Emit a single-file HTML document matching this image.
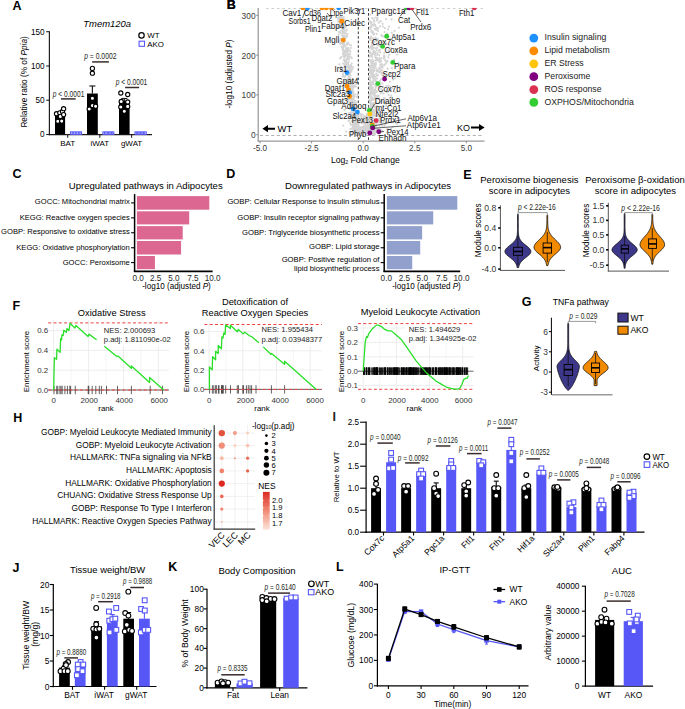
<!DOCTYPE html>
<html><head><meta charset="utf-8"><style>
html,body{margin:0;padding:0;background:#fff;}
svg{display:block;font-family:"Liberation Sans",sans-serif;}

</style></head><body>
<svg width="685" height="709" viewBox="0 0 685 709">
<rect width="685" height="709" fill="#fff"/>
<text x="12.6" y="10" font-size="12.5" font-weight="bold">A</text>
<text x="83.3" y="26.8" font-size="9.4" font-style="italic" textLength="47.7" lengthAdjust="spacingAndGlyphs">Tmem120a</text>
<line x1="49.4" y1="31.3" x2="49.4" y2="135.2" stroke="#231f20" stroke-width="1.2"/>
<line x1="48.8" y1="134.6" x2="152" y2="134.6" stroke="#231f20" stroke-width="1.2"/>
<line x1="46.2" y1="31.7" x2="49.4" y2="31.7" stroke="#231f20" stroke-width="1.1"/>
<text x="44.6" y="34.6" font-size="8.2" text-anchor="end">150</text>
<line x1="46.2" y1="65.97" x2="49.4" y2="65.97" stroke="#231f20" stroke-width="1.1"/>
<text x="44.6" y="68.87" font-size="8.2" text-anchor="end">100</text>
<line x1="46.2" y1="100.23" x2="49.4" y2="100.23" stroke="#231f20" stroke-width="1.1"/>
<text x="44.6" y="103.14" font-size="8.2" text-anchor="end">50</text>
<line x1="46.2" y1="134.5" x2="49.4" y2="134.5" stroke="#231f20" stroke-width="1.1"/>
<text x="44.6" y="137.4" font-size="8.2" text-anchor="end">0</text>
<text x="27.2" y="81.9" font-size="8.27" text-anchor="middle" transform="rotate(-90 27.2 81.9)">Relative ratio (% of <tspan font-style="italic">Ppia</tspan>)</text>
<line x1="67.7" y1="134.6" x2="67.7" y2="137.8" stroke="#231f20" stroke-width="1.1"/>
<text x="67.7" y="145.6" font-size="8" text-anchor="middle">BAT</text>
<line x1="99.8" y1="134.6" x2="99.8" y2="137.8" stroke="#231f20" stroke-width="1.1"/>
<text x="99.8" y="145.6" font-size="8" text-anchor="middle">iWAT</text>
<line x1="131.6" y1="134.6" x2="131.6" y2="137.8" stroke="#231f20" stroke-width="1.1"/>
<text x="131.6" y="145.6" font-size="8" text-anchor="middle">gWAT</text>
<rect x="55" y="114.28" width="10.1" height="20.22" fill="#000"/>
<line x1="60.05" y1="114.28" x2="60.05" y2="112.23" stroke="#231f20" stroke-width="1.2"/>
<line x1="57.05" y1="112.23" x2="63.05" y2="112.23" stroke="#231f20" stroke-width="1.2"/>
<rect x="87" y="93.52" width="10.8" height="40.98" fill="#000"/>
<line x1="92.4" y1="93.52" x2="92.4" y2="85.98" stroke="#231f20" stroke-width="1.2"/>
<line x1="89.4" y1="85.98" x2="95.4" y2="85.98" stroke="#231f20" stroke-width="1.2"/>
<rect x="119" y="100.92" width="10.6" height="33.58" fill="#000"/>
<line x1="124.3" y1="100.92" x2="124.3" y2="98.52" stroke="#231f20" stroke-width="1.2"/>
<line x1="121.3" y1="98.52" x2="127.3" y2="98.52" stroke="#231f20" stroke-width="1.2"/>
<rect x="70.6" y="131.9" width="10.9" height="2.4" fill="#fff" stroke="#5757f7" stroke-width="1.1"/>
<rect x="72.2" y="132.3" width="1.6" height="1.6" fill="#fff" stroke="#5757f7" stroke-width="0.8"/>
<rect x="75.3" y="132.3" width="1.6" height="1.6" fill="#fff" stroke="#5757f7" stroke-width="0.8"/>
<rect x="78.4" y="132.3" width="1.6" height="1.6" fill="#fff" stroke="#5757f7" stroke-width="0.8"/>
<rect x="102.9" y="131.9" width="10.9" height="2.4" fill="#fff" stroke="#5757f7" stroke-width="1.1"/>
<rect x="104.5" y="132.3" width="1.6" height="1.6" fill="#fff" stroke="#5757f7" stroke-width="0.8"/>
<rect x="107.6" y="132.3" width="1.6" height="1.6" fill="#fff" stroke="#5757f7" stroke-width="0.8"/>
<rect x="110.7" y="132.3" width="1.6" height="1.6" fill="#fff" stroke="#5757f7" stroke-width="0.8"/>
<rect x="135" y="131.9" width="11.3" height="2.4" fill="#fff" stroke="#5757f7" stroke-width="1.1"/>
<rect x="136.6" y="132.3" width="1.6" height="1.6" fill="#fff" stroke="#5757f7" stroke-width="0.8"/>
<rect x="139.7" y="132.3" width="1.6" height="1.6" fill="#fff" stroke="#5757f7" stroke-width="0.8"/>
<rect x="142.8" y="132.3" width="1.6" height="1.6" fill="#fff" stroke="#5757f7" stroke-width="0.8"/>
<circle cx="56.5" cy="113.7" r="2.1" fill="#fff" stroke="#000" stroke-width="1.1"/>
<circle cx="59.8" cy="112.8" r="2.1" fill="#fff" stroke="#000" stroke-width="1.1"/>
<circle cx="62.5" cy="111.5" r="2.1" fill="#fff" stroke="#000" stroke-width="1.1"/>
<circle cx="63.6" cy="108.7" r="2.1" fill="#fff" stroke="#000" stroke-width="1.1"/>
<circle cx="57.8" cy="121.3" r="2.1" fill="#fff" stroke="#000" stroke-width="1.1"/>
<circle cx="61.7" cy="121.1" r="2.1" fill="#fff" stroke="#000" stroke-width="1.1"/>
<circle cx="60.4" cy="116.4" r="2.1" fill="#fff" stroke="#000" stroke-width="1.1"/>
<circle cx="63.6" cy="114.6" r="2.1" fill="#fff" stroke="#000" stroke-width="1.1"/>
<circle cx="92.4" cy="68.4" r="2.1" fill="#fff" stroke="#000" stroke-width="1.1"/>
<circle cx="92.4" cy="73.2" r="2.1" fill="#fff" stroke="#000" stroke-width="1.1"/>
<circle cx="92.4" cy="98.3" r="2.1" fill="#fff" stroke="#000" stroke-width="1.1"/>
<circle cx="89.2" cy="109" r="2.1" fill="#fff" stroke="#000" stroke-width="1.1"/>
<circle cx="92.4" cy="105.5" r="2.1" fill="#fff" stroke="#000" stroke-width="1.1"/>
<circle cx="95.6" cy="106.2" r="2.1" fill="#fff" stroke="#000" stroke-width="1.1"/>
<circle cx="120.8" cy="107" r="2.1" fill="#fff" stroke="#000" stroke-width="1.1"/>
<circle cx="127.7" cy="106.4" r="2.1" fill="#fff" stroke="#000" stroke-width="1.1"/>
<circle cx="120.8" cy="93" r="2.1" fill="#fff" stroke="#000" stroke-width="1.1"/>
<circle cx="127.7" cy="94.5" r="2.1" fill="#fff" stroke="#000" stroke-width="1.1"/>
<circle cx="124.3" cy="111.2" r="2.1" fill="#fff" stroke="#000" stroke-width="1.1"/>
<circle cx="127.7" cy="102" r="2.1" fill="#fff" stroke="#000" stroke-width="1.1"/>
<circle cx="121.2" cy="101.5" r="2.1" fill="#fff" stroke="#000" stroke-width="1.1"/>
<text x="52.8" y="97.4" font-size="8.6" textLength="31.6" lengthAdjust="spacingAndGlyphs" fill="#231f20" style="stroke:none"><tspan font-style="italic">p</tspan> &lt; 0.0001</text>
<line x1="61" y1="98.9" x2="75.6" y2="98.9" stroke="#3a2c2c" stroke-width="1.5"/>
<text x="84.2" y="59.2" font-size="8.6" textLength="32.3" lengthAdjust="spacingAndGlyphs" fill="#231f20" style="stroke:none"><tspan font-style="italic">p</tspan> = 0.0002</text>
<line x1="92.2" y1="61.9" x2="108.9" y2="61.9" stroke="#3a2c2c" stroke-width="1.5"/>
<text x="115.8" y="85.1" font-size="8.6" textLength="31.5" lengthAdjust="spacingAndGlyphs" fill="#231f20" style="stroke:none"><tspan font-style="italic">p</tspan> &lt; 0.0001</text>
<line x1="125.1" y1="87.5" x2="139.1" y2="87.5" stroke="#3a2c2c" stroke-width="1.5"/>
<circle cx="141.5" cy="35.4" r="2.7" fill="#fff" stroke="#000" stroke-width="1.2"/>
<text x="147.3" y="38.4" font-size="8" textLength="12.3" lengthAdjust="spacingAndGlyphs">WT</text>
<rect x="139.1" y="41.2" width="5.4" height="5.1" fill="#fff" stroke="#5757f7" stroke-width="1.1"/>
<text x="147.3" y="46.6" font-size="8" textLength="16.7" lengthAdjust="spacingAndGlyphs">AKO</text>
<text x="226.8" y="9.4" font-size="12.5" font-weight="bold">B</text>
<line x1="258.2" y1="8" x2="258.2" y2="141.6" stroke="#999" stroke-width="1.25"/>
<line x1="257.6" y1="141.1" x2="484.5" y2="141.1" stroke="#999" stroke-width="1.1"/>
<line x1="256.2" y1="134.7" x2="258.2" y2="134.7" stroke="#8c8c8c" stroke-width="1"/>
<text x="255.6" y="138.2" font-size="8.4" text-anchor="end" fill="#3a3a3a">0</text>
<line x1="256.2" y1="94.9" x2="258.2" y2="94.9" stroke="#8c8c8c" stroke-width="1"/>
<text x="255.6" y="98.4" font-size="8.4" text-anchor="end" fill="#3a3a3a">100</text>
<line x1="256.2" y1="55.1" x2="258.2" y2="55.1" stroke="#8c8c8c" stroke-width="1"/>
<text x="255.6" y="58.6" font-size="8.4" text-anchor="end" fill="#3a3a3a">200</text>
<line x1="256.2" y1="15.3" x2="258.2" y2="15.3" stroke="#8c8c8c" stroke-width="1"/>
<text x="255.6" y="18.8" font-size="8.4" text-anchor="end" fill="#3a3a3a">300</text>
<line x1="260" y1="141.1" x2="260" y2="143.3" stroke="#8c8c8c" stroke-width="1"/>
<text x="260" y="150.7" font-size="8.2" text-anchor="middle" fill="#3a3a3a">-5.0</text>
<line x1="311.6" y1="141.1" x2="311.6" y2="143.3" stroke="#8c8c8c" stroke-width="1"/>
<text x="311.6" y="150.7" font-size="8.2" text-anchor="middle" fill="#3a3a3a">-2.5</text>
<line x1="363.2" y1="141.1" x2="363.2" y2="143.3" stroke="#8c8c8c" stroke-width="1"/>
<text x="363.2" y="150.7" font-size="8.2" text-anchor="middle" fill="#3a3a3a">0.0</text>
<line x1="414.8" y1="141.1" x2="414.8" y2="143.3" stroke="#8c8c8c" stroke-width="1"/>
<text x="414.8" y="150.7" font-size="8.2" text-anchor="middle" fill="#3a3a3a">2.5</text>
<line x1="466.4" y1="141.1" x2="466.4" y2="143.3" stroke="#8c8c8c" stroke-width="1"/>
<text x="466.4" y="150.7" font-size="8.2" text-anchor="middle" fill="#3a3a3a">5.0</text>
<text x="365.3" y="163" font-size="8.6" text-anchor="middle">Log<tspan font-size="5.2" dy="0.8">2</tspan><tspan dy="-0.8"> Fold Change</tspan></text>
<text x="232.3" y="74" font-size="8.16" text-anchor="middle" transform="rotate(-90 232.3 74)">-log10 (adjusted <tspan font-style="italic">P</tspan>)</text>
<line x1="260" y1="135.5" x2="484" y2="135.5" stroke="#9a9a9a" stroke-width="0.8" stroke-dasharray="3,2.6"/>
<line x1="266" y1="8.4" x2="484" y2="8.4" stroke="#bbbbbb" stroke-width="0.8" stroke-dasharray="2.5,3"/>
<line x1="358.3" y1="8.5" x2="358.3" y2="141" stroke="#222" stroke-width="0.9" stroke-dasharray="2.6,2"/>
<line x1="368.5" y1="8.5" x2="368.5" y2="141" stroke="#222" stroke-width="0.9" stroke-dasharray="2.6,2"/>
<g fill="#d4d4d4">
<circle cx="343.1" cy="73.3" r="1.1"/>
<circle cx="346.6" cy="74.8" r="1.1"/>
<circle cx="348.0" cy="79.7" r="1.1"/>
<circle cx="348.6" cy="80.1" r="1.1"/>
<circle cx="351.5" cy="93.5" r="1.1"/>
<circle cx="345.2" cy="55.7" r="1.1"/>
<circle cx="344.3" cy="28.7" r="1.1"/>
<circle cx="338.2" cy="21.8" r="1.1"/>
<circle cx="356.0" cy="132.1" r="1.1"/>
<circle cx="343.1" cy="37.5" r="1.1"/>
<circle cx="340.5" cy="17.7" r="1.1"/>
<circle cx="344.3" cy="41.7" r="1.1"/>
<circle cx="348.2" cy="48.2" r="1.1"/>
<circle cx="349.0" cy="71.9" r="1.1"/>
<circle cx="350.6" cy="117.0" r="1.1"/>
<circle cx="348.9" cy="78.7" r="1.1"/>
<circle cx="349.7" cy="97.1" r="1.1"/>
<circle cx="357.0" cy="133.7" r="1.1"/>
<circle cx="356.9" cy="133.5" r="1.1"/>
<circle cx="341.7" cy="46.7" r="1.1"/>
<circle cx="350.1" cy="53.9" r="1.1"/>
<circle cx="349.7" cy="67.2" r="1.1"/>
<circle cx="349.4" cy="117.4" r="1.1"/>
<circle cx="357.8" cy="117.5" r="1.1"/>
<circle cx="347.3" cy="44.2" r="1.1"/>
<circle cx="354.7" cy="131.9" r="1.1"/>
<circle cx="351.0" cy="66.9" r="1.1"/>
<circle cx="355.0" cy="110.0" r="1.1"/>
<circle cx="347.8" cy="51.6" r="1.1"/>
<circle cx="357.2" cy="130.1" r="1.1"/>
<circle cx="354.5" cy="107.7" r="1.1"/>
<circle cx="344.3" cy="30.1" r="1.1"/>
<circle cx="342.7" cy="24.4" r="1.1"/>
<circle cx="348.6" cy="85.5" r="1.1"/>
<circle cx="350.1" cy="72.7" r="1.1"/>
<circle cx="347.4" cy="34.1" r="1.1"/>
<circle cx="353.4" cy="95.1" r="1.1"/>
<circle cx="346.7" cy="44.6" r="1.1"/>
<circle cx="350.4" cy="51.6" r="1.1"/>
<circle cx="345.5" cy="55.8" r="1.1"/>
<circle cx="355.5" cy="121.6" r="1.1"/>
<circle cx="357.0" cy="118.3" r="1.1"/>
<circle cx="357.7" cy="94.8" r="1.1"/>
<circle cx="349.5" cy="44.6" r="1.1"/>
<circle cx="345.9" cy="50.2" r="1.1"/>
<circle cx="343.9" cy="54.8" r="1.1"/>
<circle cx="345.4" cy="26.3" r="1.1"/>
<circle cx="347.2" cy="48.3" r="1.1"/>
<circle cx="348.8" cy="90.3" r="1.1"/>
<circle cx="356.3" cy="129.6" r="1.1"/>
<circle cx="351.5" cy="87.3" r="1.1"/>
<circle cx="342.7" cy="37.1" r="1.1"/>
<circle cx="356.0" cy="124.1" r="1.1"/>
<circle cx="342.7" cy="41.7" r="1.1"/>
<circle cx="354.4" cy="105.7" r="1.1"/>
<circle cx="355.2" cy="128.6" r="1.1"/>
<circle cx="352.7" cy="121.3" r="1.1"/>
<circle cx="341.4" cy="30.5" r="1.1"/>
<circle cx="343.7" cy="21.4" r="1.1"/>
<circle cx="351.9" cy="101.8" r="1.1"/>
<circle cx="347.1" cy="50.0" r="1.1"/>
<circle cx="343.0" cy="54.5" r="1.1"/>
<circle cx="344.1" cy="39.8" r="1.1"/>
<circle cx="344.1" cy="46.5" r="1.1"/>
<circle cx="352.3" cy="85.5" r="1.1"/>
<circle cx="343.1" cy="52.9" r="1.1"/>
<circle cx="355.5" cy="125.1" r="1.1"/>
<circle cx="346.2" cy="51.5" r="1.1"/>
<circle cx="350.0" cy="72.5" r="1.1"/>
<circle cx="347.9" cy="63.5" r="1.1"/>
<circle cx="352.0" cy="87.0" r="1.1"/>
<circle cx="356.8" cy="122.3" r="1.1"/>
<circle cx="354.0" cy="131.9" r="1.1"/>
<circle cx="347.2" cy="88.4" r="1.1"/>
<circle cx="344.1" cy="35.3" r="1.1"/>
<circle cx="355.3" cy="124.3" r="1.1"/>
<circle cx="352.8" cy="101.4" r="1.1"/>
<circle cx="351.2" cy="94.2" r="1.1"/>
<circle cx="348.8" cy="76.7" r="1.1"/>
<circle cx="354.2" cy="133.9" r="1.1"/>
<circle cx="338.4" cy="26.6" r="1.1"/>
<circle cx="353.9" cy="123.3" r="1.1"/>
<circle cx="351.5" cy="105.4" r="1.1"/>
<circle cx="350.9" cy="124.9" r="1.1"/>
<circle cx="344.8" cy="61.5" r="1.1"/>
<circle cx="349.6" cy="120.1" r="1.1"/>
<circle cx="349.4" cy="69.2" r="1.1"/>
<circle cx="345.4" cy="87.1" r="1.1"/>
<circle cx="348.6" cy="92.9" r="1.1"/>
<circle cx="353.2" cy="91.1" r="1.1"/>
<circle cx="337.3" cy="27.3" r="1.1"/>
<circle cx="348.5" cy="121.0" r="1.1"/>
<circle cx="349.4" cy="104.4" r="1.1"/>
<circle cx="353.2" cy="88.0" r="1.1"/>
<circle cx="349.0" cy="71.9" r="1.1"/>
<circle cx="352.0" cy="106.9" r="1.1"/>
<circle cx="339.3" cy="20.0" r="1.1"/>
<circle cx="343.4" cy="46.7" r="1.1"/>
<circle cx="348.6" cy="101.1" r="1.1"/>
<circle cx="355.4" cy="125.4" r="1.1"/>
<circle cx="347.7" cy="49.9" r="1.1"/>
<circle cx="352.1" cy="98.9" r="1.1"/>
<circle cx="347.4" cy="43.3" r="1.1"/>
<circle cx="356.6" cy="96.9" r="1.1"/>
<circle cx="350.2" cy="72.1" r="1.1"/>
<circle cx="350.3" cy="97.5" r="1.1"/>
<circle cx="340.3" cy="42.8" r="1.1"/>
<circle cx="357.3" cy="124.8" r="1.1"/>
<circle cx="352.2" cy="121.1" r="1.1"/>
<circle cx="348.8" cy="57.3" r="1.1"/>
<circle cx="338.6" cy="34.8" r="1.1"/>
<circle cx="354.5" cy="117.7" r="1.1"/>
<circle cx="354.4" cy="102.6" r="1.1"/>
<circle cx="343.5" cy="39.0" r="1.1"/>
<circle cx="348.3" cy="73.1" r="1.1"/>
<circle cx="349.8" cy="68.8" r="1.1"/>
<circle cx="348.9" cy="93.0" r="1.1"/>
<circle cx="354.3" cy="116.6" r="1.1"/>
<circle cx="355.3" cy="132.1" r="1.1"/>
<circle cx="342.0" cy="20.3" r="1.1"/>
<circle cx="356.1" cy="120.3" r="1.1"/>
<circle cx="347.4" cy="56.4" r="1.1"/>
<circle cx="355.0" cy="111.4" r="1.1"/>
<circle cx="348.8" cy="73.6" r="1.1"/>
<circle cx="342.5" cy="19.3" r="1.1"/>
<circle cx="342.0" cy="35.4" r="1.1"/>
<circle cx="340.0" cy="22.6" r="1.1"/>
<circle cx="349.2" cy="93.5" r="1.1"/>
<circle cx="353.9" cy="96.3" r="1.1"/>
<circle cx="345.9" cy="99.6" r="1.1"/>
<circle cx="343.0" cy="42.9" r="1.1"/>
<circle cx="341.5" cy="17.0" r="1.1"/>
<circle cx="348.5" cy="75.6" r="1.1"/>
<circle cx="344.2" cy="51.9" r="1.1"/>
<circle cx="345.9" cy="60.8" r="1.1"/>
<circle cx="348.0" cy="91.8" r="1.1"/>
<circle cx="349.4" cy="107.5" r="1.1"/>
<circle cx="357.5" cy="123.9" r="1.1"/>
<circle cx="355.3" cy="126.8" r="1.1"/>
<circle cx="347.3" cy="73.4" r="1.1"/>
<circle cx="353.3" cy="93.0" r="1.1"/>
<circle cx="349.0" cy="86.6" r="1.1"/>
<circle cx="356.6" cy="121.0" r="1.1"/>
<circle cx="342.8" cy="74.6" r="1.1"/>
<circle cx="352.7" cy="95.9" r="1.1"/>
<circle cx="355.9" cy="114.4" r="1.1"/>
<circle cx="353.8" cy="103.3" r="1.1"/>
<circle cx="354.9" cy="131.9" r="1.1"/>
<circle cx="350.4" cy="83.0" r="1.1"/>
<circle cx="353.0" cy="124.3" r="1.1"/>
<circle cx="353.8" cy="118.4" r="1.1"/>
<circle cx="349.3" cy="71.9" r="1.1"/>
<circle cx="350.4" cy="84.5" r="1.1"/>
<circle cx="338.6" cy="19.8" r="1.1"/>
<circle cx="357.3" cy="113.3" r="1.1"/>
<circle cx="348.6" cy="59.5" r="1.1"/>
<circle cx="354.4" cy="111.0" r="1.1"/>
<circle cx="350.7" cy="80.7" r="1.1"/>
<circle cx="354.7" cy="103.9" r="1.1"/>
<circle cx="352.4" cy="128.2" r="1.1"/>
<circle cx="350.2" cy="77.9" r="1.1"/>
<circle cx="344.6" cy="45.6" r="1.1"/>
<circle cx="348.7" cy="81.8" r="1.1"/>
<circle cx="355.4" cy="94.5" r="1.1"/>
<circle cx="351.5" cy="81.4" r="1.1"/>
<circle cx="343.7" cy="56.7" r="1.1"/>
<circle cx="350.7" cy="65.0" r="1.1"/>
<circle cx="340.2" cy="44.0" r="1.1"/>
<circle cx="357.5" cy="117.9" r="1.1"/>
<circle cx="349.8" cy="87.1" r="1.1"/>
<circle cx="341.7" cy="43.1" r="1.1"/>
<circle cx="350.2" cy="90.7" r="1.1"/>
<circle cx="344.7" cy="19.7" r="1.1"/>
<circle cx="347.2" cy="67.2" r="1.1"/>
<circle cx="350.9" cy="112.5" r="1.1"/>
<circle cx="351.0" cy="100.3" r="1.1"/>
<circle cx="339.7" cy="25.3" r="1.1"/>
<circle cx="355.2" cy="129.4" r="1.1"/>
<circle cx="355.1" cy="125.8" r="1.1"/>
<circle cx="346.3" cy="33.6" r="1.1"/>
<circle cx="350.5" cy="71.1" r="1.1"/>
<circle cx="343.8" cy="76.1" r="1.1"/>
<circle cx="347.8" cy="57.3" r="1.1"/>
<circle cx="357.4" cy="126.0" r="1.1"/>
<circle cx="355.1" cy="110.1" r="1.1"/>
<circle cx="345.3" cy="46.4" r="1.1"/>
<circle cx="351.0" cy="99.9" r="1.1"/>
<circle cx="353.3" cy="92.4" r="1.1"/>
<circle cx="342.9" cy="30.6" r="1.1"/>
<circle cx="348.1" cy="80.0" r="1.1"/>
<circle cx="346.5" cy="49.2" r="1.1"/>
<circle cx="351.4" cy="71.5" r="1.1"/>
<circle cx="344.7" cy="64.3" r="1.1"/>
<circle cx="345.6" cy="37.8" r="1.1"/>
<circle cx="342.2" cy="43.5" r="1.1"/>
<circle cx="347.0" cy="82.2" r="1.1"/>
<circle cx="350.5" cy="117.9" r="1.1"/>
<circle cx="341.9" cy="47.0" r="1.1"/>
<circle cx="354.9" cy="105.8" r="1.1"/>
<circle cx="341.3" cy="57.2" r="1.1"/>
<circle cx="348.1" cy="57.1" r="1.1"/>
<circle cx="355.6" cy="133.8" r="1.1"/>
<circle cx="356.2" cy="121.9" r="1.1"/>
<circle cx="354.1" cy="104.3" r="1.1"/>
<circle cx="349.6" cy="50.3" r="1.1"/>
<circle cx="350.9" cy="69.7" r="1.1"/>
<circle cx="355.4" cy="111.2" r="1.1"/>
<circle cx="353.9" cy="99.7" r="1.1"/>
<circle cx="342.6" cy="18.2" r="1.1"/>
<circle cx="354.9" cy="124.5" r="1.1"/>
<circle cx="338.8" cy="32.0" r="1.1"/>
<circle cx="349.2" cy="79.1" r="1.1"/>
<circle cx="352.4" cy="99.7" r="1.1"/>
<circle cx="344.0" cy="30.8" r="1.1"/>
<circle cx="338.8" cy="21.2" r="1.1"/>
<circle cx="349.3" cy="86.6" r="1.1"/>
<circle cx="344.5" cy="36.1" r="1.1"/>
<circle cx="355.9" cy="116.7" r="1.1"/>
<circle cx="357.4" cy="133.0" r="1.1"/>
<circle cx="341.8" cy="24.7" r="1.1"/>
<circle cx="351.5" cy="128.8" r="1.1"/>
<circle cx="347.7" cy="58.5" r="1.1"/>
<circle cx="346.1" cy="75.0" r="1.1"/>
<circle cx="350.5" cy="90.2" r="1.1"/>
<circle cx="339.8" cy="17.4" r="1.1"/>
<circle cx="339.6" cy="40.6" r="1.1"/>
<circle cx="348.4" cy="73.5" r="1.1"/>
<circle cx="341.9" cy="42.3" r="1.1"/>
<circle cx="343.6" cy="38.5" r="1.1"/>
<circle cx="355.0" cy="122.5" r="1.1"/>
<circle cx="352.3" cy="112.5" r="1.1"/>
<circle cx="346.3" cy="93.4" r="1.1"/>
<circle cx="345.4" cy="67.7" r="1.1"/>
<circle cx="354.5" cy="132.1" r="1.1"/>
<circle cx="353.5" cy="112.9" r="1.1"/>
<circle cx="355.5" cy="106.2" r="1.1"/>
<circle cx="349.3" cy="114.0" r="1.1"/>
<circle cx="355.7" cy="121.1" r="1.1"/>
<circle cx="353.5" cy="108.8" r="1.1"/>
<circle cx="349.9" cy="103.8" r="1.1"/>
<circle cx="340.8" cy="25.9" r="1.1"/>
<circle cx="343.7" cy="17.0" r="1.1"/>
<circle cx="344.8" cy="61.9" r="1.1"/>
<circle cx="342.4" cy="47.0" r="1.1"/>
<circle cx="354.5" cy="128.1" r="1.1"/>
<circle cx="349.6" cy="96.8" r="1.1"/>
<circle cx="347.8" cy="86.7" r="1.1"/>
<circle cx="356.0" cy="134.0" r="1.1"/>
<circle cx="350.1" cy="94.9" r="1.1"/>
<circle cx="352.0" cy="131.9" r="1.1"/>
<circle cx="338.3" cy="19.0" r="1.1"/>
<circle cx="342.7" cy="50.0" r="1.1"/>
<circle cx="349.4" cy="67.4" r="1.1"/>
<circle cx="348.0" cy="64.3" r="1.1"/>
<circle cx="342.9" cy="29.8" r="1.1"/>
<circle cx="355.7" cy="84.5" r="1.1"/>
<circle cx="352.7" cy="79.7" r="1.1"/>
<circle cx="355.7" cy="133.5" r="1.1"/>
<circle cx="351.7" cy="94.4" r="1.1"/>
<circle cx="349.8" cy="89.9" r="1.1"/>
<circle cx="357.3" cy="107.9" r="1.1"/>
<circle cx="350.6" cy="75.5" r="1.1"/>
<circle cx="340.6" cy="39.0" r="1.1"/>
<circle cx="342.3" cy="24.3" r="1.1"/>
<circle cx="352.9" cy="128.1" r="1.1"/>
<circle cx="352.3" cy="89.9" r="1.1"/>
<circle cx="346.4" cy="63.1" r="1.1"/>
<circle cx="353.9" cy="85.7" r="1.1"/>
<circle cx="345.5" cy="53.3" r="1.1"/>
<circle cx="339.2" cy="17.6" r="1.1"/>
<circle cx="346.8" cy="48.6" r="1.1"/>
<circle cx="353.4" cy="107.4" r="1.1"/>
<circle cx="351.1" cy="66.0" r="1.1"/>
<circle cx="339.5" cy="23.1" r="1.1"/>
<circle cx="357.3" cy="132.8" r="1.1"/>
<circle cx="354.8" cy="123.8" r="1.1"/>
<circle cx="341.3" cy="70.6" r="1.1"/>
<circle cx="346.3" cy="48.4" r="1.1"/>
<circle cx="353.5" cy="81.4" r="1.1"/>
<circle cx="347.2" cy="75.1" r="1.1"/>
<circle cx="357.6" cy="131.7" r="1.1"/>
<circle cx="340.0" cy="32.0" r="1.1"/>
<circle cx="349.5" cy="92.9" r="1.1"/>
<circle cx="342.6" cy="23.3" r="1.1"/>
<circle cx="351.7" cy="82.0" r="1.1"/>
<circle cx="353.8" cy="97.8" r="1.1"/>
<circle cx="348.4" cy="73.6" r="1.1"/>
<circle cx="351.5" cy="69.5" r="1.1"/>
<circle cx="344.5" cy="109.9" r="1.1"/>
<circle cx="354.1" cy="128.9" r="1.1"/>
<circle cx="352.8" cy="105.1" r="1.1"/>
<circle cx="356.3" cy="122.4" r="1.1"/>
<circle cx="351.7" cy="110.6" r="1.1"/>
<circle cx="344.1" cy="51.8" r="1.1"/>
<circle cx="348.8" cy="99.7" r="1.1"/>
<circle cx="349.9" cy="93.9" r="1.1"/>
<circle cx="353.7" cy="107.2" r="1.1"/>
<circle cx="355.1" cy="131.8" r="1.1"/>
<circle cx="355.7" cy="120.9" r="1.1"/>
<circle cx="346.0" cy="51.7" r="1.1"/>
<circle cx="347.3" cy="70.1" r="1.1"/>
<circle cx="349.1" cy="83.5" r="1.1"/>
<circle cx="345.8" cy="26.2" r="1.1"/>
<circle cx="352.1" cy="84.6" r="1.1"/>
<circle cx="349.2" cy="93.6" r="1.1"/>
<circle cx="346.9" cy="44.3" r="1.1"/>
<circle cx="346.8" cy="60.5" r="1.1"/>
<circle cx="337.5" cy="26.5" r="1.1"/>
<circle cx="344.6" cy="32.6" r="1.1"/>
<circle cx="349.8" cy="108.9" r="1.1"/>
<circle cx="343.1" cy="44.6" r="1.1"/>
<circle cx="354.7" cy="113.4" r="1.1"/>
<circle cx="342.9" cy="63.5" r="1.1"/>
<circle cx="340.2" cy="58.3" r="1.1"/>
<circle cx="349.9" cy="84.3" r="1.1"/>
<circle cx="342.4" cy="70.4" r="1.1"/>
<circle cx="351.7" cy="63.5" r="1.1"/>
<circle cx="345.6" cy="27.0" r="1.1"/>
<circle cx="339.9" cy="27.7" r="1.1"/>
<circle cx="350.9" cy="99.7" r="1.1"/>
<circle cx="346.4" cy="55.1" r="1.1"/>
<circle cx="343.8" cy="44.6" r="1.1"/>
<circle cx="353.6" cy="97.1" r="1.1"/>
<circle cx="353.7" cy="104.1" r="1.1"/>
<circle cx="351.9" cy="100.7" r="1.1"/>
<circle cx="348.6" cy="62.2" r="1.1"/>
<circle cx="351.8" cy="104.2" r="1.1"/>
<circle cx="353.3" cy="102.4" r="1.1"/>
<circle cx="355.7" cy="86.7" r="1.1"/>
<circle cx="352.3" cy="124.7" r="1.1"/>
<circle cx="349.1" cy="71.6" r="1.1"/>
<circle cx="344.4" cy="57.4" r="1.1"/>
<circle cx="352.8" cy="67.1" r="1.1"/>
<circle cx="343.2" cy="49.0" r="1.1"/>
<circle cx="345.6" cy="62.6" r="1.1"/>
<circle cx="349.6" cy="66.7" r="1.1"/>
<circle cx="348.7" cy="65.7" r="1.1"/>
<circle cx="356.8" cy="112.0" r="1.1"/>
<circle cx="351.6" cy="83.4" r="1.1"/>
<circle cx="341.4" cy="40.0" r="1.1"/>
<circle cx="354.6" cy="107.8" r="1.1"/>
<circle cx="340.1" cy="18.9" r="1.1"/>
<circle cx="346.3" cy="80.6" r="1.1"/>
<circle cx="355.1" cy="130.4" r="1.1"/>
<circle cx="351.9" cy="95.9" r="1.1"/>
<circle cx="349.1" cy="84.1" r="1.1"/>
<circle cx="354.4" cy="111.0" r="1.1"/>
<circle cx="353.3" cy="105.4" r="1.1"/>
<circle cx="357.4" cy="123.1" r="1.1"/>
<circle cx="354.8" cy="106.4" r="1.1"/>
<circle cx="351.6" cy="95.6" r="1.1"/>
<circle cx="355.0" cy="108.5" r="1.1"/>
<circle cx="349.9" cy="81.2" r="1.1"/>
<circle cx="344.2" cy="59.8" r="1.1"/>
<circle cx="354.6" cy="130.6" r="1.1"/>
<circle cx="347.2" cy="83.0" r="1.1"/>
<circle cx="351.0" cy="103.6" r="1.1"/>
<circle cx="342.4" cy="68.4" r="1.1"/>
<circle cx="351.5" cy="115.2" r="1.1"/>
<circle cx="349.3" cy="113.0" r="1.1"/>
<circle cx="355.9" cy="116.0" r="1.1"/>
<circle cx="345.4" cy="81.5" r="1.1"/>
<circle cx="353.3" cy="102.4" r="1.1"/>
<circle cx="345.5" cy="69.6" r="1.1"/>
<circle cx="343.3" cy="36.1" r="1.1"/>
<circle cx="339.5" cy="64.3" r="1.1"/>
<circle cx="344.9" cy="38.9" r="1.1"/>
<circle cx="348.7" cy="54.3" r="1.1"/>
<circle cx="357.5" cy="130.8" r="1.1"/>
<circle cx="352.3" cy="95.5" r="1.1"/>
<circle cx="353.7" cy="109.7" r="1.1"/>
<circle cx="349.5" cy="74.0" r="1.1"/>
<circle cx="351.1" cy="88.3" r="1.1"/>
<circle cx="342.7" cy="31.1" r="1.1"/>
<circle cx="344.8" cy="41.0" r="1.1"/>
<circle cx="354.4" cy="103.2" r="1.1"/>
<circle cx="351.0" cy="89.6" r="1.1"/>
<circle cx="347.6" cy="53.0" r="1.1"/>
<circle cx="344.3" cy="39.5" r="1.1"/>
<circle cx="347.8" cy="84.3" r="1.1"/>
<circle cx="351.9" cy="114.2" r="1.1"/>
<circle cx="355.2" cy="121.9" r="1.1"/>
<circle cx="353.5" cy="124.8" r="1.1"/>
<circle cx="356.4" cy="129.4" r="1.1"/>
<circle cx="351.0" cy="45.6" r="1.1"/>
<circle cx="355.6" cy="112.5" r="1.1"/>
<circle cx="344.5" cy="65.4" r="1.1"/>
<circle cx="345.3" cy="52.2" r="1.1"/>
<circle cx="355.3" cy="133.0" r="1.1"/>
<circle cx="339.7" cy="17.0" r="1.1"/>
<circle cx="345.7" cy="75.6" r="1.1"/>
<circle cx="355.8" cy="102.8" r="1.1"/>
<circle cx="351.7" cy="90.8" r="1.1"/>
<circle cx="347.9" cy="57.9" r="1.1"/>
<circle cx="347.7" cy="50.3" r="1.1"/>
<circle cx="349.0" cy="94.3" r="1.1"/>
<circle cx="356.1" cy="133.3" r="1.1"/>
<circle cx="347.0" cy="36.7" r="1.1"/>
<circle cx="355.3" cy="109.1" r="1.1"/>
<circle cx="354.0" cy="114.8" r="1.1"/>
<circle cx="342.1" cy="27.6" r="1.1"/>
<circle cx="347.0" cy="29.6" r="1.1"/>
<circle cx="342.6" cy="76.5" r="1.1"/>
<circle cx="351.9" cy="88.6" r="1.1"/>
<circle cx="353.0" cy="118.6" r="1.1"/>
<circle cx="352.4" cy="69.2" r="1.1"/>
<circle cx="357.2" cy="125.0" r="1.1"/>
<circle cx="352.6" cy="83.7" r="1.1"/>
<circle cx="352.4" cy="81.7" r="1.1"/>
<circle cx="350.5" cy="56.6" r="1.1"/>
<circle cx="348.4" cy="56.6" r="1.1"/>
<circle cx="349.8" cy="75.0" r="1.1"/>
<circle cx="349.9" cy="103.0" r="1.1"/>
<circle cx="346.1" cy="30.8" r="1.1"/>
<circle cx="341.1" cy="66.5" r="1.1"/>
<circle cx="355.7" cy="115.6" r="1.1"/>
<circle cx="354.1" cy="96.2" r="1.1"/>
<circle cx="352.6" cy="102.4" r="1.1"/>
<circle cx="342.6" cy="47.6" r="1.1"/>
<circle cx="340.1" cy="17.0" r="1.1"/>
<circle cx="356.9" cy="133.1" r="1.1"/>
<circle cx="349.3" cy="92.0" r="1.1"/>
<circle cx="343.8" cy="54.1" r="1.1"/>
<circle cx="348.5" cy="55.1" r="1.1"/>
<circle cx="343.8" cy="59.8" r="1.1"/>
<circle cx="348.0" cy="50.0" r="1.1"/>
<circle cx="344.4" cy="42.9" r="1.1"/>
<circle cx="353.4" cy="128.1" r="1.1"/>
<circle cx="349.9" cy="85.9" r="1.1"/>
<circle cx="351.8" cy="115.3" r="1.1"/>
<circle cx="343.5" cy="28.9" r="1.1"/>
<circle cx="352.8" cy="98.8" r="1.1"/>
<circle cx="353.5" cy="102.2" r="1.1"/>
<circle cx="356.6" cy="116.4" r="1.1"/>
<circle cx="352.3" cy="89.3" r="1.1"/>
<circle cx="344.9" cy="37.5" r="1.1"/>
<circle cx="342.5" cy="33.2" r="1.1"/>
<circle cx="355.9" cy="125.5" r="1.1"/>
<circle cx="344.5" cy="70.3" r="1.1"/>
<circle cx="352.9" cy="108.7" r="1.1"/>
<circle cx="352.2" cy="114.7" r="1.1"/>
<circle cx="349.5" cy="68.6" r="1.1"/>
<circle cx="338.1" cy="17.8" r="1.1"/>
<circle cx="355.4" cy="132.1" r="1.1"/>
<circle cx="351.3" cy="96.9" r="1.1"/>
<circle cx="346.4" cy="59.0" r="1.1"/>
<circle cx="346.2" cy="60.3" r="1.1"/>
<circle cx="346.5" cy="64.5" r="1.1"/>
<circle cx="350.6" cy="79.8" r="1.1"/>
<circle cx="346.2" cy="91.4" r="1.1"/>
<circle cx="344.5" cy="37.7" r="1.1"/>
<circle cx="344.4" cy="84.3" r="1.1"/>
<circle cx="345.6" cy="61.6" r="1.1"/>
<circle cx="352.4" cy="102.8" r="1.1"/>
<circle cx="352.2" cy="132.6" r="1.1"/>
<circle cx="353.8" cy="116.2" r="1.1"/>
<circle cx="348.0" cy="42.6" r="1.1"/>
<circle cx="343.4" cy="42.7" r="1.1"/>
<circle cx="342.8" cy="27.7" r="1.1"/>
<circle cx="355.6" cy="101.0" r="1.1"/>
<circle cx="348.9" cy="58.8" r="1.1"/>
<circle cx="347.7" cy="74.5" r="1.1"/>
<circle cx="344.8" cy="33.2" r="1.1"/>
<circle cx="354.9" cy="123.7" r="1.1"/>
<circle cx="346.9" cy="83.7" r="1.1"/>
<circle cx="344.4" cy="50.9" r="1.1"/>
<circle cx="356.0" cy="124.2" r="1.1"/>
<circle cx="343.1" cy="33.0" r="1.1"/>
<circle cx="352.7" cy="115.0" r="1.1"/>
<circle cx="350.7" cy="48.0" r="1.1"/>
<circle cx="351.2" cy="87.2" r="1.1"/>
<circle cx="348.6" cy="84.2" r="1.1"/>
<circle cx="344.1" cy="26.7" r="1.1"/>
<circle cx="356.6" cy="132.6" r="1.1"/>
<circle cx="354.4" cy="127.5" r="1.1"/>
<circle cx="350.0" cy="98.1" r="1.1"/>
<circle cx="350.2" cy="105.5" r="1.1"/>
<circle cx="356.1" cy="112.8" r="1.1"/>
<circle cx="342.3" cy="17.9" r="1.1"/>
<circle cx="346.5" cy="35.7" r="1.1"/>
<circle cx="346.1" cy="65.6" r="1.1"/>
<circle cx="348.9" cy="81.0" r="1.1"/>
<circle cx="343.5" cy="50.8" r="1.1"/>
<circle cx="350.4" cy="94.8" r="1.1"/>
<circle cx="341.1" cy="21.3" r="1.1"/>
<circle cx="354.7" cy="129.6" r="1.1"/>
<circle cx="348.2" cy="90.2" r="1.1"/>
<circle cx="351.6" cy="92.8" r="1.1"/>
<circle cx="352.3" cy="100.1" r="1.1"/>
<circle cx="344.8" cy="77.1" r="1.1"/>
<circle cx="356.6" cy="133.4" r="1.1"/>
<circle cx="344.0" cy="71.1" r="1.1"/>
<circle cx="352.9" cy="86.3" r="1.1"/>
<circle cx="347.9" cy="81.6" r="1.1"/>
<circle cx="350.2" cy="70.9" r="1.1"/>
<circle cx="340.8" cy="23.7" r="1.1"/>
<circle cx="356.0" cy="104.2" r="1.1"/>
<circle cx="348.3" cy="89.9" r="1.1"/>
<circle cx="351.8" cy="107.1" r="1.1"/>
<circle cx="345.7" cy="25.8" r="1.1"/>
<circle cx="340.5" cy="33.2" r="1.1"/>
<circle cx="348.8" cy="66.8" r="1.1"/>
<circle cx="341.0" cy="23.3" r="1.1"/>
<circle cx="342.3" cy="47.8" r="1.1"/>
<circle cx="344.8" cy="56.0" r="1.1"/>
<circle cx="343.6" cy="25.6" r="1.1"/>
<circle cx="355.2" cy="124.5" r="1.1"/>
<circle cx="347.3" cy="69.7" r="1.1"/>
<circle cx="354.5" cy="112.9" r="1.1"/>
<circle cx="354.5" cy="86.4" r="1.1"/>
<circle cx="357.4" cy="123.6" r="1.1"/>
<circle cx="352.5" cy="83.1" r="1.1"/>
<circle cx="357.8" cy="128.7" r="1.1"/>
<circle cx="346.2" cy="55.2" r="1.1"/>
<circle cx="351.7" cy="58.2" r="1.1"/>
<circle cx="356.0" cy="114.0" r="1.1"/>
<circle cx="345.6" cy="66.8" r="1.1"/>
<circle cx="344.7" cy="22.4" r="1.1"/>
<circle cx="343.5" cy="20.2" r="1.1"/>
<circle cx="348.0" cy="78.6" r="1.1"/>
<circle cx="387.6" cy="129.0" r="1.1"/>
<circle cx="371.2" cy="83.0" r="1.1"/>
<circle cx="391.7" cy="62.5" r="1.1"/>
<circle cx="370.6" cy="125.5" r="1.1"/>
<circle cx="371.8" cy="120.0" r="1.1"/>
<circle cx="370.9" cy="83.0" r="1.1"/>
<circle cx="396.9" cy="123.9" r="1.1"/>
<circle cx="378.9" cy="50.5" r="1.1"/>
<circle cx="389.6" cy="49.0" r="1.1"/>
<circle cx="370.7" cy="26.8" r="1.1"/>
<circle cx="371.7" cy="109.1" r="1.1"/>
<circle cx="379.6" cy="125.8" r="1.1"/>
<circle cx="370.4" cy="107.9" r="1.1"/>
<circle cx="386.5" cy="106.2" r="1.1"/>
<circle cx="370.1" cy="79.9" r="1.1"/>
<circle cx="372.9" cy="53.3" r="1.1"/>
<circle cx="370.8" cy="107.6" r="1.1"/>
<circle cx="372.1" cy="47.6" r="1.1"/>
<circle cx="379.4" cy="103.1" r="1.1"/>
<circle cx="378.3" cy="71.7" r="1.1"/>
<circle cx="374.0" cy="124.4" r="1.1"/>
<circle cx="372.8" cy="54.1" r="1.1"/>
<circle cx="374.8" cy="128.3" r="1.1"/>
<circle cx="378.5" cy="60.2" r="1.1"/>
<circle cx="375.3" cy="79.4" r="1.1"/>
<circle cx="369.8" cy="89.2" r="1.1"/>
<circle cx="371.7" cy="96.5" r="1.1"/>
<circle cx="384.1" cy="56.9" r="1.1"/>
<circle cx="373.0" cy="33.4" r="1.1"/>
<circle cx="371.1" cy="112.1" r="1.1"/>
<circle cx="376.5" cy="60.5" r="1.1"/>
<circle cx="391.1" cy="48.3" r="1.1"/>
<circle cx="369.7" cy="133.9" r="1.1"/>
<circle cx="380.0" cy="81.8" r="1.1"/>
<circle cx="390.8" cy="73.1" r="1.1"/>
<circle cx="370.9" cy="85.9" r="1.1"/>
<circle cx="376.7" cy="91.9" r="1.1"/>
<circle cx="378.3" cy="70.2" r="1.1"/>
<circle cx="373.6" cy="114.7" r="1.1"/>
<circle cx="383.1" cy="86.6" r="1.1"/>
<circle cx="374.0" cy="105.0" r="1.1"/>
<circle cx="370.4" cy="130.6" r="1.1"/>
<circle cx="370.5" cy="114.4" r="1.1"/>
<circle cx="371.3" cy="97.3" r="1.1"/>
<circle cx="380.9" cy="79.4" r="1.1"/>
<circle cx="378.3" cy="115.1" r="1.1"/>
<circle cx="375.6" cy="55.0" r="1.1"/>
<circle cx="377.5" cy="53.0" r="1.1"/>
<circle cx="369.8" cy="85.8" r="1.1"/>
<circle cx="377.9" cy="96.2" r="1.1"/>
<circle cx="383.6" cy="93.7" r="1.1"/>
<circle cx="371.1" cy="47.4" r="1.1"/>
<circle cx="377.1" cy="19.9" r="1.1"/>
<circle cx="374.0" cy="78.8" r="1.1"/>
<circle cx="383.8" cy="58.4" r="1.1"/>
<circle cx="394.5" cy="30.9" r="1.1"/>
<circle cx="374.9" cy="93.3" r="1.1"/>
<circle cx="371.0" cy="115.5" r="1.1"/>
<circle cx="373.2" cy="42.6" r="1.1"/>
<circle cx="373.6" cy="25.3" r="1.1"/>
<circle cx="374.4" cy="98.7" r="1.1"/>
<circle cx="377.4" cy="58.7" r="1.1"/>
<circle cx="387.3" cy="33.6" r="1.1"/>
<circle cx="372.3" cy="46.3" r="1.1"/>
<circle cx="380.9" cy="44.6" r="1.1"/>
<circle cx="377.8" cy="119.3" r="1.1"/>
<circle cx="375.1" cy="28.9" r="1.1"/>
<circle cx="371.5" cy="70.8" r="1.1"/>
<circle cx="369.7" cy="132.3" r="1.1"/>
<circle cx="380.1" cy="84.8" r="1.1"/>
<circle cx="370.2" cy="133.7" r="1.1"/>
<circle cx="379.9" cy="81.1" r="1.1"/>
<circle cx="372.5" cy="24.7" r="1.1"/>
<circle cx="370.3" cy="124.9" r="1.1"/>
<circle cx="372.3" cy="74.1" r="1.1"/>
<circle cx="370.1" cy="77.6" r="1.1"/>
<circle cx="377.1" cy="112.8" r="1.1"/>
<circle cx="372.2" cy="54.2" r="1.1"/>
<circle cx="371.4" cy="91.5" r="1.1"/>
<circle cx="389.8" cy="81.8" r="1.1"/>
<circle cx="372.9" cy="70.7" r="1.1"/>
<circle cx="373.8" cy="133.3" r="1.1"/>
<circle cx="375.1" cy="24.8" r="1.1"/>
<circle cx="369.9" cy="101.6" r="1.1"/>
<circle cx="379.4" cy="68.3" r="1.1"/>
<circle cx="374.1" cy="122.5" r="1.1"/>
<circle cx="372.6" cy="124.5" r="1.1"/>
<circle cx="384.3" cy="74.1" r="1.1"/>
<circle cx="381.8" cy="72.7" r="1.1"/>
<circle cx="373.5" cy="52.3" r="1.1"/>
<circle cx="377.1" cy="47.9" r="1.1"/>
<circle cx="371.7" cy="45.2" r="1.1"/>
<circle cx="375.3" cy="52.1" r="1.1"/>
<circle cx="374.6" cy="64.1" r="1.1"/>
<circle cx="374.6" cy="134.4" r="1.1"/>
<circle cx="370.7" cy="122.3" r="1.1"/>
<circle cx="370.1" cy="72.9" r="1.1"/>
<circle cx="372.3" cy="105.7" r="1.1"/>
<circle cx="369.7" cy="59.9" r="1.1"/>
<circle cx="372.4" cy="47.7" r="1.1"/>
<circle cx="390.1" cy="74.1" r="1.1"/>
<circle cx="371.4" cy="108.1" r="1.1"/>
<circle cx="370.9" cy="70.4" r="1.1"/>
<circle cx="371.6" cy="129.2" r="1.1"/>
<circle cx="376.9" cy="113.0" r="1.1"/>
<circle cx="369.6" cy="126.5" r="1.1"/>
<circle cx="373.6" cy="65.7" r="1.1"/>
<circle cx="391.8" cy="32.7" r="1.1"/>
<circle cx="382.0" cy="66.1" r="1.1"/>
<circle cx="369.9" cy="88.0" r="1.1"/>
<circle cx="371.7" cy="74.2" r="1.1"/>
<circle cx="371.3" cy="25.0" r="1.1"/>
<circle cx="369.7" cy="96.0" r="1.1"/>
<circle cx="374.2" cy="64.5" r="1.1"/>
<circle cx="370.5" cy="90.6" r="1.1"/>
<circle cx="371.3" cy="107.3" r="1.1"/>
<circle cx="376.0" cy="109.1" r="1.1"/>
<circle cx="371.8" cy="42.8" r="1.1"/>
<circle cx="380.5" cy="60.6" r="1.1"/>
<circle cx="373.4" cy="75.5" r="1.1"/>
<circle cx="370.8" cy="122.6" r="1.1"/>
<circle cx="373.2" cy="62.1" r="1.1"/>
<circle cx="369.9" cy="52.3" r="1.1"/>
<circle cx="380.5" cy="21.5" r="1.1"/>
<circle cx="380.9" cy="93.0" r="1.1"/>
<circle cx="371.1" cy="132.8" r="1.1"/>
<circle cx="385.3" cy="103.7" r="1.1"/>
<circle cx="380.3" cy="52.4" r="1.1"/>
<circle cx="389.0" cy="103.3" r="1.1"/>
<circle cx="370.9" cy="122.8" r="1.1"/>
<circle cx="370.1" cy="99.8" r="1.1"/>
<circle cx="373.4" cy="78.0" r="1.1"/>
<circle cx="374.6" cy="28.7" r="1.1"/>
<circle cx="375.3" cy="66.5" r="1.1"/>
<circle cx="371.0" cy="60.6" r="1.1"/>
<circle cx="374.6" cy="75.1" r="1.1"/>
<circle cx="380.1" cy="45.6" r="1.1"/>
<circle cx="370.4" cy="55.5" r="1.1"/>
<circle cx="374.1" cy="68.1" r="1.1"/>
<circle cx="378.1" cy="43.3" r="1.1"/>
<circle cx="374.4" cy="106.7" r="1.1"/>
<circle cx="369.6" cy="106.6" r="1.1"/>
<circle cx="373.1" cy="73.9" r="1.1"/>
<circle cx="375.0" cy="29.2" r="1.1"/>
<circle cx="376.8" cy="27.7" r="1.1"/>
<circle cx="373.8" cy="95.0" r="1.1"/>
<circle cx="372.0" cy="66.1" r="1.1"/>
<circle cx="374.2" cy="21.3" r="1.1"/>
<circle cx="373.7" cy="125.0" r="1.1"/>
<circle cx="379.3" cy="58.3" r="1.1"/>
<circle cx="375.5" cy="48.3" r="1.1"/>
<circle cx="389.9" cy="98.1" r="1.1"/>
<circle cx="376.5" cy="70.5" r="1.1"/>
<circle cx="376.5" cy="129.7" r="1.1"/>
<circle cx="375.8" cy="99.3" r="1.1"/>
<circle cx="373.7" cy="76.1" r="1.1"/>
<circle cx="385.1" cy="60.1" r="1.1"/>
<circle cx="371.9" cy="123.9" r="1.1"/>
<circle cx="369.7" cy="126.7" r="1.1"/>
<circle cx="376.5" cy="41.1" r="1.1"/>
<circle cx="373.3" cy="64.1" r="1.1"/>
<circle cx="370.2" cy="132.9" r="1.1"/>
<circle cx="372.0" cy="49.2" r="1.1"/>
<circle cx="371.2" cy="104.6" r="1.1"/>
<circle cx="378.5" cy="14.6" r="1.1"/>
<circle cx="371.7" cy="74.2" r="1.1"/>
<circle cx="377.2" cy="85.3" r="1.1"/>
<circle cx="376.4" cy="91.1" r="1.1"/>
<circle cx="381.8" cy="92.4" r="1.1"/>
<circle cx="371.4" cy="132.2" r="1.1"/>
<circle cx="387.6" cy="68.7" r="1.1"/>
<circle cx="380.3" cy="64.7" r="1.1"/>
<circle cx="376.6" cy="106.1" r="1.1"/>
<circle cx="377.6" cy="131.7" r="1.1"/>
<circle cx="378.9" cy="44.5" r="1.1"/>
<circle cx="375.6" cy="84.9" r="1.1"/>
<circle cx="372.2" cy="71.3" r="1.1"/>
<circle cx="373.9" cy="111.4" r="1.1"/>
<circle cx="372.1" cy="55.1" r="1.1"/>
<circle cx="371.2" cy="66.1" r="1.1"/>
<circle cx="370.5" cy="87.4" r="1.1"/>
<circle cx="370.3" cy="29.3" r="1.1"/>
<circle cx="382.0" cy="35.9" r="1.1"/>
<circle cx="375.6" cy="37.5" r="1.1"/>
<circle cx="373.2" cy="113.7" r="1.1"/>
<circle cx="389.0" cy="45.0" r="1.1"/>
<circle cx="369.8" cy="123.0" r="1.1"/>
<circle cx="375.9" cy="57.3" r="1.1"/>
<circle cx="372.3" cy="116.0" r="1.1"/>
<circle cx="371.2" cy="108.2" r="1.1"/>
<circle cx="371.9" cy="108.2" r="1.1"/>
<circle cx="381.5" cy="67.1" r="1.1"/>
<circle cx="378.8" cy="120.4" r="1.1"/>
<circle cx="373.3" cy="93.1" r="1.1"/>
<circle cx="375.4" cy="107.3" r="1.1"/>
<circle cx="378.2" cy="119.3" r="1.1"/>
<circle cx="374.2" cy="39.5" r="1.1"/>
<circle cx="371.1" cy="103.5" r="1.1"/>
<circle cx="369.6" cy="48.1" r="1.1"/>
<circle cx="388.7" cy="95.0" r="1.1"/>
<circle cx="370.2" cy="132.3" r="1.1"/>
<circle cx="372.9" cy="105.4" r="1.1"/>
<circle cx="372.8" cy="99.7" r="1.1"/>
<circle cx="391.1" cy="128.9" r="1.1"/>
<circle cx="383.0" cy="26.5" r="1.1"/>
<circle cx="369.9" cy="38.4" r="1.1"/>
<circle cx="381.0" cy="61.3" r="1.1"/>
<circle cx="370.1" cy="134.4" r="1.1"/>
<circle cx="369.7" cy="66.7" r="1.1"/>
<circle cx="374.1" cy="90.5" r="1.1"/>
<circle cx="372.5" cy="71.8" r="1.1"/>
<circle cx="379.6" cy="116.4" r="1.1"/>
<circle cx="373.9" cy="61.0" r="1.1"/>
<circle cx="379.0" cy="98.3" r="1.1"/>
<circle cx="371.7" cy="133.3" r="1.1"/>
<circle cx="374.3" cy="106.0" r="1.1"/>
<circle cx="370.4" cy="116.4" r="1.1"/>
<circle cx="370.6" cy="46.8" r="1.1"/>
<circle cx="370.9" cy="128.9" r="1.1"/>
<circle cx="370.4" cy="84.7" r="1.1"/>
<circle cx="369.7" cy="65.9" r="1.1"/>
<circle cx="370.6" cy="92.9" r="1.1"/>
<circle cx="371.6" cy="99.1" r="1.1"/>
<circle cx="375.5" cy="53.9" r="1.1"/>
<circle cx="372.0" cy="70.9" r="1.1"/>
<circle cx="370.2" cy="27.0" r="1.1"/>
<circle cx="371.4" cy="125.1" r="1.1"/>
<circle cx="371.6" cy="31.9" r="1.1"/>
<circle cx="388.4" cy="50.5" r="1.1"/>
<circle cx="373.5" cy="84.2" r="1.1"/>
<circle cx="372.3" cy="117.0" r="1.1"/>
<circle cx="378.0" cy="28.2" r="1.1"/>
<circle cx="375.7" cy="102.3" r="1.1"/>
<circle cx="394.1" cy="60.2" r="1.1"/>
<circle cx="396.2" cy="122.5" r="1.1"/>
<circle cx="383.3" cy="79.7" r="1.1"/>
<circle cx="370.7" cy="109.1" r="1.1"/>
<circle cx="371.5" cy="22.0" r="1.1"/>
<circle cx="370.3" cy="38.5" r="1.1"/>
<circle cx="381.0" cy="70.1" r="1.1"/>
<circle cx="375.7" cy="64.3" r="1.1"/>
<circle cx="372.2" cy="18.0" r="1.1"/>
<circle cx="369.6" cy="131.3" r="1.1"/>
<circle cx="381.3" cy="88.9" r="1.1"/>
<circle cx="376.9" cy="115.6" r="1.1"/>
<circle cx="382.4" cy="74.8" r="1.1"/>
<circle cx="377.3" cy="119.0" r="1.1"/>
<circle cx="370.0" cy="133.7" r="1.1"/>
<circle cx="371.9" cy="130.5" r="1.1"/>
<circle cx="371.2" cy="107.1" r="1.1"/>
<circle cx="369.6" cy="126.7" r="1.1"/>
<circle cx="371.3" cy="94.1" r="1.1"/>
<circle cx="373.2" cy="73.5" r="1.1"/>
<circle cx="380.1" cy="102.3" r="1.1"/>
<circle cx="377.8" cy="70.8" r="1.1"/>
<circle cx="372.2" cy="69.5" r="1.1"/>
<circle cx="371.4" cy="126.3" r="1.1"/>
<circle cx="373.7" cy="34.6" r="1.1"/>
<circle cx="370.9" cy="110.7" r="1.1"/>
<circle cx="374.1" cy="110.9" r="1.1"/>
<circle cx="370.7" cy="104.6" r="1.1"/>
<circle cx="371.1" cy="36.5" r="1.1"/>
<circle cx="374.2" cy="69.1" r="1.1"/>
<circle cx="377.4" cy="17.7" r="1.1"/>
<circle cx="372.6" cy="75.2" r="1.1"/>
<circle cx="391.0" cy="89.9" r="1.1"/>
<circle cx="389.4" cy="50.8" r="1.1"/>
<circle cx="381.4" cy="65.6" r="1.1"/>
<circle cx="395.0" cy="78.3" r="1.1"/>
<circle cx="374.3" cy="52.8" r="1.1"/>
<circle cx="370.7" cy="107.2" r="1.1"/>
<circle cx="379.5" cy="59.7" r="1.1"/>
<circle cx="371.3" cy="130.2" r="1.1"/>
<circle cx="373.7" cy="47.9" r="1.1"/>
<circle cx="370.2" cy="134.0" r="1.1"/>
<circle cx="372.6" cy="100.0" r="1.1"/>
<circle cx="371.0" cy="101.0" r="1.1"/>
<circle cx="383.9" cy="98.2" r="1.1"/>
<circle cx="374.7" cy="121.7" r="1.1"/>
<circle cx="375.6" cy="86.5" r="1.1"/>
<circle cx="387.9" cy="37.8" r="1.1"/>
<circle cx="373.2" cy="105.6" r="1.1"/>
<circle cx="372.9" cy="103.2" r="1.1"/>
<circle cx="371.6" cy="73.1" r="1.1"/>
<circle cx="375.2" cy="96.6" r="1.1"/>
<circle cx="369.7" cy="87.6" r="1.1"/>
<circle cx="373.4" cy="99.3" r="1.1"/>
<circle cx="375.6" cy="95.8" r="1.1"/>
<circle cx="370.3" cy="128.7" r="1.1"/>
<circle cx="371.7" cy="110.3" r="1.1"/>
<circle cx="396.3" cy="110.2" r="1.1"/>
<circle cx="385.5" cy="75.1" r="1.1"/>
<circle cx="371.5" cy="85.0" r="1.1"/>
<circle cx="375.1" cy="120.2" r="1.1"/>
<circle cx="377.9" cy="129.3" r="1.1"/>
<circle cx="373.5" cy="116.1" r="1.1"/>
<circle cx="369.8" cy="134.4" r="1.1"/>
<circle cx="375.9" cy="123.0" r="1.1"/>
<circle cx="384.3" cy="56.9" r="1.1"/>
<circle cx="375.3" cy="80.9" r="1.1"/>
<circle cx="370.6" cy="122.6" r="1.1"/>
<circle cx="378.6" cy="60.5" r="1.1"/>
<circle cx="378.0" cy="31.1" r="1.1"/>
<circle cx="373.3" cy="115.1" r="1.1"/>
<circle cx="384.1" cy="55.7" r="1.1"/>
<circle cx="377.2" cy="121.6" r="1.1"/>
<circle cx="386.0" cy="91.2" r="1.1"/>
<circle cx="370.4" cy="116.0" r="1.1"/>
<circle cx="370.4" cy="70.9" r="1.1"/>
<circle cx="374.1" cy="24.2" r="1.1"/>
<circle cx="378.8" cy="122.5" r="1.1"/>
<circle cx="371.5" cy="38.3" r="1.1"/>
<circle cx="384.7" cy="73.6" r="1.1"/>
<circle cx="384.8" cy="98.2" r="1.1"/>
<circle cx="378.8" cy="51.1" r="1.1"/>
<circle cx="376.1" cy="123.6" r="1.1"/>
<circle cx="379.9" cy="49.8" r="1.1"/>
<circle cx="369.6" cy="78.3" r="1.1"/>
<circle cx="372.7" cy="67.8" r="1.1"/>
<circle cx="371.6" cy="99.5" r="1.1"/>
<circle cx="377.4" cy="96.8" r="1.1"/>
<circle cx="370.8" cy="47.5" r="1.1"/>
<circle cx="373.4" cy="106.0" r="1.1"/>
<circle cx="370.7" cy="40.1" r="1.1"/>
<circle cx="374.0" cy="129.6" r="1.1"/>
<circle cx="371.3" cy="69.9" r="1.1"/>
<circle cx="374.8" cy="134.5" r="1.1"/>
<circle cx="372.1" cy="110.2" r="1.1"/>
<circle cx="374.0" cy="64.3" r="1.1"/>
<circle cx="379.3" cy="42.6" r="1.1"/>
<circle cx="382.9" cy="77.7" r="1.1"/>
<circle cx="374.3" cy="75.9" r="1.1"/>
<circle cx="390.1" cy="86.6" r="1.1"/>
<circle cx="379.6" cy="68.6" r="1.1"/>
<circle cx="377.4" cy="54.8" r="1.1"/>
<circle cx="387.5" cy="61.2" r="1.1"/>
<circle cx="386.3" cy="61.4" r="1.1"/>
<circle cx="373.3" cy="104.3" r="1.1"/>
<circle cx="371.9" cy="128.9" r="1.1"/>
<circle cx="374.9" cy="110.9" r="1.1"/>
<circle cx="370.0" cy="80.3" r="1.1"/>
<circle cx="372.1" cy="77.0" r="1.1"/>
<circle cx="393.2" cy="79.5" r="1.1"/>
<circle cx="379.8" cy="62.2" r="1.1"/>
<circle cx="371.3" cy="103.8" r="1.1"/>
<circle cx="370.6" cy="76.2" r="1.1"/>
<circle cx="371.0" cy="125.4" r="1.1"/>
<circle cx="372.8" cy="77.2" r="1.1"/>
<circle cx="379.8" cy="118.3" r="1.1"/>
<circle cx="374.8" cy="95.5" r="1.1"/>
<circle cx="392.8" cy="35.4" r="1.1"/>
<circle cx="374.2" cy="33.6" r="1.1"/>
<circle cx="379.9" cy="71.9" r="1.1"/>
<circle cx="372.1" cy="103.5" r="1.1"/>
<circle cx="384.4" cy="125.6" r="1.1"/>
<circle cx="380.6" cy="21.2" r="1.1"/>
<circle cx="372.9" cy="82.6" r="1.1"/>
<circle cx="372.4" cy="82.1" r="1.1"/>
<circle cx="375.3" cy="103.7" r="1.1"/>
<circle cx="386.7" cy="132.3" r="1.1"/>
<circle cx="371.8" cy="134.3" r="1.1"/>
<circle cx="375.1" cy="119.1" r="1.1"/>
<circle cx="376.1" cy="29.9" r="1.1"/>
<circle cx="378.0" cy="75.0" r="1.1"/>
<circle cx="373.8" cy="51.5" r="1.1"/>
<circle cx="374.4" cy="42.1" r="1.1"/>
<circle cx="370.0" cy="110.7" r="1.1"/>
<circle cx="379.6" cy="45.6" r="1.1"/>
<circle cx="378.4" cy="98.8" r="1.1"/>
<circle cx="384.5" cy="57.2" r="1.1"/>
<circle cx="378.4" cy="109.6" r="1.1"/>
<circle cx="375.9" cy="38.6" r="1.1"/>
<circle cx="391.5" cy="19.4" r="1.1"/>
<circle cx="380.2" cy="129.9" r="1.1"/>
<circle cx="374.3" cy="21.4" r="1.1"/>
<circle cx="374.9" cy="89.8" r="1.1"/>
<circle cx="385.3" cy="37.3" r="1.1"/>
<circle cx="375.6" cy="63.2" r="1.1"/>
<circle cx="377.9" cy="39.4" r="1.1"/>
<circle cx="370.4" cy="40.2" r="1.1"/>
<circle cx="372.0" cy="87.3" r="1.1"/>
<circle cx="371.1" cy="114.2" r="1.1"/>
<circle cx="369.9" cy="76.4" r="1.1"/>
<circle cx="375.1" cy="52.6" r="1.1"/>
<circle cx="373.8" cy="92.1" r="1.1"/>
<circle cx="370.1" cy="121.2" r="1.1"/>
<circle cx="370.4" cy="121.1" r="1.1"/>
<circle cx="372.9" cy="132.3" r="1.1"/>
<circle cx="377.0" cy="75.6" r="1.1"/>
<circle cx="386.7" cy="122.4" r="1.1"/>
<circle cx="369.6" cy="76.4" r="1.1"/>
<circle cx="386.2" cy="43.7" r="1.1"/>
<circle cx="376.9" cy="110.0" r="1.1"/>
<circle cx="376.9" cy="44.1" r="1.1"/>
<circle cx="370.8" cy="22.4" r="1.1"/>
<circle cx="398.7" cy="63.1" r="1.1"/>
<circle cx="381.6" cy="100.9" r="1.1"/>
<circle cx="375.3" cy="26.0" r="1.1"/>
<circle cx="372.7" cy="31.9" r="1.1"/>
<circle cx="395.0" cy="37.4" r="1.1"/>
<circle cx="375.2" cy="66.5" r="1.1"/>
<circle cx="383.4" cy="102.0" r="1.1"/>
<circle cx="373.5" cy="130.1" r="1.1"/>
<circle cx="386.6" cy="86.0" r="1.1"/>
<circle cx="372.3" cy="74.2" r="1.1"/>
<circle cx="371.3" cy="110.5" r="1.1"/>
<circle cx="374.1" cy="71.2" r="1.1"/>
<circle cx="372.8" cy="83.4" r="1.1"/>
<circle cx="374.1" cy="78.3" r="1.1"/>
<circle cx="388.9" cy="26.7" r="1.1"/>
<circle cx="377.5" cy="29.0" r="1.1"/>
<circle cx="373.1" cy="91.0" r="1.1"/>
<circle cx="370.5" cy="53.2" r="1.1"/>
<circle cx="372.6" cy="71.6" r="1.1"/>
<circle cx="371.4" cy="84.2" r="1.1"/>
<circle cx="373.4" cy="111.5" r="1.1"/>
<circle cx="375.4" cy="17.5" r="1.1"/>
<circle cx="369.5" cy="131.9" r="1.1"/>
<circle cx="391.3" cy="95.8" r="1.1"/>
<circle cx="377.0" cy="70.9" r="1.1"/>
<circle cx="372.4" cy="71.3" r="1.1"/>
<circle cx="375.4" cy="97.4" r="1.1"/>
<circle cx="375.4" cy="64.9" r="1.1"/>
<circle cx="379.6" cy="87.7" r="1.1"/>
<circle cx="370.5" cy="27.4" r="1.1"/>
<circle cx="372.3" cy="57.0" r="1.1"/>
<circle cx="372.6" cy="115.9" r="1.1"/>
<circle cx="372.2" cy="122.1" r="1.1"/>
<circle cx="379.5" cy="61.3" r="1.1"/>
<circle cx="371.6" cy="119.4" r="1.1"/>
<circle cx="384.1" cy="65.2" r="1.1"/>
<circle cx="375.3" cy="115.2" r="1.1"/>
<circle cx="384.9" cy="28.1" r="1.1"/>
<circle cx="380.1" cy="26.4" r="1.1"/>
<circle cx="387.8" cy="91.5" r="1.1"/>
<circle cx="369.6" cy="100.4" r="1.1"/>
<circle cx="376.2" cy="129.0" r="1.1"/>
<circle cx="369.5" cy="94.4" r="1.1"/>
<circle cx="372.7" cy="110.2" r="1.1"/>
<circle cx="395.1" cy="104.6" r="1.1"/>
<circle cx="369.9" cy="127.4" r="1.1"/>
<circle cx="372.8" cy="114.6" r="1.1"/>
<circle cx="372.3" cy="111.7" r="1.1"/>
<circle cx="373.9" cy="80.2" r="1.1"/>
<circle cx="373.4" cy="38.4" r="1.1"/>
<circle cx="369.9" cy="110.0" r="1.1"/>
<circle cx="387.6" cy="38.0" r="1.1"/>
<circle cx="374.5" cy="103.2" r="1.1"/>
<circle cx="370.8" cy="37.6" r="1.1"/>
<circle cx="395.9" cy="64.3" r="1.1"/>
<circle cx="387.2" cy="92.4" r="1.1"/>
<circle cx="374.5" cy="51.7" r="1.1"/>
<circle cx="382.4" cy="89.8" r="1.1"/>
<circle cx="390.3" cy="39.2" r="1.1"/>
<circle cx="369.7" cy="82.9" r="1.1"/>
<circle cx="373.2" cy="78.5" r="1.1"/>
<circle cx="386.0" cy="104.0" r="1.1"/>
<circle cx="378.1" cy="85.3" r="1.1"/>
<circle cx="381.6" cy="73.5" r="1.1"/>
<circle cx="383.3" cy="36.4" r="1.1"/>
<circle cx="378.0" cy="45.5" r="1.1"/>
<circle cx="373.5" cy="50.5" r="1.1"/>
<circle cx="373.7" cy="45.2" r="1.1"/>
<circle cx="374.4" cy="95.6" r="1.1"/>
<circle cx="376.4" cy="73.5" r="1.1"/>
<circle cx="371.8" cy="120.4" r="1.1"/>
<circle cx="373.9" cy="94.8" r="1.1"/>
<circle cx="371.3" cy="133.2" r="1.1"/>
<circle cx="371.1" cy="106.3" r="1.1"/>
<circle cx="381.2" cy="58.2" r="1.1"/>
<circle cx="371.5" cy="93.9" r="1.1"/>
<circle cx="388.0" cy="29.4" r="1.1"/>
<circle cx="379.7" cy="72.3" r="1.1"/>
<circle cx="376.9" cy="78.6" r="1.1"/>
<circle cx="395.3" cy="92.3" r="1.1"/>
<circle cx="372.5" cy="126.7" r="1.1"/>
<circle cx="371.4" cy="84.5" r="1.1"/>
<circle cx="370.1" cy="111.8" r="1.1"/>
<circle cx="385.7" cy="63.8" r="1.1"/>
<circle cx="382.6" cy="23.8" r="1.1"/>
<circle cx="375.0" cy="93.2" r="1.1"/>
<circle cx="370.9" cy="67.0" r="1.1"/>
<circle cx="376.3" cy="130.5" r="1.1"/>
<circle cx="370.1" cy="116.9" r="1.1"/>
<circle cx="370.9" cy="114.8" r="1.1"/>
<circle cx="376.7" cy="50.1" r="1.1"/>
<circle cx="370.4" cy="97.5" r="1.1"/>
<circle cx="374.5" cy="113.0" r="1.1"/>
<circle cx="382.3" cy="125.7" r="1.1"/>
<circle cx="372.3" cy="105.5" r="1.1"/>
<circle cx="375.5" cy="130.5" r="1.1"/>
<circle cx="386.5" cy="61.9" r="1.1"/>
<circle cx="371.3" cy="109.3" r="1.1"/>
<circle cx="369.7" cy="56.7" r="1.1"/>
<circle cx="371.6" cy="89.9" r="1.1"/>
<circle cx="372.0" cy="62.2" r="1.1"/>
<circle cx="376.1" cy="40.4" r="1.1"/>
<circle cx="372.5" cy="59.7" r="1.1"/>
<circle cx="375.8" cy="60.3" r="1.1"/>
<circle cx="370.4" cy="123.4" r="1.1"/>
<circle cx="379.5" cy="122.0" r="1.1"/>
<circle cx="374.7" cy="97.5" r="1.1"/>
<circle cx="374.0" cy="109.9" r="1.1"/>
<circle cx="385.4" cy="102.6" r="1.1"/>
<circle cx="371.2" cy="114.0" r="1.1"/>
<circle cx="399.0" cy="27.6" r="1.1"/>
<circle cx="382.2" cy="70.5" r="1.1"/>
<circle cx="375.0" cy="54.6" r="1.1"/>
<circle cx="380.1" cy="71.5" r="1.1"/>
<circle cx="372.8" cy="129.8" r="1.1"/>
<circle cx="372.5" cy="93.0" r="1.1"/>
<circle cx="396.9" cy="54.5" r="1.1"/>
<circle cx="398.1" cy="37.2" r="1.1"/>
<circle cx="370.0" cy="102.3" r="1.1"/>
<circle cx="370.0" cy="126.0" r="1.1"/>
<circle cx="370.4" cy="92.9" r="1.1"/>
<circle cx="371.2" cy="134.0" r="1.1"/>
<circle cx="369.8" cy="123.2" r="1.1"/>
<circle cx="369.9" cy="103.2" r="1.1"/>
<circle cx="378.8" cy="22.7" r="1.1"/>
<circle cx="374.7" cy="133.4" r="1.1"/>
<circle cx="377.5" cy="121.6" r="1.1"/>
<circle cx="370.1" cy="88.2" r="1.1"/>
<circle cx="371.0" cy="88.8" r="1.1"/>
<circle cx="372.6" cy="88.8" r="1.1"/>
<circle cx="371.1" cy="85.8" r="1.1"/>
<circle cx="372.8" cy="107.1" r="1.1"/>
<circle cx="370.1" cy="84.4" r="1.1"/>
<circle cx="375.5" cy="84.5" r="1.1"/>
<circle cx="373.3" cy="132.5" r="1.1"/>
<circle cx="373.0" cy="40.9" r="1.1"/>
<circle cx="379.7" cy="67.4" r="1.1"/>
<circle cx="387.3" cy="129.4" r="1.1"/>
<circle cx="381.7" cy="130.4" r="1.1"/>
<circle cx="383.7" cy="121.9" r="1.1"/>
<circle cx="377.0" cy="20.5" r="1.1"/>
<circle cx="377.3" cy="95.5" r="1.1"/>
<circle cx="375.8" cy="97.8" r="1.1"/>
<circle cx="369.9" cy="128.9" r="1.1"/>
<circle cx="392.5" cy="88.0" r="1.1"/>
<circle cx="370.8" cy="23.1" r="1.1"/>
<circle cx="385.7" cy="122.9" r="1.1"/>
<circle cx="369.9" cy="21.4" r="1.1"/>
<circle cx="375.8" cy="119.2" r="1.1"/>
<circle cx="375.7" cy="88.1" r="1.1"/>
<circle cx="379.0" cy="112.2" r="1.1"/>
<circle cx="370.3" cy="14.5" r="1.1"/>
<circle cx="390.1" cy="115.8" r="1.1"/>
<circle cx="372.3" cy="119.5" r="1.1"/>
<circle cx="373.1" cy="67.3" r="1.1"/>
<circle cx="386.0" cy="19.2" r="1.1"/>
<circle cx="377.4" cy="58.3" r="1.1"/>
<circle cx="372.4" cy="88.7" r="1.1"/>
<circle cx="373.3" cy="104.1" r="1.1"/>
<circle cx="389.0" cy="54.8" r="1.1"/>
<circle cx="371.1" cy="46.8" r="1.1"/>
<circle cx="375.4" cy="57.2" r="1.1"/>
<circle cx="371.8" cy="114.8" r="1.1"/>
<circle cx="379.2" cy="55.3" r="1.1"/>
<circle cx="376.1" cy="58.1" r="1.1"/>
<circle cx="388.3" cy="57.4" r="1.1"/>
<circle cx="372.0" cy="48.1" r="1.1"/>
<circle cx="373.0" cy="63.2" r="1.1"/>
<circle cx="376.2" cy="109.2" r="1.1"/>
<circle cx="373.8" cy="115.4" r="1.1"/>
<circle cx="384.6" cy="32.0" r="1.1"/>
<circle cx="371.7" cy="56.1" r="1.1"/>
<circle cx="373.1" cy="71.5" r="1.1"/>
<circle cx="392.4" cy="126.8" r="1.1"/>
<circle cx="370.7" cy="73.4" r="1.1"/>
<circle cx="378.0" cy="115.4" r="1.1"/>
<circle cx="382.6" cy="67.7" r="1.1"/>
<circle cx="372.2" cy="72.5" r="1.1"/>
<circle cx="378.6" cy="95.8" r="1.1"/>
<circle cx="382.2" cy="83.3" r="1.1"/>
<circle cx="377.3" cy="18.9" r="1.1"/>
<circle cx="370.0" cy="72.6" r="1.1"/>
<circle cx="370.3" cy="127.2" r="1.1"/>
<circle cx="389.2" cy="50.9" r="1.1"/>
<circle cx="382.0" cy="131.4" r="1.1"/>
<circle cx="391.8" cy="68.1" r="1.1"/>
<circle cx="381.9" cy="42.0" r="1.1"/>
<circle cx="370.5" cy="130.0" r="1.1"/>
<circle cx="380.8" cy="41.1" r="1.1"/>
<circle cx="376.1" cy="124.2" r="1.1"/>
<circle cx="372.3" cy="130.4" r="1.1"/>
<circle cx="370.5" cy="71.7" r="1.1"/>
<circle cx="394.2" cy="59.7" r="1.1"/>
<circle cx="371.7" cy="30.8" r="1.1"/>
<circle cx="369.9" cy="68.8" r="1.1"/>
<circle cx="371.2" cy="63.9" r="1.1"/>
<circle cx="377.0" cy="39.1" r="1.1"/>
<circle cx="375.4" cy="90.3" r="1.1"/>
<circle cx="373.8" cy="112.7" r="1.1"/>
<circle cx="369.9" cy="130.2" r="1.1"/>
<circle cx="370.2" cy="53.3" r="1.1"/>
<circle cx="381.8" cy="64.2" r="1.1"/>
<circle cx="372.9" cy="128.1" r="1.1"/>
<circle cx="373.4" cy="44.7" r="1.1"/>
<circle cx="371.9" cy="93.2" r="1.1"/>
<circle cx="389.5" cy="115.7" r="1.1"/>
<circle cx="376.5" cy="81.6" r="1.1"/>
<circle cx="372.8" cy="120.7" r="1.1"/>
<circle cx="396.8" cy="48.9" r="1.1"/>
<circle cx="369.6" cy="133.0" r="1.1"/>
<circle cx="372.4" cy="112.8" r="1.1"/>
<circle cx="371.4" cy="27.2" r="1.1"/>
<circle cx="382.3" cy="46.5" r="1.1"/>
<circle cx="369.7" cy="51.7" r="1.1"/>
<circle cx="384.3" cy="52.8" r="1.1"/>
<circle cx="377.2" cy="85.9" r="1.1"/>
<circle cx="371.0" cy="82.1" r="1.1"/>
<circle cx="373.6" cy="19.2" r="1.1"/>
<circle cx="372.8" cy="25.1" r="1.1"/>
<circle cx="372.5" cy="98.4" r="1.1"/>
<circle cx="376.8" cy="83.0" r="1.1"/>
<circle cx="373.3" cy="65.1" r="1.1"/>
<circle cx="373.9" cy="124.3" r="1.1"/>
<circle cx="375.6" cy="76.8" r="1.1"/>
<circle cx="372.6" cy="81.6" r="1.1"/>
<circle cx="370.8" cy="127.1" r="1.1"/>
<circle cx="378.7" cy="129.1" r="1.1"/>
<circle cx="370.4" cy="124.1" r="1.1"/>
<circle cx="399.7" cy="86.9" r="1.1"/>
<circle cx="371.1" cy="61.7" r="1.1"/>
<circle cx="371.1" cy="108.9" r="1.1"/>
<circle cx="370.7" cy="94.8" r="1.1"/>
<circle cx="371.1" cy="130.2" r="1.1"/>
<circle cx="381.4" cy="35.0" r="1.1"/>
<circle cx="376.3" cy="68.7" r="1.1"/>
<circle cx="388.2" cy="85.6" r="1.1"/>
<circle cx="372.9" cy="87.5" r="1.1"/>
<circle cx="377.4" cy="15.0" r="1.1"/>
<circle cx="377.1" cy="59.2" r="1.1"/>
<circle cx="373.5" cy="99.8" r="1.1"/>
<circle cx="376.6" cy="33.9" r="1.1"/>
<circle cx="377.1" cy="84.0" r="1.1"/>
<circle cx="371.0" cy="132.3" r="1.1"/>
<circle cx="370.2" cy="79.7" r="1.1"/>
<circle cx="367.5" cy="119.7" r="1.1"/>
<circle cx="381.0" cy="119.7" r="1.1"/>
<circle cx="373.8" cy="131.4" r="1.1"/>
<circle cx="360.6" cy="128.4" r="1.1"/>
<circle cx="374.8" cy="125.7" r="1.1"/>
<circle cx="362.9" cy="127.3" r="1.1"/>
<circle cx="371.1" cy="130.9" r="1.1"/>
<circle cx="358.0" cy="130.0" r="1.1"/>
<circle cx="369.3" cy="132.3" r="1.1"/>
<circle cx="380.8" cy="119.6" r="1.1"/>
<circle cx="376.5" cy="114.6" r="1.1"/>
<circle cx="359.9" cy="119.8" r="1.1"/>
<circle cx="371.3" cy="122.0" r="1.1"/>
<circle cx="352.6" cy="132.5" r="1.1"/>
<circle cx="364.0" cy="119.3" r="1.1"/>
<circle cx="371.7" cy="116.4" r="1.1"/>
<circle cx="358.7" cy="133.9" r="1.1"/>
<circle cx="365.5" cy="119.9" r="1.1"/>
<circle cx="381.7" cy="124.5" r="1.1"/>
<circle cx="356.2" cy="123.7" r="1.1"/>
<circle cx="364.1" cy="133.7" r="1.1"/>
<circle cx="362.7" cy="114.5" r="1.1"/>
<circle cx="364.1" cy="117.7" r="1.1"/>
<circle cx="370.8" cy="122.4" r="1.1"/>
<circle cx="377.1" cy="120.8" r="1.1"/>
<circle cx="365.0" cy="133.1" r="1.1"/>
<circle cx="381.0" cy="121.6" r="1.1"/>
<circle cx="371.8" cy="120.5" r="1.1"/>
<circle cx="373.3" cy="120.1" r="1.1"/>
<circle cx="358.6" cy="115.7" r="1.1"/>
<circle cx="358.1" cy="123.8" r="1.1"/>
<circle cx="366.4" cy="129.8" r="1.1"/>
<circle cx="373.6" cy="133.9" r="1.1"/>
<circle cx="378.1" cy="131.8" r="1.1"/>
<circle cx="367.9" cy="123.4" r="1.1"/>
<circle cx="353.8" cy="126.6" r="1.1"/>
<circle cx="365.3" cy="130.4" r="1.1"/>
<circle cx="371.1" cy="123.6" r="1.1"/>
<circle cx="372.7" cy="122.6" r="1.1"/>
<circle cx="363.5" cy="116.1" r="1.1"/>
<circle cx="361.0" cy="116.6" r="1.1"/>
<circle cx="385.1" cy="124.3" r="1.1"/>
<circle cx="367.1" cy="115.1" r="1.1"/>
<circle cx="358.9" cy="131.0" r="1.1"/>
<circle cx="363.9" cy="126.4" r="1.1"/>
<circle cx="366.2" cy="118.0" r="1.1"/>
<circle cx="353.0" cy="126.2" r="1.1"/>
<circle cx="368.2" cy="131.5" r="1.1"/>
<circle cx="360.8" cy="132.2" r="1.1"/>
<circle cx="363.1" cy="130.3" r="1.1"/>
<circle cx="373.1" cy="133.6" r="1.1"/>
<circle cx="368.4" cy="126.4" r="1.1"/>
<circle cx="360.7" cy="115.5" r="1.1"/>
<circle cx="359.6" cy="128.8" r="1.1"/>
<circle cx="346.0" cy="131.7" r="1.1"/>
<circle cx="369.3" cy="133.1" r="1.1"/>
<circle cx="360.7" cy="128.3" r="1.1"/>
<circle cx="353.5" cy="125.7" r="1.1"/>
<circle cx="382.0" cy="123.7" r="1.1"/>
<circle cx="359.5" cy="131.5" r="1.1"/>
<circle cx="375.8" cy="126.0" r="1.1"/>
<circle cx="365.8" cy="132.4" r="1.1"/>
<circle cx="370.3" cy="120.6" r="1.1"/>
<circle cx="367.6" cy="125.8" r="1.1"/>
<circle cx="363.6" cy="131.2" r="1.1"/>
<circle cx="353.3" cy="130.4" r="1.1"/>
<circle cx="358.5" cy="120.6" r="1.1"/>
<circle cx="356.0" cy="127.8" r="1.1"/>
<circle cx="373.1" cy="128.3" r="1.1"/>
<circle cx="371.6" cy="115.3" r="1.1"/>
<circle cx="368.9" cy="117.3" r="1.1"/>
<circle cx="367.1" cy="131.2" r="1.1"/>
<circle cx="362.1" cy="122.4" r="1.1"/>
<circle cx="367.6" cy="128.4" r="1.1"/>
<circle cx="365.7" cy="125.3" r="1.1"/>
<circle cx="357.9" cy="123.5" r="1.1"/>
<circle cx="364.2" cy="122.8" r="1.1"/>
<circle cx="364.4" cy="122.0" r="1.1"/>
<circle cx="374.5" cy="133.1" r="1.1"/>
<circle cx="369.1" cy="134.0" r="1.1"/>
<circle cx="359.0" cy="133.6" r="1.1"/>
<circle cx="371.7" cy="133.3" r="1.1"/>
<circle cx="371.5" cy="115.4" r="1.1"/>
<circle cx="358.6" cy="125.0" r="1.1"/>
<circle cx="370.0" cy="130.5" r="1.1"/>
<circle cx="365.6" cy="130.6" r="1.1"/>
<circle cx="372.3" cy="131.9" r="1.1"/>
<circle cx="358.9" cy="128.7" r="1.1"/>
<circle cx="370.7" cy="129.0" r="1.1"/>
<circle cx="362.0" cy="119.9" r="1.1"/>
<circle cx="358.8" cy="122.1" r="1.1"/>
<circle cx="368.4" cy="128.2" r="1.1"/>
<circle cx="361.5" cy="127.9" r="1.1"/>
<circle cx="376.3" cy="128.7" r="1.1"/>
<circle cx="367.3" cy="130.7" r="1.1"/>
<circle cx="357.3" cy="127.5" r="1.1"/>
<circle cx="358.5" cy="117.5" r="1.1"/>
<circle cx="368.2" cy="117.0" r="1.1"/>
<circle cx="367.8" cy="114.7" r="1.1"/>
<circle cx="358.1" cy="123.0" r="1.1"/>
<circle cx="362.3" cy="121.2" r="1.1"/>
<circle cx="378.3" cy="115.5" r="1.1"/>
<circle cx="361.8" cy="123.4" r="1.1"/>
<circle cx="358.5" cy="123.4" r="1.1"/>
<circle cx="367.3" cy="131.9" r="1.1"/>
<circle cx="356.1" cy="114.6" r="1.1"/>
<circle cx="365.6" cy="130.0" r="1.1"/>
<circle cx="364.6" cy="128.6" r="1.1"/>
<circle cx="365.3" cy="120.6" r="1.1"/>
<circle cx="377.0" cy="131.9" r="1.1"/>
<circle cx="371.3" cy="129.0" r="1.1"/>
<circle cx="365.8" cy="116.6" r="1.1"/>
<circle cx="353.1" cy="133.7" r="1.1"/>
<circle cx="358.6" cy="118.7" r="1.1"/>
<circle cx="355.4" cy="129.1" r="1.1"/>
<circle cx="359.2" cy="120.7" r="1.1"/>
<circle cx="360.6" cy="121.1" r="1.1"/>
<circle cx="363.1" cy="122.2" r="1.1"/>
<circle cx="343.3" cy="125.6" r="1.1"/>
<circle cx="359.5" cy="133.0" r="1.1"/>
<circle cx="360.2" cy="120.2" r="1.1"/>
<circle cx="377.5" cy="115.5" r="1.1"/>
<circle cx="357.1" cy="131.1" r="1.1"/>
<circle cx="362.0" cy="127.0" r="1.1"/>
<circle cx="354.1" cy="132.6" r="1.1"/>
<circle cx="354.0" cy="123.2" r="1.1"/>
<circle cx="368.9" cy="130.9" r="1.1"/>
<circle cx="358.2" cy="132.9" r="1.1"/>
<circle cx="356.5" cy="124.6" r="1.1"/>
<circle cx="368.4" cy="114.3" r="1.1"/>
<circle cx="373.1" cy="125.4" r="1.1"/>
<circle cx="363.9" cy="120.8" r="1.1"/>
<circle cx="362.2" cy="133.6" r="1.1"/>
<circle cx="377.7" cy="122.5" r="1.1"/>
<circle cx="361.3" cy="118.9" r="1.1"/>
<circle cx="370.4" cy="129.7" r="1.1"/>
<circle cx="373.7" cy="126.1" r="1.1"/>
<circle cx="367.2" cy="123.3" r="1.1"/>
<circle cx="359.9" cy="132.9" r="1.1"/>
<circle cx="381.1" cy="116.0" r="1.1"/>
<circle cx="367.8" cy="131.5" r="1.1"/>
<circle cx="369.6" cy="133.5" r="1.1"/>
<circle cx="365.6" cy="119.8" r="1.1"/>
<circle cx="359.7" cy="127.2" r="1.1"/>
<circle cx="380.6" cy="122.4" r="1.1"/>
<circle cx="368.6" cy="118.1" r="1.1"/>
<circle cx="362.4" cy="132.1" r="1.1"/>
<circle cx="354.1" cy="130.1" r="1.1"/>
<circle cx="367.8" cy="117.5" r="1.1"/>
<circle cx="374.9" cy="130.5" r="1.1"/>
<circle cx="370.0" cy="128.1" r="1.1"/>
<circle cx="356.4" cy="124.5" r="1.1"/>
<circle cx="366.9" cy="114.4" r="1.1"/>
<circle cx="371.6" cy="124.2" r="1.1"/>
<circle cx="373.1" cy="132.8" r="1.1"/>
<circle cx="364.4" cy="128.2" r="1.1"/>
<circle cx="374.3" cy="128.3" r="1.1"/>
<circle cx="350.3" cy="122.9" r="1.1"/>
<circle cx="358.3" cy="132.6" r="1.1"/>
<circle cx="375.9" cy="132.0" r="1.1"/>
<circle cx="370.0" cy="117.4" r="1.1"/>
<circle cx="361.9" cy="129.6" r="1.1"/>
<circle cx="365.5" cy="131.8" r="1.1"/>
<circle cx="363.6" cy="122.4" r="1.1"/>
<circle cx="371.4" cy="133.7" r="1.1"/>
<circle cx="357.6" cy="125.1" r="1.1"/>
<circle cx="373.2" cy="133.4" r="1.1"/>
<circle cx="368.0" cy="114.5" r="1.1"/>
<circle cx="367.9" cy="124.7" r="1.1"/>
<circle cx="363.8" cy="133.3" r="1.1"/>
<circle cx="364.4" cy="133.9" r="1.1"/>
<circle cx="361.3" cy="131.2" r="1.1"/>
<circle cx="363.6" cy="123.1" r="1.1"/>
<circle cx="359.4" cy="127.6" r="1.1"/>
<circle cx="359.0" cy="130.9" r="1.1"/>
<circle cx="363.2" cy="129.7" r="1.1"/>
<circle cx="364.4" cy="131.5" r="1.1"/>
<circle cx="372.0" cy="134.0" r="1.1"/>
<circle cx="360.7" cy="130.5" r="1.1"/>
<circle cx="362.5" cy="133.2" r="1.1"/>
<circle cx="356.6" cy="118.4" r="1.1"/>
<circle cx="367.8" cy="130.5" r="1.1"/>
<circle cx="366.3" cy="117.3" r="1.1"/>
<circle cx="354.8" cy="123.3" r="1.1"/>
<circle cx="357.7" cy="122.5" r="1.1"/>
<circle cx="366.0" cy="129.1" r="1.1"/>
<circle cx="356.4" cy="126.8" r="1.1"/>
<circle cx="367.9" cy="126.2" r="1.1"/>
<circle cx="370.4" cy="120.0" r="1.1"/>
<circle cx="362.4" cy="133.9" r="1.1"/>
<circle cx="380.0" cy="130.7" r="1.1"/>
<circle cx="368.8" cy="124.2" r="1.1"/>
<circle cx="371.8" cy="130.9" r="1.1"/>
<circle cx="381.0" cy="118.7" r="1.1"/>
<circle cx="361.3" cy="122.7" r="1.1"/>
<circle cx="353.7" cy="127.9" r="1.1"/>
<circle cx="350.4" cy="129.0" r="1.1"/>
<circle cx="360.6" cy="114.3" r="1.1"/>
<circle cx="367.6" cy="116.4" r="1.1"/>
<circle cx="363.3" cy="131.5" r="1.1"/>
<circle cx="356.7" cy="114.9" r="1.1"/>
<circle cx="363.4" cy="130.6" r="1.1"/>
<circle cx="341.8" cy="118.0" r="1.1"/>
<circle cx="363.4" cy="133.6" r="1.1"/>
<circle cx="370.5" cy="114.2" r="1.1"/>
<circle cx="366.4" cy="129.1" r="1.1"/>
<circle cx="373.9" cy="123.8" r="1.1"/>
<circle cx="372.6" cy="115.8" r="1.1"/>
<circle cx="366.8" cy="128.3" r="1.1"/>
<circle cx="355.3" cy="125.1" r="1.1"/>
<circle cx="349.3" cy="132.6" r="1.1"/>
<circle cx="369.9" cy="122.9" r="1.1"/>
<circle cx="356.5" cy="132.0" r="1.1"/>
<circle cx="369.3" cy="130.1" r="1.1"/>
<circle cx="365.0" cy="125.2" r="1.1"/>
<circle cx="364.9" cy="131.9" r="1.1"/>
<circle cx="366.7" cy="123.4" r="1.1"/>
<circle cx="369.0" cy="120.7" r="1.1"/>
<circle cx="375.9" cy="130.1" r="1.1"/>
<circle cx="363.3" cy="133.4" r="1.1"/>
<circle cx="364.9" cy="123.8" r="1.1"/>
<circle cx="380.6" cy="121.7" r="1.1"/>
<circle cx="368.0" cy="120.8" r="1.1"/>
<circle cx="366.7" cy="119.7" r="1.1"/>
<circle cx="366.6" cy="132.9" r="1.1"/>
<circle cx="367.9" cy="132.7" r="1.1"/>
<circle cx="372.8" cy="127.5" r="1.1"/>
<circle cx="364.2" cy="131.4" r="1.1"/>
<circle cx="370.5" cy="118.9" r="1.1"/>
<circle cx="376.4" cy="124.4" r="1.1"/>
<circle cx="375.9" cy="115.9" r="1.1"/>
<circle cx="368.8" cy="129.3" r="1.1"/>
<circle cx="365.8" cy="119.0" r="1.1"/>
<circle cx="378.7" cy="132.4" r="1.1"/>
<circle cx="371.8" cy="127.0" r="1.1"/>
<circle cx="364.8" cy="131.1" r="1.1"/>
<circle cx="364.7" cy="116.4" r="1.1"/>
<circle cx="363.4" cy="132.4" r="1.1"/>
<circle cx="362.2" cy="131.7" r="1.1"/>
<circle cx="381.0" cy="122.3" r="1.1"/>
<circle cx="360.6" cy="114.6" r="1.1"/>
<circle cx="356.2" cy="129.3" r="1.1"/>
<circle cx="363.2" cy="121.8" r="1.1"/>
<circle cx="366.1" cy="127.1" r="1.1"/>
<circle cx="363.5" cy="129.2" r="1.1"/>
<circle cx="365.5" cy="133.9" r="1.1"/>
<circle cx="361.1" cy="114.5" r="1.1"/>
<circle cx="371.2" cy="132.9" r="1.1"/>
<circle cx="370.3" cy="124.9" r="1.1"/>
<circle cx="363.4" cy="126.9" r="1.1"/>
<circle cx="367.0" cy="126.9" r="1.1"/>
<circle cx="355.7" cy="131.7" r="1.1"/>
<circle cx="365.5" cy="132.3" r="1.1"/>
<circle cx="362.8" cy="117.9" r="1.1"/>
<circle cx="369.3" cy="133.9" r="1.1"/>
<circle cx="374.3" cy="118.5" r="1.1"/>
<circle cx="365.6" cy="124.2" r="1.1"/>
<circle cx="352.5" cy="121.7" r="1.1"/>
<circle cx="368.1" cy="133.8" r="1.1"/>
<circle cx="362.0" cy="132.7" r="1.1"/>
</g>
<circle cx="302.9" cy="7.9" r="2.45" fill="#ff8c00"/>
<circle cx="307.5" cy="7.9" r="2.45" fill="#1e90ff"/>
<circle cx="321.9" cy="7.9" r="2.45" fill="#ff8c00"/>
<circle cx="326.3" cy="7.9" r="2.45" fill="#ff8c00"/>
<circle cx="331.4" cy="7.9" r="2.45" fill="#ff8c00"/>
<circle cx="338.7" cy="7.9" r="2.45" fill="#1e90ff"/>
<circle cx="341.7" cy="21.2" r="2.45" fill="#ff8c00"/>
<circle cx="343.2" cy="40.1" r="2.45" fill="#ff8c00"/>
<circle cx="347" cy="72.6" r="2.45" fill="#1e90ff"/>
<circle cx="347" cy="86.3" r="2.45" fill="#ff8c00"/>
<circle cx="348.6" cy="90" r="2.45" fill="#ff8c00"/>
<circle cx="349.6" cy="92.8" r="2.45" fill="#1e90ff"/>
<circle cx="349.6" cy="96.5" r="2.45" fill="#ff8c00"/>
<circle cx="353.3" cy="108.9" r="2.45" fill="#1e90ff"/>
<circle cx="357.4" cy="112.1" r="2.45" fill="#1e90ff"/>
<circle cx="406.4" cy="7.9" r="2.45" fill="#32cd32"/>
<circle cx="409" cy="7.9" r="2.45" fill="#800080"/>
<circle cx="412" cy="7.9" r="2.45" fill="#dc3050"/>
<circle cx="474.3" cy="7.9" r="2.45" fill="#dc3050"/>
<circle cx="386.7" cy="36.2" r="2.45" fill="#32cd32"/>
<circle cx="382.6" cy="46.4" r="2.45" fill="#32cd32"/>
<circle cx="392.8" cy="62.4" r="2.45" fill="#32cd32"/>
<circle cx="384.6" cy="79.1" r="2.45" fill="#800080"/>
<circle cx="377.8" cy="83.6" r="2.45" fill="#32cd32"/>
<circle cx="369.3" cy="110.4" r="2.45" fill="#32cd32"/>
<circle cx="369.8" cy="114" r="2.45" fill="#ffc40c"/>
<circle cx="376.1" cy="120.6" r="2.45" fill="#dc3050"/>
<circle cx="372.3" cy="125" r="2.45" fill="#ff8c00"/>
<circle cx="372.3" cy="126.5" r="2.45" fill="#32cd32"/>
<circle cx="372.6" cy="127.9" r="2.45" fill="#800080"/>
<circle cx="378.8" cy="131.8" r="2.45" fill="#800080"/>
<circle cx="369.8" cy="133" r="2.45" fill="#800080"/>
<rect x="259" y="0" width="226" height="7.9" fill="#fff"/>
<text x="226.8" y="9.4" font-size="12.5" font-weight="bold">B</text>
<line x1="302.5" y1="18" x2="305.5" y2="9.5" stroke="#222" stroke-width="0.7"/>
<line x1="327" y1="13" x2="331" y2="17.5" stroke="#222" stroke-width="0.7"/>
<line x1="335" y1="12" x2="331.5" y2="9" stroke="#222" stroke-width="0.7"/>
<line x1="405.5" y1="9.5" x2="400" y2="16.5" stroke="#222" stroke-width="0.7"/>
<line x1="412" y1="9.5" x2="421" y2="22" stroke="#222" stroke-width="0.7"/>
<line x1="374.5" y1="104" x2="370.5" y2="111" stroke="#222" stroke-width="0.7"/>
<line x1="406" y1="118.8" x2="373" y2="126.2" stroke="#222" stroke-width="0.7"/>
<line x1="406" y1="125.8" x2="373.5" y2="128.2" stroke="#222" stroke-width="0.7"/>
<line x1="384" y1="131.5" x2="379.5" y2="132" stroke="#222" stroke-width="0.7"/>
<text x="282.4" y="16.4" font-size="8.5" fill="#111" textLength="19" lengthAdjust="spacingAndGlyphs">Cav1</text>
<text x="304" y="16.4" font-size="8.5" fill="#111" textLength="17" lengthAdjust="spacingAndGlyphs">Cd36</text>
<text x="329.8" y="16.4" font-size="8.5" fill="#111" textLength="13.5" lengthAdjust="spacingAndGlyphs">Lipe</text>
<text x="343.6" y="13.7" font-size="8.5" fill="#111" textLength="21.6" lengthAdjust="spacingAndGlyphs">Pik3r1</text>
<text x="288.5" y="24.2" font-size="8.5" fill="#111" textLength="22" lengthAdjust="spacingAndGlyphs">Sorbs1</text>
<text x="311.5" y="20.7" font-size="8.5" fill="#111" textLength="20.8" lengthAdjust="spacingAndGlyphs">Dgat2</text>
<text x="344.3" y="25.8" font-size="8.5" fill="#111" textLength="20.8" lengthAdjust="spacingAndGlyphs">Cidec</text>
<text x="321.3" y="28.6" font-size="8.5" fill="#111" textLength="23" lengthAdjust="spacingAndGlyphs">Fabp4</text>
<text x="304.9" y="31.9" font-size="8.5" fill="#111" textLength="16.4" lengthAdjust="spacingAndGlyphs">Plin1</text>
<text x="324.6" y="42.6" font-size="8.5" fill="#111" textLength="14.7" lengthAdjust="spacingAndGlyphs">Mgll</text>
<text x="334.6" y="71.6" font-size="8.5" fill="#111" textLength="12.8" lengthAdjust="spacingAndGlyphs">Irs1</text>
<text x="336.5" y="84" font-size="8.5" fill="#111" textLength="21.9" lengthAdjust="spacingAndGlyphs">Gpat4</text>
<text x="324.8" y="91.3" font-size="8.5" fill="#111" textLength="20.5" lengthAdjust="spacingAndGlyphs">Dgat1</text>
<text x="325.5" y="97.1" font-size="8.5" fill="#111" textLength="24.9" lengthAdjust="spacingAndGlyphs">Slc2a3</text>
<text x="327" y="103.6" font-size="8.5" fill="#111" textLength="21.2" lengthAdjust="spacingAndGlyphs">Gpat3</text>
<text x="341.3" y="108.8" font-size="8.5" fill="#111" textLength="25.1" lengthAdjust="spacingAndGlyphs">Adipoq</text>
<text x="332.4" y="119" font-size="8.5" fill="#111" textLength="23.8" lengthAdjust="spacingAndGlyphs">Slc2a4</text>
<text x="351.8" y="123.4" font-size="8.5" fill="#111" textLength="21.2" lengthAdjust="spacingAndGlyphs">Pex13</text>
<text x="348.9" y="136.5" font-size="8.5" fill="#111" textLength="17.5" lengthAdjust="spacingAndGlyphs">Phyb</text>
<text x="371.3" y="13.7" font-size="8.5" fill="#111" textLength="34" lengthAdjust="spacingAndGlyphs">Ppargc1a</text>
<text x="416.1" y="14.6" font-size="8.5" fill="#111" textLength="12.9" lengthAdjust="spacingAndGlyphs">Ftl1</text>
<text x="398" y="23.2" font-size="8.5" fill="#111" textLength="12.2" lengthAdjust="spacingAndGlyphs">Cat</text>
<text x="410.2" y="30" font-size="8.5" fill="#111" textLength="21.1" lengthAdjust="spacingAndGlyphs">Prdx6</text>
<text x="458.9" y="16" font-size="8.5" fill="#111" textLength="15.4" lengthAdjust="spacingAndGlyphs">Fth1</text>
<text x="391.2" y="40.2" font-size="8.5" fill="#111" textLength="24.2" lengthAdjust="spacingAndGlyphs">Atp5a1</text>
<text x="371.8" y="44.7" font-size="8.5" fill="#111" textLength="23.3" lengthAdjust="spacingAndGlyphs">Cox7c</text>
<text x="384.4" y="52.6" font-size="8.5" fill="#111" textLength="23.1" lengthAdjust="spacingAndGlyphs">Cox8a</text>
<text x="394" y="69.2" font-size="8.5" fill="#111" textLength="21.4" lengthAdjust="spacingAndGlyphs">Ppara</text>
<text x="382.6" y="76.9" font-size="8.5" fill="#111" textLength="18.1" lengthAdjust="spacingAndGlyphs">Scp2</text>
<text x="377.7" y="91.8" font-size="8.5" fill="#111" textLength="23" lengthAdjust="spacingAndGlyphs">Cox7b</text>
<text x="374.7" y="104" font-size="8.5" fill="#111" textLength="25.6" lengthAdjust="spacingAndGlyphs">Dnajb9</text>
<text x="375.8" y="110.8" font-size="8.5" fill="#111" textLength="25.6" lengthAdjust="spacingAndGlyphs">mt-Co1</text>
<text x="375.4" y="116.7" font-size="8.5" fill="#111" textLength="23.1" lengthAdjust="spacingAndGlyphs">Nfe2l2</text>
<text x="379.9" y="122.8" font-size="8.5" fill="#111" textLength="20.8" lengthAdjust="spacingAndGlyphs">Prdx1</text>
<text x="407.5" y="120.6" font-size="8.5" fill="#111" textLength="29.5" lengthAdjust="spacingAndGlyphs">Atp6v1a</text>
<text x="406.8" y="127.8" font-size="8.5" fill="#111" textLength="34" lengthAdjust="spacingAndGlyphs">Atp6v1e1</text>
<text x="386.7" y="134.8" font-size="8.5" fill="#111" textLength="22" lengthAdjust="spacingAndGlyphs">Pex14</text>
<text x="378.6" y="140.9" font-size="8.5" fill="#111" textLength="27.8" lengthAdjust="spacingAndGlyphs">Ehhadh</text>
<path d="M262.4,128.7 L268,125.1 L268,127.7 L275,127.7 L275,129.7 L268,129.7 L268,132.3 Z" stroke="none" fill="#000" stroke-width="1"/>
<text x="277.6" y="132.3" font-size="8.6" textLength="14.6" lengthAdjust="spacingAndGlyphs">WT</text>
<text x="457" y="131.2" font-size="8.6" textLength="13" lengthAdjust="spacingAndGlyphs">KO</text>
<path d="M484.6,127.5 L479,123.9 L479,126.5 L471,126.5 L471,128.5 L479,128.5 L479,131.1 Z" stroke="none" fill="#000" stroke-width="1"/>
<circle cx="533.8" cy="38.1" r="4.4" fill="#1e90ff"/>
<text x="544.5" y="40.2" font-size="8.7" fill="#1a1a1a">Insulin signaling</text>
<circle cx="533.8" cy="50.97" r="4.4" fill="#ff8c00"/>
<text x="544.5" y="53.07" font-size="8.7" fill="#1a1a1a">Lipid metabolism</text>
<circle cx="533.8" cy="63.84" r="4.4" fill="#ffc40c"/>
<text x="544.5" y="65.94" font-size="8.7" fill="#1a1a1a">ER Stress</text>
<circle cx="533.8" cy="76.71" r="4.4" fill="#800080"/>
<text x="544.5" y="78.81" font-size="8.7" fill="#1a1a1a">Peroxisome</text>
<circle cx="533.8" cy="89.58" r="4.4" fill="#dc3050"/>
<text x="544.5" y="91.68" font-size="8.7" fill="#1a1a1a">ROS response</text>
<circle cx="533.8" cy="102.45" r="4.4" fill="#32cd32"/>
<text x="544.5" y="104.55" font-size="8.7" fill="#1a1a1a">OXPHOS/Mitochondria</text>
<text x="12.6" y="178.3" font-size="12.5" font-weight="bold">C</text>
<rect x="136.9" y="196.1" width="72.41" height="13.6" fill="#dc6891"/>
<rect x="136.9" y="211.3" width="52.3" height="13.1" fill="#dc6891"/>
<rect x="136.9" y="226.1" width="45.82" height="13.3" fill="#dc6891"/>
<rect x="136.9" y="241" width="44.18" height="13.5" fill="#dc6891"/>
<rect x="136.9" y="256" width="18.03" height="13.2" fill="#dc6891"/>
<line x1="134.6" y1="194.1" x2="134.6" y2="272" stroke="#000" stroke-width="1.5"/>
<line x1="133.9" y1="271.3" x2="212.6" y2="271.3" stroke="#000" stroke-width="1.7"/>
<line x1="131.1" y1="202.9" x2="134.6" y2="202.9" stroke="#000" stroke-width="1.1"/>
<line x1="131.1" y1="217.85" x2="134.6" y2="217.85" stroke="#000" stroke-width="1.1"/>
<line x1="131.1" y1="232.75" x2="134.6" y2="232.75" stroke="#000" stroke-width="1.1"/>
<line x1="131.1" y1="247.75" x2="134.6" y2="247.75" stroke="#000" stroke-width="1.1"/>
<line x1="131.1" y1="262.6" x2="134.6" y2="262.6" stroke="#000" stroke-width="1.1"/>
<text x="138.1" y="280.6" font-size="8.2" text-anchor="middle" fill="#2a2a2a">0.0</text>
<text x="155.7" y="280.6" font-size="8.2" text-anchor="middle" fill="#2a2a2a">2.5</text>
<text x="173.9" y="280.6" font-size="8.2" text-anchor="middle" fill="#2a2a2a">5.0</text>
<text x="192.9" y="280.6" font-size="8.2" text-anchor="middle" fill="#2a2a2a">7.5</text>
<text x="212.6" y="280.6" font-size="8.2" text-anchor="middle" fill="#2a2a2a">10.0</text>
<text x="176.5" y="289" font-size="8.15" text-anchor="middle">-log10 (adjusted <tspan font-style="italic">P</tspan>)</text>
<text x="68.8" y="188.9" font-size="9.55">Upregulated pathways in Adipocytes</text>
<text x="129.8" y="204.3" font-size="7.6" text-anchor="end">GOCC: Mitochondrial matrix</text>
<text x="129.8" y="219.6" font-size="7.6" text-anchor="end">KEGG: Reactive oxygen species</text>
<text x="129.8" y="234.4" font-size="7.6" text-anchor="end">GOBP: Responsive to oxidative stress</text>
<text x="129.8" y="250" font-size="7.6" text-anchor="end">KEGG: Oxidative phosphorylation</text>
<text x="129.8" y="265.3" font-size="7.6" text-anchor="end">GOCC: Peroxisome</text>
<text x="226.2" y="178.3" font-size="12.5" font-weight="bold">D</text>
<rect x="386.9" y="196.1" width="70.4" height="13.6" fill="#92a0cd"/>
<rect x="386.9" y="211.3" width="46.34" height="13.1" fill="#92a0cd"/>
<rect x="386.9" y="226.1" width="35.24" height="13.3" fill="#92a0cd"/>
<rect x="386.9" y="241" width="33.3" height="13.5" fill="#92a0cd"/>
<rect x="386.9" y="256" width="25.33" height="13.2" fill="#92a0cd"/>
<line x1="384.2" y1="194.1" x2="384.2" y2="272" stroke="#000" stroke-width="1.5"/>
<line x1="383.5" y1="271.3" x2="460.2" y2="271.3" stroke="#000" stroke-width="1.7"/>
<line x1="380.7" y1="202.9" x2="384.2" y2="202.9" stroke="#000" stroke-width="1.1"/>
<line x1="380.7" y1="217.85" x2="384.2" y2="217.85" stroke="#000" stroke-width="1.1"/>
<line x1="380.7" y1="232.75" x2="384.2" y2="232.75" stroke="#000" stroke-width="1.1"/>
<line x1="380.7" y1="247.75" x2="384.2" y2="247.75" stroke="#000" stroke-width="1.1"/>
<line x1="380.7" y1="262.6" x2="384.2" y2="262.6" stroke="#000" stroke-width="1.1"/>
<text x="386.3" y="280.6" font-size="8.2" text-anchor="middle" fill="#2a2a2a">0.0</text>
<text x="404.4" y="280.6" font-size="8.2" text-anchor="middle" fill="#2a2a2a">2.5</text>
<text x="422.3" y="280.6" font-size="8.2" text-anchor="middle" fill="#2a2a2a">5.0</text>
<text x="441.8" y="280.6" font-size="8.2" text-anchor="middle" fill="#2a2a2a">7.5</text>
<text x="461.5" y="280.6" font-size="8.2" text-anchor="middle" fill="#2a2a2a">10.0</text>
<text x="426.5" y="289" font-size="8.15" text-anchor="middle">-log10 (adjusted <tspan font-style="italic">P</tspan>)</text>
<text x="285" y="188.9" font-size="9.55">Downregulated pathways in Adipocytes</text>
<text x="379.5" y="204.3" font-size="7.7" text-anchor="end">GOBP: Cellular Response to insulin stimulus</text>
<text x="379.5" y="219.6" font-size="7.7" text-anchor="end">GOBP: Insulin receptor signaling pathway</text>
<text x="379.5" y="235.2" font-size="7.7" text-anchor="end">GOBP: Triglyceride biosynthetic process</text>
<text x="379.5" y="249.4" font-size="7.7" text-anchor="end">GOBP: Lipid storage</text>
<text x="379.5" y="262.2" font-size="7.7" text-anchor="end">GOBP: Positive regulation of</text>
<text x="379.5" y="271" font-size="7.7" text-anchor="end">lipid biosynthetic process</text>
<text x="463.3" y="178.5" font-size="12.5" font-weight="bold">E</text>
<text x="529.4" y="182.6" font-size="9.5" text-anchor="middle">Peroxisome biogenesis</text>
<text x="529.4" y="193.9" font-size="9.5" text-anchor="middle">score in adipocytes</text>
<line x1="500.4" y1="205.3" x2="500.4" y2="270.8" stroke="#555" stroke-width="1.0"/>
<line x1="499.9" y1="270.4" x2="565" y2="270.4" stroke="#555" stroke-width="1.0"/>
<line x1="498.2" y1="207.8" x2="500.4" y2="207.8" stroke="#000" stroke-width="1.6"/>
<text x="496.3" y="210.7" font-size="8.6" text-anchor="end" fill="#333">0.8</text>
<line x1="498.2" y1="228" x2="500.4" y2="228" stroke="#000" stroke-width="1.6"/>
<text x="496.3" y="230.9" font-size="8.6" text-anchor="end" fill="#333">0.4</text>
<line x1="498.2" y1="247.8" x2="500.4" y2="247.8" stroke="#000" stroke-width="1.6"/>
<text x="496.3" y="250.7" font-size="8.6" text-anchor="end" fill="#333">0.0</text>
<line x1="498.2" y1="269.1" x2="500.4" y2="269.1" stroke="#000" stroke-width="1.6"/>
<text x="496.3" y="272" font-size="8.6" text-anchor="end" fill="#333">-4.0</text>
<text x="481.3" y="230.3" font-size="8.26" text-anchor="middle" transform="rotate(-90 481.3 230.3)">Module scores</text>
<path d="M517.90,214.50 L518.30,214.50 L518.30,215.38 L518.30,216.27 L518.30,217.16 L518.30,218.04 L518.30,218.93 L518.30,219.81 L518.30,220.69 L518.30,221.58 L518.30,222.47 L518.30,223.35 L518.30,224.24 L518.30,225.12 L518.30,226.00 L518.30,226.89 L518.31,227.78 L518.31,228.66 L518.32,229.55 L518.33,230.43 L518.35,231.31 L518.38,232.20 L518.43,233.09 L518.50,233.97 L518.60,234.86 L518.74,235.74 L518.93,236.62 L519.19,237.51 L519.54,238.40 L519.97,239.28 L520.52,240.17 L521.18,241.05 L521.96,241.94 L522.85,242.82 L523.84,243.71 L524.91,244.59 L526.01,245.48 L527.12,246.36 L528.16,247.25 L529.11,248.13 L529.89,249.02 L530.47,249.90 L530.81,250.79 L530.89,251.67 L530.70,252.56 L530.25,253.44 L529.55,254.33 L528.67,255.21 L527.64,256.10 L526.53,256.98 L525.40,257.87 L524.28,258.75 L523.23,259.63 L522.28,260.52 L521.44,261.41 L520.72,262.29 L520.13,263.18 L519.65,264.06 L519.27,264.95 L518.99,265.83 L518.77,266.72 L518.62,267.60 L517.18,267.60 L517.03,266.72 L516.81,265.83 L516.53,264.95 L516.15,264.06 L515.67,263.18 L515.08,262.29 L514.36,261.41 L513.52,260.52 L512.57,259.63 L511.52,258.75 L510.40,257.87 L509.27,256.98 L508.16,256.10 L507.13,255.21 L506.25,254.33 L505.55,253.44 L505.10,252.56 L504.91,251.67 L504.99,250.79 L505.33,249.90 L505.91,249.02 L506.69,248.13 L507.64,247.25 L508.68,246.36 L509.79,245.48 L510.89,244.59 L511.96,243.71 L512.95,242.82 L513.84,241.94 L514.62,241.05 L515.28,240.17 L515.83,239.28 L516.26,238.40 L516.61,237.51 L516.87,236.62 L517.06,235.74 L517.20,234.86 L517.30,233.97 L517.37,233.09 L517.42,232.20 L517.45,231.31 L517.47,230.43 L517.48,229.55 L517.49,228.66 L517.49,227.78 L517.50,226.89 L517.50,226.00 L517.50,225.12 L517.50,224.24 L517.50,223.35 L517.50,222.47 L517.50,221.58 L517.50,220.69 L517.50,219.81 L517.50,218.93 L517.50,218.04 L517.50,217.16 L517.50,216.27 L517.50,215.38 L517.50,214.50 Z" stroke="#111" fill="#3d3789" stroke-width="0.8"/>
<line x1="517.9" y1="236" x2="517.9" y2="247.3" stroke="#111" stroke-width="0.8"/>
<line x1="517.9" y1="255.3" x2="517.9" y2="265" stroke="#111" stroke-width="0.8"/>
<rect x="513.4" y="247.3" width="9" height="8" fill="none" stroke="#000" stroke-width="0.9"/>
<line x1="513.4" y1="251.5" x2="522.4" y2="251.5" stroke="#000" stroke-width="1.6"/>
<path d="M547.30,215.40 L547.70,215.40 L547.70,216.24 L547.70,217.07 L547.71,217.91 L547.71,218.75 L547.71,219.58 L547.72,220.42 L547.73,221.26 L547.74,222.09 L547.76,222.93 L547.78,223.77 L547.82,224.60 L547.87,225.44 L547.93,226.28 L548.02,227.11 L548.13,227.95 L548.28,228.79 L548.46,229.62 L548.69,230.46 L548.96,231.30 L549.30,232.13 L549.70,232.97 L550.17,233.81 L550.72,234.64 L551.33,235.48 L552.02,236.32 L552.77,237.15 L553.58,237.99 L554.43,238.83 L555.30,239.66 L556.18,240.50 L557.04,241.34 L557.86,242.17 L558.62,243.01 L559.28,243.85 L559.82,244.68 L560.23,245.52 L560.50,246.36 L560.60,247.19 L560.52,248.03 L560.25,248.87 L559.78,249.70 L559.15,250.54 L558.39,251.38 L557.52,252.21 L556.57,253.05 L555.60,253.89 L554.61,254.72 L553.66,255.56 L552.76,256.40 L551.92,257.23 L551.17,258.07 L550.51,258.91 L549.94,259.74 L549.45,260.58 L549.05,261.42 L548.73,262.25 L548.47,263.09 L548.26,263.93 L548.11,264.76 L547.99,265.60 L546.61,265.60 L546.49,264.76 L546.34,263.93 L546.13,263.09 L545.87,262.25 L545.55,261.42 L545.15,260.58 L544.66,259.74 L544.09,258.91 L543.43,258.07 L542.68,257.23 L541.84,256.40 L540.94,255.56 L539.99,254.72 L539.00,253.89 L538.03,253.05 L537.08,252.21 L536.21,251.38 L535.45,250.54 L534.82,249.70 L534.35,248.87 L534.08,248.03 L534.00,247.19 L534.10,246.36 L534.37,245.52 L534.78,244.68 L535.32,243.85 L535.98,243.01 L536.74,242.17 L537.56,241.34 L538.42,240.50 L539.30,239.66 L540.17,238.83 L541.02,237.99 L541.83,237.15 L542.58,236.32 L543.27,235.48 L543.88,234.64 L544.43,233.81 L544.90,232.97 L545.30,232.13 L545.64,231.30 L545.91,230.46 L546.14,229.62 L546.32,228.79 L546.47,227.95 L546.58,227.11 L546.67,226.28 L546.73,225.44 L546.78,224.60 L546.82,223.77 L546.84,222.93 L546.86,222.09 L546.87,221.26 L546.88,220.42 L546.89,219.58 L546.89,218.75 L546.89,217.91 L546.90,217.07 L546.90,216.24 L546.90,215.40 Z" stroke="#111" fill="#f28a00" stroke-width="0.8"/>
<line x1="547.3" y1="232" x2="547.3" y2="243" stroke="#111" stroke-width="0.8"/>
<line x1="547.3" y1="253.1" x2="547.3" y2="262" stroke="#111" stroke-width="0.8"/>
<rect x="543.1" y="243" width="8.4" height="10.1" fill="none" stroke="#000" stroke-width="0.9"/>
<line x1="543.1" y1="247.6" x2="551.5" y2="247.6" stroke="#000" stroke-width="1.6"/>
<text x="517.9" y="209.6" font-size="8.6" textLength="37.8" lengthAdjust="spacingAndGlyphs" fill="#231f20" style="stroke:none"><tspan font-style="italic">p</tspan> &lt; 2.22e-16</text>
<path d="M517.9,215.5 L517.9,212.6 L547.3,212.6 L547.3,215.5" stroke="#555" fill="none" stroke-width="0.6"/>
<text x="635" y="182.6" font-size="9.5" text-anchor="middle">Peroxisome β-oxidation</text>
<text x="635.4" y="193.9" font-size="9.5" text-anchor="middle">score in adipocytes</text>
<line x1="608.3" y1="202.8" x2="608.3" y2="271.5" stroke="#555" stroke-width="1.0"/>
<line x1="607.8" y1="271.1" x2="669" y2="271.1" stroke="#555" stroke-width="1.0"/>
<line x1="606.1" y1="205.8" x2="608.3" y2="205.8" stroke="#000" stroke-width="1.6"/>
<text x="604.4" y="208.7" font-size="8.6" text-anchor="end" fill="#333">1.5</text>
<line x1="606.1" y1="220.4" x2="608.3" y2="220.4" stroke="#000" stroke-width="1.6"/>
<text x="604.4" y="223.3" font-size="8.6" text-anchor="end" fill="#333">1.0</text>
<line x1="606.1" y1="234.9" x2="608.3" y2="234.9" stroke="#000" stroke-width="1.6"/>
<text x="604.4" y="237.8" font-size="8.6" text-anchor="end" fill="#333">0.5</text>
<line x1="606.1" y1="249.8" x2="608.3" y2="249.8" stroke="#000" stroke-width="1.6"/>
<text x="604.4" y="252.7" font-size="8.6" text-anchor="end" fill="#333">0.0</text>
<line x1="606.1" y1="265.2" x2="608.3" y2="265.2" stroke="#000" stroke-width="1.6"/>
<text x="604.4" y="268.1" font-size="8.6" text-anchor="end" fill="#333">-0.5</text>
<text x="589.4" y="230.5" font-size="8.26" text-anchor="middle" transform="rotate(-90 589.4 230.5)">Module scores</text>
<path d="M624.60,213.70 L625.00,213.70 L625.00,214.61 L625.00,215.52 L625.00,216.42 L625.00,217.33 L625.00,218.24 L625.00,219.15 L625.00,220.06 L625.00,220.97 L625.00,221.88 L625.00,222.78 L625.00,223.69 L625.00,224.60 L625.00,225.51 L625.01,226.42 L625.01,227.32 L625.02,228.23 L625.04,229.14 L625.06,230.05 L625.10,230.96 L625.16,231.87 L625.24,232.77 L625.36,233.68 L625.53,234.59 L625.77,235.50 L626.08,236.41 L626.48,237.32 L626.99,238.22 L627.62,239.13 L628.37,240.04 L629.23,240.95 L630.20,241.86 L631.25,242.77 L632.35,243.67 L633.44,244.58 L634.49,245.49 L635.43,246.40 L636.22,247.31 L636.79,248.22 L637.13,249.12 L637.19,250.03 L636.98,250.94 L636.49,251.85 L635.78,252.76 L634.87,253.67 L633.83,254.57 L632.72,255.48 L631.59,256.39 L630.50,257.30 L629.48,258.21 L628.57,259.12 L627.77,260.02 L627.11,260.93 L626.56,261.84 L626.13,262.75 L625.80,263.66 L625.55,264.57 L625.38,265.47 L625.25,266.38 L625.16,267.29 L625.10,268.20 L624.10,268.20 L624.04,267.29 L623.95,266.38 L623.82,265.47 L623.65,264.57 L623.40,263.66 L623.07,262.75 L622.64,261.84 L622.09,260.93 L621.43,260.02 L620.63,259.12 L619.72,258.21 L618.70,257.30 L617.61,256.39 L616.48,255.48 L615.37,254.57 L614.33,253.67 L613.42,252.76 L612.71,251.85 L612.22,250.94 L612.01,250.03 L612.07,249.12 L612.41,248.22 L612.98,247.31 L613.77,246.40 L614.71,245.49 L615.76,244.58 L616.85,243.67 L617.95,242.77 L619.00,241.86 L619.97,240.95 L620.83,240.04 L621.58,239.13 L622.21,238.22 L622.72,237.32 L623.12,236.41 L623.43,235.50 L623.67,234.59 L623.84,233.68 L623.96,232.77 L624.04,231.87 L624.10,230.96 L624.14,230.05 L624.16,229.14 L624.18,228.23 L624.19,227.32 L624.19,226.42 L624.20,225.51 L624.20,224.60 L624.20,223.69 L624.20,222.78 L624.20,221.88 L624.20,220.97 L624.20,220.06 L624.20,219.15 L624.20,218.24 L624.20,217.33 L624.20,216.42 L624.20,215.52 L624.20,214.61 L624.20,213.70 Z" stroke="#111" fill="#3d3789" stroke-width="0.8"/>
<line x1="624.6" y1="236" x2="624.6" y2="245.2" stroke="#111" stroke-width="0.8"/>
<line x1="624.6" y1="253.1" x2="624.6" y2="265" stroke="#111" stroke-width="0.8"/>
<rect x="621.2" y="245.2" width="7.2" height="7.9" fill="none" stroke="#000" stroke-width="0.9"/>
<line x1="621.2" y1="248.9" x2="628.4" y2="248.9" stroke="#000" stroke-width="1.6"/>
<path d="M652.30,214.50 L652.71,214.50 L652.72,215.33 L652.73,216.16 L652.74,216.99 L652.75,217.81 L652.77,218.64 L652.80,219.47 L652.83,220.30 L652.88,221.13 L652.94,221.95 L653.01,222.78 L653.11,223.61 L653.23,224.44 L653.38,225.27 L653.57,226.10 L653.79,226.92 L654.06,227.75 L654.37,228.58 L654.73,229.41 L655.15,230.24 L655.62,231.07 L656.14,231.89 L656.72,232.72 L657.35,233.55 L658.02,234.38 L658.72,235.21 L659.45,236.04 L660.18,236.87 L660.91,237.69 L661.62,238.52 L662.28,239.35 L662.90,240.18 L663.43,241.01 L663.88,241.83 L664.23,242.66 L664.47,243.49 L664.59,244.32 L664.57,245.15 L664.38,245.98 L664.02,246.81 L663.50,247.63 L662.84,248.46 L662.08,249.29 L661.24,250.12 L660.35,250.95 L659.45,251.77 L658.57,252.60 L657.72,253.43 L656.93,254.26 L656.21,255.09 L655.57,255.92 L655.00,256.75 L654.52,257.57 L654.12,258.40 L653.79,259.23 L653.52,260.06 L653.31,260.89 L653.15,261.71 L653.02,262.54 L652.93,263.37 L652.86,264.20 L651.74,264.20 L651.67,263.37 L651.58,262.54 L651.45,261.71 L651.29,260.89 L651.08,260.06 L650.81,259.23 L650.48,258.40 L650.08,257.57 L649.60,256.75 L649.03,255.92 L648.39,255.09 L647.67,254.26 L646.88,253.43 L646.03,252.60 L645.15,251.77 L644.25,250.95 L643.36,250.12 L642.52,249.29 L641.76,248.46 L641.10,247.63 L640.58,246.81 L640.22,245.98 L640.03,245.15 L640.01,244.32 L640.13,243.49 L640.37,242.66 L640.72,241.83 L641.17,241.01 L641.70,240.18 L642.32,239.35 L642.98,238.52 L643.69,237.69 L644.42,236.87 L645.15,236.04 L645.88,235.21 L646.58,234.38 L647.25,233.55 L647.88,232.72 L648.46,231.89 L648.98,231.07 L649.45,230.24 L649.87,229.41 L650.23,228.58 L650.54,227.75 L650.81,226.92 L651.03,226.10 L651.22,225.27 L651.37,224.44 L651.49,223.61 L651.59,222.78 L651.66,221.95 L651.72,221.13 L651.77,220.30 L651.80,219.47 L651.83,218.64 L651.85,217.81 L651.86,216.99 L651.87,216.16 L651.88,215.33 L651.89,214.50 Z" stroke="#111" fill="#f28a00" stroke-width="0.8"/>
<line x1="652.3" y1="228" x2="652.3" y2="238.9" stroke="#111" stroke-width="0.8"/>
<line x1="652.3" y1="248.4" x2="652.3" y2="261" stroke="#111" stroke-width="0.8"/>
<rect x="648.6" y="238.9" width="7.9" height="9.5" fill="none" stroke="#000" stroke-width="0.9"/>
<line x1="648.6" y1="243.9" x2="656.5" y2="243.9" stroke="#000" stroke-width="1.6"/>
<text x="621.2" y="211.2" font-size="8.6" textLength="38.6" lengthAdjust="spacingAndGlyphs" fill="#231f20" style="stroke:none"><tspan font-style="italic">p</tspan> &lt; 2.22e-16</text>
<path d="M624.6,215.5 L624.6,212.6 L652.3,212.6 L652.3,215.5" stroke="#555" fill="none" stroke-width="0.6"/>
<text x="12.6" y="309.8" font-size="12.5" font-weight="bold">F</text>
<line x1="53.7" y1="319.9" x2="53.7" y2="393" stroke="#ebebeb" stroke-width="0.9"/>
<line x1="71.15" y1="319.9" x2="71.15" y2="393" stroke="#ebebeb" stroke-width="0.5"/>
<line x1="88.6" y1="319.9" x2="88.6" y2="393" stroke="#ebebeb" stroke-width="0.9"/>
<line x1="106.05" y1="319.9" x2="106.05" y2="393" stroke="#ebebeb" stroke-width="0.5"/>
<line x1="123.5" y1="319.9" x2="123.5" y2="393" stroke="#ebebeb" stroke-width="0.9"/>
<line x1="140.95" y1="319.9" x2="140.95" y2="393" stroke="#ebebeb" stroke-width="0.5"/>
<line x1="158.4" y1="319.9" x2="158.4" y2="393" stroke="#ebebeb" stroke-width="0.9"/>
<line x1="48.2" y1="370.2" x2="169" y2="370.2" stroke="#ebebeb" stroke-width="0.9"/>
<line x1="48.2" y1="350.4" x2="169" y2="350.4" stroke="#ebebeb" stroke-width="0.9"/>
<line x1="48.2" y1="330.6" x2="169" y2="330.6" stroke="#ebebeb" stroke-width="0.9"/>
<line x1="48.2" y1="390" x2="169" y2="390" stroke="#555" stroke-width="0.9"/>
<g stroke="#222" stroke-width="0.7">
<line x1="54.00" y1="385.80" x2="54.00" y2="394.20"/>
<line x1="56.70" y1="385.80" x2="56.70" y2="394.20"/>
<line x1="57.80" y1="385.80" x2="57.80" y2="394.20"/>
<line x1="59.90" y1="385.80" x2="59.90" y2="394.20"/>
<line x1="61.00" y1="385.80" x2="61.00" y2="394.20"/>
<line x1="62.20" y1="385.80" x2="62.20" y2="394.20"/>
<line x1="64.90" y1="385.80" x2="64.90" y2="394.20"/>
<line x1="67.40" y1="385.80" x2="67.40" y2="394.20"/>
<line x1="69.80" y1="385.80" x2="69.80" y2="394.20"/>
<line x1="70.60" y1="385.80" x2="70.60" y2="394.20"/>
<line x1="75.30" y1="385.80" x2="75.30" y2="394.20"/>
<line x1="88.20" y1="385.80" x2="88.20" y2="394.20"/>
<line x1="88.80" y1="385.80" x2="88.80" y2="394.20"/>
<line x1="92.20" y1="385.80" x2="92.20" y2="394.20"/>
<line x1="95.80" y1="385.80" x2="95.80" y2="394.20"/>
<line x1="99.30" y1="385.80" x2="99.30" y2="394.20"/>
<line x1="101.40" y1="385.80" x2="101.40" y2="394.20"/>
<line x1="106.50" y1="385.80" x2="106.50" y2="394.20"/>
<line x1="117.50" y1="385.80" x2="117.50" y2="394.20"/>
<line x1="131.40" y1="385.80" x2="131.40" y2="394.20"/>
<line x1="150.20" y1="385.80" x2="150.20" y2="394.20"/>
<line x1="162.50" y1="385.80" x2="162.50" y2="394.20"/>
</g>
<line x1="48.2" y1="322.9" x2="169" y2="322.9" stroke="#f04040" stroke-width="1.0" stroke-dasharray="3,2.3"/>
<line x1="48.2" y1="390" x2="169" y2="390" stroke="#f04040" stroke-width="1.0" stroke-dasharray="3,2.3"/>
<rect x="97" y="324.3" width="73" height="21.5" fill="#fff"/>
<path d="M53.70,390.00 L54.00,372.50 L54.40,357.70 L56.60,359.30 L56.90,349.20 L60.10,352.40 L60.40,345.50 L60.60,338.60 L61.60,339.70 L61.90,334.90 L63.20,335.50 L63.80,330.20 L66.40,332.30 L66.90,328.60 L69.00,330.50 L70.10,323.30 L74.90,328.10 L75.90,325.40 L88.10,336.50 L88.90,334.10 L96.60,339.70" stroke="#28e028" fill="none" stroke-width="1.3" stroke-linejoin="round"/>
<path d="M104.30,346.20 L116.90,356.50 L118.00,356.00 L131.40,368.30 L131.40,365.90 L149.60,382.40 L149.60,377.40 L163.70,390.00" stroke="#28e028" fill="none" stroke-width="1.3" stroke-linejoin="round"/>
<text x="103.8" y="332.5" font-size="7.6" fill="#222">NES: 2.000693</text>
<text x="103.8" y="341.7" font-size="7.6" fill="#222">p.adj: 1.811090e-02</text>
<text x="111.7" y="315.5" font-size="9.3" text-anchor="middle">Oxidative Stress</text>
<text x="48.2" y="333.3" font-size="7.9" text-anchor="end" fill="#333">0.6</text>
<text x="48.2" y="353.1" font-size="7.9" text-anchor="end" fill="#333">0.4</text>
<text x="48.2" y="372.9" font-size="7.9" text-anchor="end" fill="#333">0.2</text>
<text x="48.2" y="392.7" font-size="7.9" text-anchor="end" fill="#333">0.0</text>
<text x="53.8" y="403.2" font-size="7.9" text-anchor="middle" fill="#333">0</text>
<text x="89.2" y="403.2" font-size="7.9" text-anchor="middle" fill="#333">2000</text>
<text x="124.2" y="403.2" font-size="7.9" text-anchor="middle" fill="#333">4000</text>
<text x="159.2" y="403.2" font-size="7.9" text-anchor="middle" fill="#333">6000</text>
<text x="106" y="411.2" font-size="7.9" text-anchor="middle">rank</text>
<text x="29" y="361.5" font-size="7.92" text-anchor="middle" transform="rotate(-90 29 361.5)">Enrichment score</text>
<line x1="209.1" y1="321.5" x2="209.1" y2="392.4" stroke="#ebebeb" stroke-width="0.9"/>
<line x1="225.95" y1="321.5" x2="225.95" y2="392.4" stroke="#ebebeb" stroke-width="0.5"/>
<line x1="242.8" y1="321.5" x2="242.8" y2="392.4" stroke="#ebebeb" stroke-width="0.9"/>
<line x1="259.65" y1="321.5" x2="259.65" y2="392.4" stroke="#ebebeb" stroke-width="0.5"/>
<line x1="276.5" y1="321.5" x2="276.5" y2="392.4" stroke="#ebebeb" stroke-width="0.9"/>
<line x1="293.35" y1="321.5" x2="293.35" y2="392.4" stroke="#ebebeb" stroke-width="0.5"/>
<line x1="310.2" y1="321.5" x2="310.2" y2="392.4" stroke="#ebebeb" stroke-width="0.9"/>
<line x1="204.4" y1="370.1" x2="321.9" y2="370.1" stroke="#ebebeb" stroke-width="0.9"/>
<line x1="204.4" y1="350.8" x2="321.9" y2="350.8" stroke="#ebebeb" stroke-width="0.9"/>
<line x1="204.4" y1="331.5" x2="321.9" y2="331.5" stroke="#ebebeb" stroke-width="0.9"/>
<line x1="204.4" y1="389.4" x2="321.9" y2="389.4" stroke="#555" stroke-width="0.9"/>
<g stroke="#222" stroke-width="0.7">
<line x1="209.60" y1="385.20" x2="209.60" y2="393.60"/>
<line x1="212.40" y1="385.20" x2="212.40" y2="393.60"/>
<line x1="213.80" y1="385.20" x2="213.80" y2="393.60"/>
<line x1="215.70" y1="385.20" x2="215.70" y2="393.60"/>
<line x1="216.30" y1="385.20" x2="216.30" y2="393.60"/>
<line x1="218.40" y1="385.20" x2="218.40" y2="393.60"/>
<line x1="219.00" y1="385.20" x2="219.00" y2="393.60"/>
<line x1="221.50" y1="385.20" x2="221.50" y2="393.60"/>
<line x1="222.00" y1="385.20" x2="222.00" y2="393.60"/>
<line x1="222.60" y1="385.20" x2="222.60" y2="393.60"/>
<line x1="223.30" y1="385.20" x2="223.30" y2="393.60"/>
<line x1="225.70" y1="385.20" x2="225.70" y2="393.60"/>
<line x1="230.50" y1="385.20" x2="230.50" y2="393.60"/>
<line x1="237.30" y1="385.20" x2="237.30" y2="393.60"/>
<line x1="238.50" y1="385.20" x2="238.50" y2="393.60"/>
<line x1="242.80" y1="385.20" x2="242.80" y2="393.60"/>
<line x1="243.50" y1="385.20" x2="243.50" y2="393.60"/>
<line x1="246.40" y1="385.20" x2="246.40" y2="393.60"/>
<line x1="248.30" y1="385.20" x2="248.30" y2="393.60"/>
<line x1="250.00" y1="385.20" x2="250.00" y2="393.60"/>
<line x1="251.60" y1="385.20" x2="251.60" y2="393.60"/>
<line x1="256.00" y1="385.20" x2="256.00" y2="393.60"/>
<line x1="271.40" y1="385.20" x2="271.40" y2="393.60"/>
<line x1="284.60" y1="385.20" x2="284.60" y2="393.60"/>
</g>
<line x1="204.4" y1="324.5" x2="321.9" y2="324.5" stroke="#f04040" stroke-width="1.0" stroke-dasharray="3,2.3"/>
<line x1="204.4" y1="389.4" x2="321.9" y2="389.4" stroke="#f04040" stroke-width="1.0" stroke-dasharray="3,2.3"/>
<rect x="258.5" y="325.8" width="66.5" height="20" fill="#fff"/>
<path d="M209.40,389.40 L209.40,366.90 L212.20,369.90 L212.60,356.60 L215.60,359.80 L215.60,351.30 L218.20,353.40 L218.20,345.50 L221.40,348.70 L221.90,337.00 L223.00,338.10 L223.80,332.80 L225.10,334.40 L225.60,324.90 L230.40,328.60 L230.40,325.20 L237.30,331.80 L238.30,329.40 L243.10,333.90 L244.70,332.30 L246.30,333.30 L249.40,335.80 L251.60,336.50 L258.90,342.80" stroke="#28e028" fill="none" stroke-width="1.3" stroke-linejoin="round"/>
<path d="M263.20,346.90 L270.90,354.30 L271.50,353.40 L284.60,364.20 L284.60,361.20 L316.30,389.40" stroke="#28e028" fill="none" stroke-width="1.3" stroke-linejoin="round"/>
<text x="261.5" y="332.3" font-size="7.6" fill="#222">NES: 1.955434</text>
<text x="261.5" y="341.5" font-size="7.6" fill="#222">p.adj: 0.03948377</text>
<text x="255" y="304.9" font-size="9.3" text-anchor="middle">Detoxification of</text>
<text x="255" y="316.3" font-size="9.3" text-anchor="middle">Reactive Oxygen Species</text>
<text x="204.4" y="334.2" font-size="7.9" text-anchor="end" fill="#333">0.6</text>
<text x="204.4" y="353.5" font-size="7.9" text-anchor="end" fill="#333">0.4</text>
<text x="204.4" y="372.8" font-size="7.9" text-anchor="end" fill="#333">0.2</text>
<text x="204.4" y="392.1" font-size="7.9" text-anchor="end" fill="#333">0.0</text>
<text x="209.1" y="403.2" font-size="7.9" text-anchor="middle" fill="#333">0</text>
<text x="245.5" y="403.2" font-size="7.9" text-anchor="middle" fill="#333">2000</text>
<text x="280.2" y="403.2" font-size="7.9" text-anchor="middle" fill="#333">4000</text>
<text x="315" y="403.2" font-size="7.9" text-anchor="middle" fill="#333">6000</text>
<text x="262" y="411.2" font-size="7.9" text-anchor="middle">rank</text>
<text x="189" y="361.5" font-size="7.92" text-anchor="middle" transform="rotate(-90 189 361.5)">Enrichment score</text>
<line x1="363.2" y1="320.6" x2="363.2" y2="392.3" stroke="#ebebeb" stroke-width="0.9"/>
<line x1="379.8" y1="320.6" x2="379.8" y2="392.3" stroke="#ebebeb" stroke-width="0.5"/>
<line x1="396.4" y1="320.6" x2="396.4" y2="392.3" stroke="#ebebeb" stroke-width="0.9"/>
<line x1="413" y1="320.6" x2="413" y2="392.3" stroke="#ebebeb" stroke-width="0.5"/>
<line x1="429.6" y1="320.6" x2="429.6" y2="392.3" stroke="#ebebeb" stroke-width="0.9"/>
<line x1="446.2" y1="320.6" x2="446.2" y2="392.3" stroke="#ebebeb" stroke-width="0.5"/>
<line x1="462.8" y1="320.6" x2="462.8" y2="392.3" stroke="#ebebeb" stroke-width="0.9"/>
<line x1="358" y1="385.6" x2="473.5" y2="385.6" stroke="#ebebeb" stroke-width="0.9"/>
<line x1="358" y1="356.8" x2="473.5" y2="356.8" stroke="#ebebeb" stroke-width="0.9"/>
<line x1="358" y1="342.4" x2="473.5" y2="342.4" stroke="#ebebeb" stroke-width="0.9"/>
<line x1="358" y1="328" x2="473.5" y2="328" stroke="#ebebeb" stroke-width="0.9"/>
<line x1="358" y1="371.2" x2="473.5" y2="371.2" stroke="#555" stroke-width="0.9"/>
<g stroke="#000" stroke-width="0.95">
<line x1="363.53" y1="367.4" x2="363.53" y2="374.9"/>
<line x1="363.95" y1="367.4" x2="363.95" y2="374.9"/>
<line x1="364.28" y1="367.4" x2="364.28" y2="374.9"/>
<line x1="364.94" y1="367.4" x2="364.94" y2="374.9"/>
<line x1="366.44" y1="367.4" x2="366.44" y2="374.9"/>
<line x1="366.69" y1="367.4" x2="366.69" y2="374.9"/>
<line x1="366.89" y1="367.4" x2="366.89" y2="374.9"/>
<line x1="368.38" y1="367.4" x2="368.38" y2="374.9"/>
<line x1="368.88" y1="367.4" x2="368.88" y2="374.9"/>
<line x1="369.29" y1="367.4" x2="369.29" y2="374.9"/>
<line x1="369.71" y1="367.4" x2="369.71" y2="374.9"/>
<line x1="371.20" y1="367.4" x2="371.20" y2="374.9"/>
<line x1="372.70" y1="367.4" x2="372.70" y2="374.9"/>
<line x1="373.69" y1="367.4" x2="373.69" y2="374.9"/>
<line x1="374.02" y1="367.4" x2="374.02" y2="374.9"/>
<line x1="374.44" y1="367.4" x2="374.44" y2="374.9"/>
<line x1="374.77" y1="367.4" x2="374.77" y2="374.9"/>
<line x1="375.77" y1="367.4" x2="375.77" y2="374.9"/>
<line x1="375.97" y1="367.4" x2="375.97" y2="374.9"/>
<line x1="376.21" y1="367.4" x2="376.21" y2="374.9"/>
<line x1="376.55" y1="367.4" x2="376.55" y2="374.9"/>
<line x1="376.75" y1="367.4" x2="376.75" y2="374.9"/>
<line x1="377.24" y1="367.4" x2="377.24" y2="374.9"/>
<line x1="377.44" y1="367.4" x2="377.44" y2="374.9"/>
<line x1="377.94" y1="367.4" x2="377.94" y2="374.9"/>
<line x1="379.43" y1="367.4" x2="379.43" y2="374.9"/>
<line x1="380.43" y1="367.4" x2="380.43" y2="374.9"/>
<line x1="381.43" y1="367.4" x2="381.43" y2="374.9"/>
<line x1="382.42" y1="367.4" x2="382.42" y2="374.9"/>
<line x1="383.92" y1="367.4" x2="383.92" y2="374.9"/>
<line x1="384.25" y1="367.4" x2="384.25" y2="374.9"/>
<line x1="384.91" y1="367.4" x2="384.91" y2="374.9"/>
<line x1="385.16" y1="367.4" x2="385.16" y2="374.9"/>
<line x1="385.36" y1="367.4" x2="385.36" y2="374.9"/>
<line x1="385.69" y1="367.4" x2="385.69" y2="374.9"/>
<line x1="387.19" y1="367.4" x2="387.19" y2="374.9"/>
<line x1="387.60" y1="367.4" x2="387.60" y2="374.9"/>
<line x1="388.10" y1="367.4" x2="388.10" y2="374.9"/>
<line x1="389.10" y1="367.4" x2="389.10" y2="374.9"/>
<line x1="389.59" y1="367.4" x2="389.59" y2="374.9"/>
<line x1="390.59" y1="367.4" x2="390.59" y2="374.9"/>
<line x1="391.59" y1="367.4" x2="391.59" y2="374.9"/>
<line x1="392.25" y1="367.4" x2="392.25" y2="374.9"/>
<line x1="393.25" y1="367.4" x2="393.25" y2="374.9"/>
<line x1="393.66" y1="367.4" x2="393.66" y2="374.9"/>
<line x1="394.32" y1="367.4" x2="394.32" y2="374.9"/>
<line x1="394.52" y1="367.4" x2="394.52" y2="374.9"/>
<line x1="395.02" y1="367.4" x2="395.02" y2="374.9"/>
<line x1="395.35" y1="367.4" x2="395.35" y2="374.9"/>
<line x1="396.02" y1="367.4" x2="396.02" y2="374.9"/>
<line x1="396.27" y1="367.4" x2="396.27" y2="374.9"/>
<line x1="396.68" y1="367.4" x2="396.68" y2="374.9"/>
<line x1="397.18" y1="367.4" x2="397.18" y2="374.9"/>
<line x1="397.68" y1="367.4" x2="397.68" y2="374.9"/>
<line x1="397.93" y1="367.4" x2="397.93" y2="374.9"/>
<line x1="398.18" y1="367.4" x2="398.18" y2="374.9"/>
<line x1="399.67" y1="367.4" x2="399.67" y2="374.9"/>
<line x1="401.16" y1="367.4" x2="401.16" y2="374.9"/>
<line x1="401.41" y1="367.4" x2="401.41" y2="374.9"/>
<line x1="402.08" y1="367.4" x2="402.08" y2="374.9"/>
<line x1="402.33" y1="367.4" x2="402.33" y2="374.9"/>
<line x1="403.32" y1="367.4" x2="403.32" y2="374.9"/>
<line x1="403.65" y1="367.4" x2="403.65" y2="374.9"/>
<line x1="403.85" y1="367.4" x2="403.85" y2="374.9"/>
<line x1="404.35" y1="367.4" x2="404.35" y2="374.9"/>
<line x1="405.35" y1="367.4" x2="405.35" y2="374.9"/>
<line x1="406.34" y1="367.4" x2="406.34" y2="374.9"/>
<line x1="406.59" y1="367.4" x2="406.59" y2="374.9"/>
<line x1="406.79" y1="367.4" x2="406.79" y2="374.9"/>
<line x1="406.99" y1="367.4" x2="406.99" y2="374.9"/>
<line x1="407.99" y1="367.4" x2="407.99" y2="374.9"/>
<line x1="408.65" y1="367.4" x2="408.65" y2="374.9"/>
<line x1="409.15" y1="367.4" x2="409.15" y2="374.9"/>
<line x1="409.56" y1="367.4" x2="409.56" y2="374.9"/>
<line x1="409.76" y1="367.4" x2="409.76" y2="374.9"/>
<line x1="410.26" y1="367.4" x2="410.26" y2="374.9"/>
<line x1="410.46" y1="367.4" x2="410.46" y2="374.9"/>
<line x1="410.71" y1="367.4" x2="410.71" y2="374.9"/>
<line x1="410.96" y1="367.4" x2="410.96" y2="374.9"/>
<line x1="411.16" y1="367.4" x2="411.16" y2="374.9"/>
<line x1="411.57" y1="367.4" x2="411.57" y2="374.9"/>
<line x1="412.57" y1="367.4" x2="412.57" y2="374.9"/>
<line x1="413.07" y1="367.4" x2="413.07" y2="374.9"/>
<line x1="413.56" y1="367.4" x2="413.56" y2="374.9"/>
<line x1="413.90" y1="367.4" x2="413.90" y2="374.9"/>
<line x1="414.10" y1="367.4" x2="414.10" y2="374.9"/>
<line x1="414.76" y1="367.4" x2="414.76" y2="374.9"/>
<line x1="415.42" y1="367.4" x2="415.42" y2="374.9"/>
<line x1="416.09" y1="367.4" x2="416.09" y2="374.9"/>
<line x1="416.42" y1="367.4" x2="416.42" y2="374.9"/>
<line x1="417.42" y1="367.4" x2="417.42" y2="374.9"/>
<line x1="418.41" y1="367.4" x2="418.41" y2="374.9"/>
<line x1="419.91" y1="367.4" x2="419.91" y2="374.9"/>
<line x1="420.90" y1="367.4" x2="420.90" y2="374.9"/>
<line x1="421.15" y1="367.4" x2="421.15" y2="374.9"/>
<line x1="421.65" y1="367.4" x2="421.65" y2="374.9"/>
<line x1="422.64" y1="367.4" x2="422.64" y2="374.9"/>
<line x1="423.06" y1="367.4" x2="423.06" y2="374.9"/>
<line x1="423.56" y1="367.4" x2="423.56" y2="374.9"/>
<line x1="424.55" y1="367.4" x2="424.55" y2="374.9"/>
<line x1="425.05" y1="367.4" x2="425.05" y2="374.9"/>
<line x1="425.55" y1="367.4" x2="425.55" y2="374.9"/>
<line x1="426.21" y1="367.4" x2="426.21" y2="374.9"/>
<line x1="426.41" y1="367.4" x2="426.41" y2="374.9"/>
<line x1="427.41" y1="367.4" x2="427.41" y2="374.9"/>
<line x1="428.07" y1="367.4" x2="428.07" y2="374.9"/>
<line x1="428.27" y1="367.4" x2="428.27" y2="374.9"/>
<line x1="429.27" y1="367.4" x2="429.27" y2="374.9"/>
<line x1="429.60" y1="367.4" x2="429.60" y2="374.9"/>
<line x1="429.80" y1="367.4" x2="429.80" y2="374.9"/>
<line x1="430.46" y1="367.4" x2="430.46" y2="374.9"/>
<line x1="431.96" y1="367.4" x2="431.96" y2="374.9"/>
<line x1="432.62" y1="367.4" x2="432.62" y2="374.9"/>
<line x1="433.29" y1="367.4" x2="433.29" y2="374.9"/>
<line x1="433.78" y1="367.4" x2="433.78" y2="374.9"/>
<line x1="435.28" y1="367.4" x2="435.28" y2="374.9"/>
<line x1="435.48" y1="367.4" x2="435.48" y2="374.9"/>
<line x1="435.68" y1="367.4" x2="435.68" y2="374.9"/>
<line x1="435.87" y1="367.4" x2="435.87" y2="374.9"/>
<line x1="436.54" y1="367.4" x2="436.54" y2="374.9"/>
<line x1="437.04" y1="367.4" x2="437.04" y2="374.9"/>
<line x1="438.53" y1="367.4" x2="438.53" y2="374.9"/>
<line x1="439.03" y1="367.4" x2="439.03" y2="374.9"/>
<line x1="439.69" y1="367.4" x2="439.69" y2="374.9"/>
<line x1="440.02" y1="367.4" x2="440.02" y2="374.9"/>
<line x1="440.69" y1="367.4" x2="440.69" y2="374.9"/>
<line x1="441.02" y1="367.4" x2="441.02" y2="374.9"/>
<line x1="441.68" y1="367.4" x2="441.68" y2="374.9"/>
<line x1="442.35" y1="367.4" x2="442.35" y2="374.9"/>
<line x1="442.85" y1="367.4" x2="442.85" y2="374.9"/>
<line x1="443.34" y1="367.4" x2="443.34" y2="374.9"/>
<line x1="444.34" y1="367.4" x2="444.34" y2="374.9"/>
<line x1="444.59" y1="367.4" x2="444.59" y2="374.9"/>
<line x1="444.79" y1="367.4" x2="444.79" y2="374.9"/>
<line x1="445.12" y1="367.4" x2="445.12" y2="374.9"/>
<line x1="445.62" y1="367.4" x2="445.62" y2="374.9"/>
<line x1="446.03" y1="367.4" x2="446.03" y2="374.9"/>
<line x1="446.53" y1="367.4" x2="446.53" y2="374.9"/>
<line x1="446.95" y1="367.4" x2="446.95" y2="374.9"/>
<line x1="447.61" y1="367.4" x2="447.61" y2="374.9"/>
<line x1="447.94" y1="367.4" x2="447.94" y2="374.9"/>
<line x1="448.94" y1="367.4" x2="448.94" y2="374.9"/>
<line x1="449.19" y1="367.4" x2="449.19" y2="374.9"/>
<line x1="449.44" y1="367.4" x2="449.44" y2="374.9"/>
<line x1="450.10" y1="367.4" x2="450.10" y2="374.9"/>
<line x1="450.76" y1="367.4" x2="450.76" y2="374.9"/>
<line x1="451.18" y1="367.4" x2="451.18" y2="374.9"/>
<line x1="452.67" y1="367.4" x2="452.67" y2="374.9"/>
<line x1="453.01" y1="367.4" x2="453.01" y2="374.9"/>
<line x1="453.25" y1="367.4" x2="453.25" y2="374.9"/>
<line x1="453.92" y1="367.4" x2="453.92" y2="374.9"/>
<line x1="454.33" y1="367.4" x2="454.33" y2="374.9"/>
<line x1="455.83" y1="367.4" x2="455.83" y2="374.9"/>
<line x1="456.33" y1="367.4" x2="456.33" y2="374.9"/>
<line x1="456.74" y1="367.4" x2="456.74" y2="374.9"/>
<line x1="456.99" y1="367.4" x2="456.99" y2="374.9"/>
<line x1="457.19" y1="367.4" x2="457.19" y2="374.9"/>
<line x1="457.60" y1="367.4" x2="457.60" y2="374.9"/>
<line x1="458.27" y1="367.4" x2="458.27" y2="374.9"/>
<line x1="458.60" y1="367.4" x2="458.60" y2="374.9"/>
<line x1="459.10" y1="367.4" x2="459.10" y2="374.9"/>
<line x1="459.76" y1="367.4" x2="459.76" y2="374.9"/>
<line x1="460.01" y1="367.4" x2="460.01" y2="374.9"/>
<line x1="460.68" y1="367.4" x2="460.68" y2="374.9"/>
<line x1="461.01" y1="367.4" x2="461.01" y2="374.9"/>
<line x1="462.00" y1="367.4" x2="462.00" y2="374.9"/>
<line x1="462.50" y1="367.4" x2="462.50" y2="374.9"/>
<line x1="463.00" y1="367.4" x2="463.00" y2="374.9"/>
<line x1="464.49" y1="367.4" x2="464.49" y2="374.9"/>
<line x1="465.16" y1="367.4" x2="465.16" y2="374.9"/>
<line x1="466.15" y1="367.4" x2="466.15" y2="374.9"/>
<line x1="466.65" y1="367.4" x2="466.65" y2="374.9"/>
<line x1="467.65" y1="367.4" x2="467.65" y2="374.9"/>
</g>
<line x1="358" y1="323.6" x2="473.5" y2="323.6" stroke="#f04040" stroke-width="1.0" stroke-dasharray="3,2.3"/>
<line x1="358" y1="389.3" x2="473.5" y2="389.3" stroke="#f04040" stroke-width="1.0" stroke-dasharray="3,2.3"/>
<rect x="405" y="325" width="71" height="20" fill="#fff"/>
<path d="M363.20,371.20 L364.20,356.80 L365.19,342.40 L366.52,336.64 L367.52,337.36 L368.68,333.76 L370.67,330.88 L373.16,328.00 L376.48,325.12 L378.14,325.12 L381.46,326.56 L384.78,329.44 L388.10,330.88 L391.42,330.88 L396.40,335.20 L401.38,339.52 L406.36,346.72 L411.34,353.92 L416.32,361.12 L421.30,366.88 L426.28,372.64 L431.26,376.96 L436.24,381.28 L441.22,384.16 L446.20,387.04 L451.18,388.48 L454.50,389.20 L457.82,389.20 L460.31,387.76 L461.97,384.16 L463.63,379.84 L465.29,378.40 L466.95,378.40 L468.61,375.52" stroke="#28e028" fill="none" stroke-width="1.3" stroke-linejoin="round"/>
<text x="408.8" y="331.7" font-size="7.6" fill="#222">NES: 1.494629</text>
<text x="408.8" y="340.9" font-size="7.6" fill="#222">p.adj: 1.344925e-02</text>
<text x="420.4" y="315.3" font-size="9.3" text-anchor="middle">Myeloid Leukocyte Activation</text>
<text x="358" y="330.7" font-size="7.9" text-anchor="end" fill="#333">0.3</text>
<text x="358" y="345.1" font-size="7.9" text-anchor="end" fill="#333">0.2</text>
<text x="358" y="359.5" font-size="7.9" text-anchor="end" fill="#333">0.1</text>
<text x="358" y="373.9" font-size="7.9" text-anchor="end" fill="#333">0.0</text>
<text x="358" y="388.3" font-size="7.9" text-anchor="end" fill="#333">-0.1</text>
<text x="363.2" y="403.2" font-size="7.9" text-anchor="middle" fill="#333">0</text>
<text x="397" y="403.2" font-size="7.9" text-anchor="middle" fill="#333">2000</text>
<text x="429.8" y="403.2" font-size="7.9" text-anchor="middle" fill="#333">4000</text>
<text x="463.6" y="403.2" font-size="7.9" text-anchor="middle" fill="#333">6000</text>
<text x="414.3" y="411.2" font-size="7.9" text-anchor="middle">rank</text>
<text x="343.7" y="361.5" font-size="7.92" text-anchor="middle" transform="rotate(-90 343.7 361.5)">Enrichment score</text>
<text x="521.8" y="305.9" font-size="12.5" font-weight="bold">G</text>
<text x="552.8" y="304.6" font-size="8.65">TNFa pathway</text>
<line x1="551.4" y1="317.7" x2="551.4" y2="395" stroke="#000" stroke-width="1.0"/>
<line x1="551.7" y1="394.8" x2="612.5" y2="394.8" stroke="#999" stroke-width="1.4"/>
<line x1="548.9" y1="331.6" x2="551.4" y2="331.6" stroke="#000" stroke-width="1.0"/>
<text x="547.9" y="334.5" font-size="8.4" text-anchor="end" fill="#333">6</text>
<line x1="548.9" y1="351.8" x2="551.4" y2="351.8" stroke="#000" stroke-width="1.0"/>
<text x="547.9" y="354.7" font-size="8.4" text-anchor="end" fill="#333">3</text>
<line x1="548.9" y1="372" x2="551.4" y2="372" stroke="#000" stroke-width="1.0"/>
<text x="547.9" y="374.9" font-size="8.4" text-anchor="end" fill="#333">0</text>
<line x1="548.9" y1="392.2" x2="551.4" y2="392.2" stroke="#000" stroke-width="1.0"/>
<text x="547.9" y="395.1" font-size="8.4" text-anchor="end" fill="#333">-3</text>
<text x="538.8" y="358.3" font-size="8.1" text-anchor="middle" transform="rotate(-90 538.8 358.3)">Activity</text>
<path d="M568.20,323.60 L568.65,323.60 L568.65,324.43 L568.65,325.27 L568.65,326.10 L568.65,326.93 L568.65,327.76 L568.65,328.60 L568.65,329.43 L568.65,330.26 L568.65,331.09 L568.65,331.93 L568.65,332.76 L568.65,333.59 L568.65,334.42 L568.65,335.25 L568.65,336.09 L568.65,336.92 L568.65,337.75 L568.65,338.59 L568.65,339.42 L568.66,340.25 L568.66,341.08 L568.66,341.92 L568.67,342.75 L568.68,343.58 L568.69,344.41 L568.71,345.25 L568.74,346.08 L568.78,346.91 L568.84,347.74 L568.92,348.57 L569.02,349.41 L569.15,350.24 L569.31,351.07 L569.53,351.91 L569.79,352.74 L570.12,353.57 L570.51,354.40 L570.97,355.24 L571.51,356.07 L572.12,356.90 L572.80,357.73 L573.54,358.56 L574.33,359.40 L575.15,360.23 L575.97,361.06 L576.78,361.89 L577.53,362.73 L578.19,363.56 L578.74,364.39 L579.14,365.23 L579.36,366.06 L579.37,366.89 L579.25,367.72 L579.10,368.56 L578.92,369.39 L578.72,370.22 L578.50,371.05 L578.27,371.88 L578.02,372.72 L577.76,373.55 L577.48,374.38 L577.20,375.21 L576.89,376.05 L576.58,376.88 L576.25,377.71 L575.90,378.55 L575.55,379.38 L575.18,380.21 L574.79,381.04 L574.39,381.88 L573.97,382.71 L573.53,383.54 L573.07,384.37 L572.58,385.20 L572.07,386.04 L571.52,386.87 L570.94,387.70 L570.29,388.53 L569.56,389.37 L568.65,390.20 L567.75,390.20 L566.84,389.37 L566.11,388.53 L565.46,387.70 L564.88,386.87 L564.33,386.04 L563.82,385.20 L563.33,384.37 L562.87,383.54 L562.43,382.71 L562.01,381.88 L561.61,381.04 L561.22,380.21 L560.85,379.38 L560.50,378.55 L560.15,377.71 L559.82,376.88 L559.51,376.05 L559.20,375.21 L558.92,374.38 L558.64,373.55 L558.38,372.72 L558.13,371.88 L557.90,371.05 L557.68,370.22 L557.48,369.39 L557.30,368.56 L557.15,367.72 L557.03,366.89 L557.04,366.06 L557.26,365.23 L557.66,364.39 L558.21,363.56 L558.87,362.73 L559.62,361.89 L560.43,361.06 L561.25,360.23 L562.07,359.40 L562.86,358.56 L563.60,357.73 L564.28,356.90 L564.89,356.07 L565.43,355.24 L565.89,354.40 L566.28,353.57 L566.61,352.74 L566.87,351.91 L567.09,351.07 L567.25,350.24 L567.38,349.41 L567.48,348.57 L567.56,347.74 L567.62,346.91 L567.66,346.08 L567.69,345.25 L567.71,344.41 L567.72,343.58 L567.73,342.75 L567.74,341.92 L567.74,341.08 L567.74,340.25 L567.75,339.42 L567.75,338.59 L567.75,337.75 L567.75,336.92 L567.75,336.09 L567.75,335.25 L567.75,334.42 L567.75,333.59 L567.75,332.76 L567.75,331.93 L567.75,331.09 L567.75,330.26 L567.75,329.43 L567.75,328.60 L567.75,327.76 L567.75,326.93 L567.75,326.10 L567.75,325.27 L567.75,324.43 L567.75,323.60 Z" stroke="#111" fill="#3d3789" stroke-width="0.8"/>
<line x1="568.2" y1="350" x2="568.2" y2="364.5" stroke="#111" stroke-width="0.8"/>
<line x1="568.2" y1="375.4" x2="568.2" y2="386" stroke="#111" stroke-width="0.8"/>
<rect x="564.1" y="364.5" width="8.5" height="10.9" fill="none" stroke="#000" stroke-width="0.9"/>
<line x1="564.1" y1="369.6" x2="572.6" y2="369.6" stroke="#000" stroke-width="1.6"/>
<path d="M595.60,351.40 L596.63,351.40 L596.74,351.97 L596.87,352.54 L597.03,353.11 L597.22,353.68 L597.43,354.25 L597.69,354.82 L597.98,355.39 L598.31,355.96 L598.68,356.53 L599.10,357.10 L599.55,357.67 L600.05,358.24 L600.59,358.81 L601.16,359.38 L601.76,359.95 L602.39,360.52 L603.03,361.09 L603.67,361.66 L604.31,362.23 L604.94,362.80 L605.54,363.37 L606.10,363.94 L606.61,364.51 L607.06,365.08 L607.44,365.65 L607.74,366.22 L607.95,366.79 L608.07,367.36 L608.10,367.93 L608.00,368.50 L607.76,369.07 L607.40,369.64 L606.93,370.21 L606.36,370.78 L605.71,371.35 L605.00,371.92 L604.25,372.49 L603.48,373.06 L602.70,373.63 L601.95,374.20 L601.22,374.77 L600.53,375.34 L599.90,375.91 L599.32,376.48 L598.80,377.05 L598.34,377.62 L597.95,378.19 L597.61,378.76 L597.32,379.33 L597.10,379.90 L597.10,380.47 L597.10,381.04 L597.10,381.61 L597.10,382.18 L597.10,382.75 L597.10,383.32 L597.10,383.89 L597.10,384.46 L597.10,385.03 L597.10,385.60 L594.10,385.60 L594.10,385.03 L594.10,384.46 L594.10,383.89 L594.10,383.32 L594.10,382.75 L594.10,382.18 L594.10,381.61 L594.10,381.04 L594.10,380.47 L594.10,379.90 L593.88,379.33 L593.59,378.76 L593.25,378.19 L592.86,377.62 L592.40,377.05 L591.88,376.48 L591.30,375.91 L590.67,375.34 L589.98,374.77 L589.25,374.20 L588.50,373.63 L587.72,373.06 L586.95,372.49 L586.20,371.92 L585.49,371.35 L584.84,370.78 L584.27,370.21 L583.80,369.64 L583.44,369.07 L583.20,368.50 L583.10,367.93 L583.13,367.36 L583.25,366.79 L583.46,366.22 L583.76,365.65 L584.14,365.08 L584.59,364.51 L585.10,363.94 L585.66,363.37 L586.26,362.80 L586.89,362.23 L587.53,361.66 L588.17,361.09 L588.81,360.52 L589.44,359.95 L590.04,359.38 L590.61,358.81 L591.15,358.24 L591.65,357.67 L592.10,357.10 L592.52,356.53 L592.89,355.96 L593.22,355.39 L593.51,354.82 L593.77,354.25 L593.98,353.68 L594.17,353.11 L594.33,352.54 L594.46,351.97 L594.57,351.40 Z" stroke="#111" fill="#f28a00" stroke-width="0.8"/>
<line x1="595.6" y1="353" x2="595.6" y2="363" stroke="#111" stroke-width="0.8"/>
<line x1="595.6" y1="372.5" x2="595.6" y2="384" stroke="#111" stroke-width="0.8"/>
<rect x="591.5" y="363" width="8.1" height="9.5" fill="none" stroke="#000" stroke-width="0.9"/>
<line x1="591.5" y1="367.8" x2="599.6" y2="367.8" stroke="#000" stroke-width="1.6"/>
<text x="569.3" y="318.5" font-size="8.6" textLength="28.1" lengthAdjust="spacingAndGlyphs" fill="#231f20" style="stroke:none"><tspan font-style="italic">p</tspan> = 0.029</text>
<path d="M568.2,323.4 L568.2,321.4 L595.6,321.4 L595.6,323.4" stroke="#555" fill="none" stroke-width="0.6"/>
<rect x="617.9" y="313.1" width="10.2" height="8.9" fill="#3d3789" stroke="#111" stroke-width="1"/>
<rect x="617.9" y="326.2" width="10.2" height="8" fill="#f28a00" stroke="#111" stroke-width="1"/>
<text x="630.4" y="320.8" font-size="8.6">WT</text>
<text x="630.4" y="333.4" font-size="8.6">AKO</text>
<text x="13.2" y="421.9" font-size="12.5" font-weight="bold">H</text>
<line x1="214.2" y1="433.1" x2="255" y2="433.1" stroke="#ececec" stroke-width="0.8"/>
<line x1="214.2" y1="445.6" x2="255" y2="445.6" stroke="#ececec" stroke-width="0.8"/>
<line x1="214.2" y1="458.2" x2="255" y2="458.2" stroke="#ececec" stroke-width="0.8"/>
<line x1="214.2" y1="470.9" x2="255" y2="470.9" stroke="#ececec" stroke-width="0.8"/>
<line x1="214.2" y1="483.6" x2="255" y2="483.6" stroke="#ececec" stroke-width="0.8"/>
<line x1="214.2" y1="496.4" x2="255" y2="496.4" stroke="#ececec" stroke-width="0.8"/>
<line x1="214.2" y1="509.1" x2="255" y2="509.1" stroke="#ececec" stroke-width="0.8"/>
<line x1="214.2" y1="521.9" x2="255" y2="521.9" stroke="#ececec" stroke-width="0.8"/>
<line x1="221.8" y1="425" x2="221.8" y2="529" stroke="#ececec" stroke-width="0.8"/>
<line x1="234.9" y1="425" x2="234.9" y2="529" stroke="#ececec" stroke-width="0.8"/>
<line x1="247.6" y1="425" x2="247.6" y2="529" stroke="#ececec" stroke-width="0.8"/>
<text x="211.7" y="435.1" font-size="8.35" text-anchor="end">GOBP: Myeloid Leukocyte Mediated Immunity</text>
<text x="211.7" y="447.6" font-size="8.35" text-anchor="end">GOBP: Myeloid Leukocyte Activation</text>
<text x="211.7" y="460.2" font-size="8.35" text-anchor="end">HALLMARK: TNFa signaling via NFkB</text>
<text x="211.7" y="472.9" font-size="8.35" text-anchor="end">HALLMARK: Apoptosis</text>
<text x="211.7" y="485.6" font-size="8.35" text-anchor="end">HALLMARK: Oxidative Phosphorylation</text>
<text x="211.7" y="498.4" font-size="8.35" text-anchor="end">CHUANG: Oxidative Stress Response Up</text>
<text x="211.7" y="511.1" font-size="8.35" text-anchor="end">GOBP: Response To Type I Interferon</text>
<text x="211.7" y="523.9" font-size="8.35" text-anchor="end">HALLMARK: Reactive Oxygen Species Pathway</text>
<line x1="214.2" y1="425.2" x2="214.2" y2="529.6" stroke="#333" stroke-width="1.2"/>
<line x1="213.6" y1="529.1" x2="255.2" y2="529.1" stroke="#333" stroke-width="1.2"/>
<circle cx="221.8" cy="433.1" r="3.2" fill="#e2533e"/>
<circle cx="234.9" cy="433.1" r="2.1" fill="#f3a08c"/>
<circle cx="247.6" cy="433.1" r="1.4" fill="#fbcbb9"/>
<circle cx="221.8" cy="445.6" r="3.1" fill="#f18c78"/>
<circle cx="234.9" cy="445.6" r="1.6" fill="#fcd3c4"/>
<circle cx="247.6" cy="445.6" r="1.8" fill="#fac2b0"/>
<circle cx="221.8" cy="458.2" r="1.9" fill="#f8baa7"/>
<circle cx="234.9" cy="458.2" r="1" fill="#f29582"/>
<circle cx="247.6" cy="458.2" r="1.6" fill="#ea6a56"/>
<circle cx="221.8" cy="470.9" r="2.3" fill="#f08069"/>
<circle cx="247.6" cy="470.9" r="1.6" fill="#e8624b"/>
<circle cx="221.8" cy="483.6" r="3.1" fill="#dc2a22"/>
<circle cx="221.8" cy="496.4" r="1.8" fill="#ee6655"/>
<circle cx="221.8" cy="509.1" r="1.6" fill="#f08272"/>
<circle cx="221.8" cy="521.9" r="0.9" fill="#f9b4a4"/>
<text x="225.4" y="535.8" font-size="8.9" text-anchor="end" transform="rotate(-45 225.4 535.8)">VEC</text>
<text x="238.5" y="535.8" font-size="8.9" text-anchor="end" transform="rotate(-45 238.5 535.8)">LEC</text>
<text x="251.2" y="535.8" font-size="8.9" text-anchor="end" transform="rotate(-45 251.2 535.8)">MC</text>
<text x="251.9" y="428.8" font-size="8.2" textLength="42.6" lengthAdjust="spacingAndGlyphs">-log<tspan font-size="5.2">10</tspan>(p.adj)</text>
<circle cx="266.4" cy="435.6" r="1.3" fill="#000"/>
<text x="271.6" y="438.3" font-size="7.6">2</text>
<circle cx="266.4" cy="443.5" r="1.75" fill="#000"/>
<text x="271.6" y="446.2" font-size="7.6">3</text>
<circle cx="266.4" cy="450.8" r="2.1" fill="#000"/>
<text x="271.6" y="453.5" font-size="7.6">4</text>
<circle cx="266.4" cy="458.2" r="2.4" fill="#000"/>
<text x="271.6" y="460.9" font-size="7.6">5</text>
<circle cx="266.4" cy="465" r="2.7" fill="#000"/>
<text x="271.6" y="467.7" font-size="7.6">6</text>
<circle cx="266.4" cy="472.7" r="3" fill="#000"/>
<text x="271.6" y="475.4" font-size="7.6">7</text>
<text x="258.3" y="488.8" font-size="8.4">NES</text>
<defs><linearGradient id="nesg" x1="0" y1="0" x2="0" y2="1"><stop offset="0" stop-color="#dc2a22"/><stop offset="0.5" stop-color="#f08a76"/><stop offset="1" stop-color="#fde3da"/></linearGradient></defs>
<rect x="262.9" y="491.9" width="6.8" height="37.8" fill="url(#nesg)"/>
<line x1="262.9" y1="500.4" x2="264.2" y2="500.4" stroke="#fff" stroke-width="0.5"/>
<line x1="268.4" y1="500.4" x2="269.7" y2="500.4" stroke="#fff" stroke-width="0.5"/>
<text x="271.9" y="503.1" font-size="7.6">2.0</text>
<line x1="262.9" y1="507.7" x2="264.2" y2="507.7" stroke="#fff" stroke-width="0.5"/>
<line x1="268.4" y1="507.7" x2="269.7" y2="507.7" stroke="#fff" stroke-width="0.5"/>
<text x="271.9" y="510.4" font-size="7.6">1.9</text>
<line x1="262.9" y1="515.4" x2="264.2" y2="515.4" stroke="#fff" stroke-width="0.5"/>
<line x1="268.4" y1="515.4" x2="269.7" y2="515.4" stroke="#fff" stroke-width="0.5"/>
<text x="271.9" y="518.1" font-size="7.6">1.8</text>
<line x1="262.9" y1="523.7" x2="264.2" y2="523.7" stroke="#fff" stroke-width="0.5"/>
<line x1="268.4" y1="523.7" x2="269.7" y2="523.7" stroke="#fff" stroke-width="0.5"/>
<text x="271.9" y="526.4" font-size="7.6">1.7</text>
<text x="332.6" y="421.2" font-size="12.5" font-weight="bold" fill="#231f20">I</text>
<line x1="366.1" y1="421.5" x2="366.1" y2="532.9" stroke="#000" stroke-width="1.2"/>
<line x1="365.5" y1="532.2" x2="644.5" y2="532.2" stroke="#000" stroke-width="1.2"/>
<line x1="360.1" y1="532.2" x2="366.1" y2="532.2" stroke="#000" stroke-width="1.1"/>
<text x="359.1" y="535.1" font-size="8.2" text-anchor="end">0.0</text>
<line x1="360.1" y1="510.2" x2="366.1" y2="510.2" stroke="#000" stroke-width="1.1"/>
<text x="359.1" y="513.1" font-size="8.2" text-anchor="end">0.5</text>
<line x1="360.1" y1="488.2" x2="366.1" y2="488.2" stroke="#000" stroke-width="1.1"/>
<text x="359.1" y="491.1" font-size="8.2" text-anchor="end">1.0</text>
<line x1="360.1" y1="466.2" x2="366.1" y2="466.2" stroke="#000" stroke-width="1.1"/>
<text x="359.1" y="469.1" font-size="8.2" text-anchor="end">1.5</text>
<line x1="360.1" y1="444.2" x2="366.1" y2="444.2" stroke="#000" stroke-width="1.1"/>
<text x="359.1" y="447.1" font-size="8.2" text-anchor="end">2.0</text>
<line x1="360.1" y1="422.2" x2="366.1" y2="422.2" stroke="#000" stroke-width="1.1"/>
<text x="359.1" y="425.1" font-size="8.2" text-anchor="end">2.5</text>
<text x="339.3" y="476.8" font-size="7.75" text-anchor="middle" transform="rotate(-90 339.3 476.8)">Relative to WT</text>
<line x1="383.5" y1="532.2" x2="383.5" y2="535.6" stroke="#000" stroke-width="1.1"/>
<rect x="371.1" y="488.2" width="9.9" height="44" fill="#000"/>
<line x1="376.05" y1="488.2" x2="376.05" y2="484.68" stroke="#000" stroke-width="1.1"/>
<line x1="373.55" y1="484.68" x2="378.55" y2="484.68" stroke="#000" stroke-width="1.1"/>
<rect x="386.1" y="462.24" width="10" height="69.96" fill="#5757f7"/>
<line x1="391.1" y1="462.24" x2="391.1" y2="458.28" stroke="#5757f7" stroke-width="1.1"/>
<line x1="388.6" y1="458.28" x2="393.6" y2="458.28" stroke="#5757f7" stroke-width="1.1"/>
<text x="384.8" y="538.8" font-size="8.6" text-anchor="end" transform="rotate(-45 384.8 538.8)">Cox7c</text>
<line x1="413.55" y1="532.2" x2="413.55" y2="535.6" stroke="#000" stroke-width="1.1"/>
<rect x="401.15" y="488.2" width="9.9" height="44" fill="#000"/>
<line x1="406.1" y1="488.2" x2="406.1" y2="486.44" stroke="#000" stroke-width="1.1"/>
<line x1="403.6" y1="486.44" x2="408.6" y2="486.44" stroke="#000" stroke-width="1.1"/>
<rect x="416.15" y="473.24" width="10" height="58.96" fill="#5757f7"/>
<line x1="421.15" y1="473.24" x2="421.15" y2="470.6" stroke="#5757f7" stroke-width="1.1"/>
<line x1="418.65" y1="470.6" x2="423.65" y2="470.6" stroke="#5757f7" stroke-width="1.1"/>
<text x="414.85" y="538.8" font-size="8.6" text-anchor="end" transform="rotate(-45 414.85 538.8)">Atp5a1</text>
<line x1="443.6" y1="532.2" x2="443.6" y2="535.6" stroke="#000" stroke-width="1.1"/>
<rect x="431.2" y="488.2" width="9.9" height="44" fill="#000"/>
<line x1="436.15" y1="488.2" x2="436.15" y2="482.92" stroke="#000" stroke-width="1.1"/>
<line x1="433.65" y1="482.92" x2="438.65" y2="482.92" stroke="#000" stroke-width="1.1"/>
<rect x="446.2" y="466.64" width="10" height="65.56" fill="#5757f7"/>
<line x1="451.2" y1="466.64" x2="451.2" y2="464.44" stroke="#5757f7" stroke-width="1.1"/>
<line x1="448.7" y1="464.44" x2="453.7" y2="464.44" stroke="#5757f7" stroke-width="1.1"/>
<text x="444.9" y="538.8" font-size="8.6" text-anchor="end" transform="rotate(-45 444.9 538.8)">Pgc1a</text>
<line x1="473.65" y1="532.2" x2="473.65" y2="535.6" stroke="#000" stroke-width="1.1"/>
<rect x="461.25" y="488.2" width="9.9" height="44" fill="#000"/>
<line x1="466.2" y1="488.2" x2="466.2" y2="484.24" stroke="#000" stroke-width="1.1"/>
<line x1="463.7" y1="484.24" x2="468.7" y2="484.24" stroke="#000" stroke-width="1.1"/>
<rect x="476.25" y="461.8" width="10" height="70.4" fill="#5757f7"/>
<line x1="481.25" y1="461.8" x2="481.25" y2="460.04" stroke="#5757f7" stroke-width="1.1"/>
<line x1="478.75" y1="460.04" x2="483.75" y2="460.04" stroke="#5757f7" stroke-width="1.1"/>
<text x="474.95" y="538.8" font-size="8.6" text-anchor="end" transform="rotate(-45 474.95 538.8)">Ftl1</text>
<line x1="503.7" y1="532.2" x2="503.7" y2="535.6" stroke="#000" stroke-width="1.1"/>
<rect x="491.3" y="486.88" width="9.9" height="45.32" fill="#000"/>
<line x1="496.25" y1="486.88" x2="496.25" y2="481.16" stroke="#000" stroke-width="1.1"/>
<line x1="493.75" y1="481.16" x2="498.75" y2="481.16" stroke="#000" stroke-width="1.1"/>
<rect x="506.3" y="449.92" width="10" height="82.28" fill="#5757f7"/>
<line x1="511.3" y1="449.92" x2="511.3" y2="442.88" stroke="#5757f7" stroke-width="1.1"/>
<line x1="508.8" y1="442.88" x2="513.8" y2="442.88" stroke="#5757f7" stroke-width="1.1"/>
<text x="505" y="538.8" font-size="8.6" text-anchor="end" transform="rotate(-45 505 538.8)">Fth1</text>
<line x1="533.75" y1="532.2" x2="533.75" y2="535.6" stroke="#000" stroke-width="1.1"/>
<rect x="521.35" y="488.2" width="9.9" height="44" fill="#000"/>
<line x1="526.3" y1="488.2" x2="526.3" y2="485.12" stroke="#000" stroke-width="1.1"/>
<line x1="523.8" y1="485.12" x2="528.8" y2="485.12" stroke="#000" stroke-width="1.1"/>
<rect x="536.35" y="473.68" width="10" height="58.52" fill="#5757f7"/>
<line x1="541.35" y1="473.68" x2="541.35" y2="471.48" stroke="#5757f7" stroke-width="1.1"/>
<line x1="538.85" y1="471.48" x2="543.85" y2="471.48" stroke="#5757f7" stroke-width="1.1"/>
<text x="535.05" y="538.8" font-size="8.6" text-anchor="end" transform="rotate(-45 535.05 538.8)">Hif1a</text>
<line x1="563.8" y1="532.2" x2="563.8" y2="535.6" stroke="#000" stroke-width="1.1"/>
<rect x="551.4" y="487.32" width="9.9" height="44.88" fill="#000"/>
<line x1="556.35" y1="487.32" x2="556.35" y2="486.44" stroke="#000" stroke-width="1.1"/>
<line x1="553.85" y1="486.44" x2="558.85" y2="486.44" stroke="#000" stroke-width="1.1"/>
<rect x="566.4" y="507.12" width="10" height="25.08" fill="#5757f7"/>
<line x1="571.4" y1="507.12" x2="571.4" y2="504.48" stroke="#5757f7" stroke-width="1.1"/>
<line x1="568.9" y1="504.48" x2="573.9" y2="504.48" stroke="#5757f7" stroke-width="1.1"/>
<text x="565.1" y="538.8" font-size="8.6" text-anchor="end" transform="rotate(-45 565.1 538.8)">Slc2a4</text>
<line x1="593.85" y1="532.2" x2="593.85" y2="535.6" stroke="#000" stroke-width="1.1"/>
<rect x="581.45" y="488.2" width="9.9" height="44" fill="#000"/>
<line x1="586.4" y1="488.2" x2="586.4" y2="485.12" stroke="#000" stroke-width="1.1"/>
<line x1="583.9" y1="485.12" x2="588.9" y2="485.12" stroke="#000" stroke-width="1.1"/>
<rect x="596.45" y="505.8" width="10" height="26.4" fill="#5757f7"/>
<line x1="601.45" y1="505.8" x2="601.45" y2="503.16" stroke="#5757f7" stroke-width="1.1"/>
<line x1="598.95" y1="503.16" x2="603.95" y2="503.16" stroke="#5757f7" stroke-width="1.1"/>
<text x="595.15" y="538.8" font-size="8.6" text-anchor="end" transform="rotate(-45 595.15 538.8)">Plin1</text>
<line x1="623.9" y1="532.2" x2="623.9" y2="535.6" stroke="#000" stroke-width="1.1"/>
<rect x="611.5" y="488.2" width="9.9" height="44" fill="#000"/>
<line x1="616.45" y1="488.2" x2="616.45" y2="487.32" stroke="#000" stroke-width="1.1"/>
<line x1="613.95" y1="487.32" x2="618.95" y2="487.32" stroke="#000" stroke-width="1.1"/>
<rect x="626.5" y="493.04" width="10" height="39.16" fill="#5757f7"/>
<line x1="631.5" y1="493.04" x2="631.5" y2="490.84" stroke="#5757f7" stroke-width="1.1"/>
<line x1="629" y1="490.84" x2="634" y2="490.84" stroke="#5757f7" stroke-width="1.1"/>
<text x="625.2" y="538.8" font-size="8.6" text-anchor="end" transform="rotate(-45 625.2 538.8)">Fabp4</text>
<circle cx="376.05" cy="478.52" r="2.4" fill="#fff" stroke="#000" stroke-width="1.1"/>
<circle cx="376.05" cy="483.8" r="2.4" fill="#fff" stroke="#000" stroke-width="1.1"/>
<circle cx="374.05" cy="493.92" r="2.4" fill="#fff" stroke="#000" stroke-width="1.1"/>
<circle cx="378.05" cy="489.96" r="2.4" fill="#fff" stroke="#000" stroke-width="1.1"/>
<rect x="388.7" y="450.6" width="4.8" height="4.8" fill="#fff" stroke="#5757f7" stroke-width="1.1"/>
<rect x="388.7" y="457.2" width="4.8" height="4.8" fill="#fff" stroke="#5757f7" stroke-width="1.1"/>
<rect x="386.7" y="466" width="4.8" height="4.8" fill="#fff" stroke="#5757f7" stroke-width="1.1"/>
<rect x="390.7" y="465.56" width="4.8" height="4.8" fill="#fff" stroke="#5757f7" stroke-width="1.1"/>
<circle cx="404.1" cy="486" r="2.4" fill="#fff" stroke="#000" stroke-width="1.1"/>
<circle cx="408.1" cy="486" r="2.4" fill="#fff" stroke="#000" stroke-width="1.1"/>
<circle cx="406.1" cy="491.72" r="2.4" fill="#fff" stroke="#000" stroke-width="1.1"/>
<rect x="418.75" y="468.2" width="4.8" height="4.8" fill="#fff" stroke="#5757f7" stroke-width="1.1"/>
<rect x="416.75" y="471.72" width="4.8" height="4.8" fill="#fff" stroke="#5757f7" stroke-width="1.1"/>
<rect x="420.75" y="471.72" width="4.8" height="4.8" fill="#fff" stroke="#5757f7" stroke-width="1.1"/>
<rect x="418.75" y="476.12" width="4.8" height="4.8" fill="#fff" stroke="#5757f7" stroke-width="1.1"/>
<circle cx="436.15" cy="473.68" r="2.4" fill="#fff" stroke="#000" stroke-width="1.1"/>
<circle cx="434.15" cy="488.2" r="2.4" fill="#fff" stroke="#000" stroke-width="1.1"/>
<circle cx="436.15" cy="493.48" r="2.4" fill="#fff" stroke="#000" stroke-width="1.1"/>
<circle cx="438.15" cy="496.12" r="2.4" fill="#fff" stroke="#000" stroke-width="1.1"/>
<rect x="448.8" y="458.52" width="4.8" height="4.8" fill="#fff" stroke="#5757f7" stroke-width="1.1"/>
<rect x="448.8" y="462.04" width="4.8" height="4.8" fill="#fff" stroke="#5757f7" stroke-width="1.1"/>
<rect x="446.8" y="465.56" width="4.8" height="4.8" fill="#fff" stroke="#5757f7" stroke-width="1.1"/>
<rect x="450.8" y="465.56" width="4.8" height="4.8" fill="#fff" stroke="#5757f7" stroke-width="1.1"/>
<circle cx="464.2" cy="485.12" r="2.4" fill="#fff" stroke="#000" stroke-width="1.1"/>
<circle cx="468.2" cy="482.48" r="2.4" fill="#fff" stroke="#000" stroke-width="1.1"/>
<circle cx="466.2" cy="491.28" r="2.4" fill="#fff" stroke="#000" stroke-width="1.1"/>
<circle cx="466.2" cy="495.68" r="2.4" fill="#fff" stroke="#000" stroke-width="1.1"/>
<rect x="476.85" y="458.52" width="4.8" height="4.8" fill="#fff" stroke="#5757f7" stroke-width="1.1"/>
<rect x="480.85" y="459.84" width="4.8" height="4.8" fill="#fff" stroke="#5757f7" stroke-width="1.1"/>
<rect x="478.85" y="462.92" width="4.8" height="4.8" fill="#fff" stroke="#5757f7" stroke-width="1.1"/>
<circle cx="496.25" cy="475" r="2.4" fill="#fff" stroke="#000" stroke-width="1.1"/>
<circle cx="494.25" cy="488.2" r="2.4" fill="#fff" stroke="#000" stroke-width="1.1"/>
<circle cx="498.25" cy="488.2" r="2.4" fill="#fff" stroke="#000" stroke-width="1.1"/>
<circle cx="496.25" cy="495.68" r="2.4" fill="#fff" stroke="#000" stroke-width="1.1"/>
<rect x="508.9" y="437.4" width="4.8" height="4.8" fill="#fff" stroke="#5757f7" stroke-width="1.1"/>
<rect x="508.9" y="441.8" width="4.8" height="4.8" fill="#fff" stroke="#5757f7" stroke-width="1.1"/>
<rect x="508.9" y="450.6" width="4.8" height="4.8" fill="#fff" stroke="#5757f7" stroke-width="1.1"/>
<rect x="508.9" y="458.96" width="4.8" height="4.8" fill="#fff" stroke="#5757f7" stroke-width="1.1"/>
<circle cx="526.3" cy="475" r="2.4" fill="#fff" stroke="#000" stroke-width="1.1"/>
<circle cx="524.3" cy="488.2" r="2.4" fill="#fff" stroke="#000" stroke-width="1.1"/>
<circle cx="528.3" cy="486" r="2.4" fill="#fff" stroke="#000" stroke-width="1.1"/>
<circle cx="526.3" cy="497" r="2.4" fill="#fff" stroke="#000" stroke-width="1.1"/>
<rect x="538.95" y="466" width="4.8" height="4.8" fill="#fff" stroke="#5757f7" stroke-width="1.1"/>
<rect x="536.95" y="470.4" width="4.8" height="4.8" fill="#fff" stroke="#5757f7" stroke-width="1.1"/>
<rect x="540.95" y="470.4" width="4.8" height="4.8" fill="#fff" stroke="#5757f7" stroke-width="1.1"/>
<circle cx="554.35" cy="487.32" r="2.4" fill="#fff" stroke="#000" stroke-width="1.1"/>
<circle cx="556.35" cy="488.2" r="2.4" fill="#fff" stroke="#000" stroke-width="1.1"/>
<circle cx="558.35" cy="488.64" r="2.4" fill="#fff" stroke="#000" stroke-width="1.1"/>
<circle cx="557.35" cy="486.88" r="2.4" fill="#fff" stroke="#000" stroke-width="1.1"/>
<rect x="571" y="499.88" width="4.8" height="4.8" fill="#fff" stroke="#5757f7" stroke-width="1.1"/>
<rect x="567" y="501.2" width="4.8" height="4.8" fill="#fff" stroke="#5757f7" stroke-width="1.1"/>
<rect x="569" y="505.16" width="4.8" height="4.8" fill="#fff" stroke="#5757f7" stroke-width="1.1"/>
<rect x="569" y="510" width="4.8" height="4.8" fill="#fff" stroke="#5757f7" stroke-width="1.1"/>
<circle cx="586.4" cy="483.36" r="2.4" fill="#fff" stroke="#000" stroke-width="1.1"/>
<circle cx="584.4" cy="489.52" r="2.4" fill="#fff" stroke="#000" stroke-width="1.1"/>
<circle cx="588.4" cy="489.52" r="2.4" fill="#fff" stroke="#000" stroke-width="1.1"/>
<circle cx="586.4" cy="488.2" r="2.4" fill="#fff" stroke="#000" stroke-width="1.1"/>
<rect x="599.05" y="498.12" width="4.8" height="4.8" fill="#fff" stroke="#5757f7" stroke-width="1.1"/>
<rect x="597.05" y="502.52" width="4.8" height="4.8" fill="#fff" stroke="#5757f7" stroke-width="1.1"/>
<rect x="601.05" y="502.52" width="4.8" height="4.8" fill="#fff" stroke="#5757f7" stroke-width="1.1"/>
<rect x="599.05" y="506.92" width="4.8" height="4.8" fill="#fff" stroke="#5757f7" stroke-width="1.1"/>
<circle cx="614.45" cy="489.08" r="2.4" fill="#fff" stroke="#000" stroke-width="1.1"/>
<circle cx="616.45" cy="488.2" r="2.4" fill="#fff" stroke="#000" stroke-width="1.1"/>
<circle cx="618.45" cy="488.2" r="2.4" fill="#fff" stroke="#000" stroke-width="1.1"/>
<circle cx="617.45" cy="487.32" r="2.4" fill="#fff" stroke="#000" stroke-width="1.1"/>
<rect x="631.1" y="489.32" width="4.8" height="4.8" fill="#fff" stroke="#5757f7" stroke-width="1.1"/>
<rect x="627.1" y="490.2" width="4.8" height="4.8" fill="#fff" stroke="#5757f7" stroke-width="1.1"/>
<rect x="631.1" y="493.72" width="4.8" height="4.8" fill="#fff" stroke="#5757f7" stroke-width="1.1"/>
<rect x="627.1" y="495.48" width="4.8" height="4.8" fill="#fff" stroke="#5757f7" stroke-width="1.1"/>
<text x="370" y="440" font-size="8.4" textLength="30.7" lengthAdjust="spacingAndGlyphs" fill="#231f20" style="stroke:none"><tspan font-style="italic">p</tspan> = 0.0040</text>
<line x1="377.4" y1="443.1" x2="392.8" y2="443.1" stroke="#3a2c2c" stroke-width="1.5"/>
<text x="397.8" y="460.5" font-size="8.4" textLength="30.7" lengthAdjust="spacingAndGlyphs" fill="#231f20" style="stroke:none"><tspan font-style="italic">p</tspan> = 0.0092</text>
<line x1="405.1" y1="462.9" x2="419.7" y2="462.9" stroke="#3a2c2c" stroke-width="1.5"/>
<text x="427.6" y="443" font-size="8.4" textLength="30.1" lengthAdjust="spacingAndGlyphs" fill="#231f20" style="stroke:none"><tspan font-style="italic">p</tspan> = 0.0126</text>
<line x1="435.8" y1="446" x2="450.4" y2="446" stroke="#3a2c2c" stroke-width="1.5"/>
<text x="459.1" y="451.1" font-size="8.4" textLength="29.2" lengthAdjust="spacingAndGlyphs" fill="#231f20" style="stroke:none"><tspan font-style="italic">p</tspan> = 0.0011</text>
<line x1="467" y1="453.6" x2="481.6" y2="453.6" stroke="#3a2c2c" stroke-width="1.5"/>
<text x="487.5" y="425.4" font-size="8.4" textLength="29.9" lengthAdjust="spacingAndGlyphs" fill="#231f20" style="stroke:none"><tspan font-style="italic">p</tspan> = 0.0047</text>
<line x1="497.4" y1="428.1" x2="511.4" y2="428.1" stroke="#3a2c2c" stroke-width="1.5"/>
<text x="519.8" y="455.3" font-size="8.4" textLength="29.9" lengthAdjust="spacingAndGlyphs" fill="#231f20" style="stroke:none"><tspan font-style="italic">p</tspan> = 0.0252</text>
<line x1="526.4" y1="458.9" x2="539.9" y2="458.9" stroke="#3a2c2c" stroke-width="1.5"/>
<text x="548.8" y="477.4" font-size="8.4" textLength="30" lengthAdjust="spacingAndGlyphs" fill="#231f20" style="stroke:none"><tspan font-style="italic">p</tspan> = 0.0005</text>
<line x1="557.2" y1="479.9" x2="570.4" y2="479.9" stroke="#3a2c2c" stroke-width="1.5"/>
<text x="579.2" y="464.4" font-size="8.4" textLength="30.2" lengthAdjust="spacingAndGlyphs" fill="#231f20" style="stroke:none"><tspan font-style="italic">p</tspan> = 0.0048</text>
<line x1="586.7" y1="467.4" x2="601.1" y2="467.4" stroke="#3a2c2c" stroke-width="1.5"/>
<text x="610.4" y="478.8" font-size="8.4" textLength="30.2" lengthAdjust="spacingAndGlyphs" fill="#231f20" style="stroke:none"><tspan font-style="italic">p</tspan> = 0.0096</text>
<line x1="617.3" y1="481.8" x2="630.7" y2="481.8" stroke="#3a2c2c" stroke-width="1.5"/>
<circle cx="646.9" cy="456.6" r="2.8" fill="#fff" stroke="#000" stroke-width="1.2"/>
<text x="652.4" y="459.6" font-size="8.4" textLength="12.3" lengthAdjust="spacingAndGlyphs">WT</text>
<rect x="644.2" y="461.8" width="5.6" height="5.6" fill="#fff" stroke="#5757f7" stroke-width="1.1"/>
<text x="652.4" y="468.1" font-size="8.4" textLength="16.6" lengthAdjust="spacingAndGlyphs">AKO</text>
<text x="12.6" y="572.2" font-size="12.5" font-weight="bold">J</text>
<text x="70.1" y="573.4" font-size="9.45">Tissue weight/BW</text>
<line x1="53.3" y1="584" x2="53.3" y2="687.2" stroke="#000" stroke-width="1.2"/>
<line x1="52.7" y1="686.5" x2="156.5" y2="686.5" stroke="#000" stroke-width="1.2"/>
<line x1="49.8" y1="686.5" x2="53.3" y2="686.5" stroke="#000" stroke-width="1.1"/>
<text x="49.3" y="689.5" font-size="8.4" text-anchor="end">0</text>
<line x1="49.8" y1="661" x2="53.3" y2="661" stroke="#000" stroke-width="1.1"/>
<text x="49.3" y="664" font-size="8.4" text-anchor="end">5</text>
<line x1="49.8" y1="635.5" x2="53.3" y2="635.5" stroke="#000" stroke-width="1.1"/>
<text x="49.3" y="638.5" font-size="8.4" text-anchor="end">10</text>
<line x1="49.8" y1="610" x2="53.3" y2="610" stroke="#000" stroke-width="1.1"/>
<text x="49.3" y="613" font-size="8.4" text-anchor="end">15</text>
<line x1="49.8" y1="584.5" x2="53.3" y2="584.5" stroke="#000" stroke-width="1.1"/>
<text x="49.3" y="587.5" font-size="8.4" text-anchor="end">20</text>
<text x="28.7" y="635.4" font-size="8.66" text-anchor="middle" transform="rotate(-90 28.7 635.4)">Tissue weight/BW</text>
<text x="38.2" y="634.3" font-size="8.66" text-anchor="middle" transform="rotate(-90 38.2 634.3)">(mg/g)</text>
<line x1="72.5" y1="686.5" x2="72.5" y2="689.8" stroke="#000" stroke-width="1.1"/>
<text x="72" y="697.6" font-size="8.4" text-anchor="middle">BAT</text>
<rect x="59.1" y="667.63" width="10.7" height="18.87" fill="#000"/>
<line x1="64.45" y1="667.63" x2="64.45" y2="665.85" stroke="#000" stroke-width="1.1"/>
<line x1="61.95" y1="665.85" x2="66.95" y2="665.85" stroke="#000" stroke-width="1.1"/>
<rect x="74.8" y="666.1" width="10.8" height="20.4" fill="#5757f7"/>
<line x1="80.2" y1="666.1" x2="80.2" y2="664.06" stroke="#5757f7" stroke-width="1.1"/>
<line x1="77.7" y1="664.06" x2="82.7" y2="664.06" stroke="#5757f7" stroke-width="1.1"/>
<line x1="104.6" y1="686.5" x2="104.6" y2="689.8" stroke="#000" stroke-width="1.1"/>
<text x="104.1" y="697.6" font-size="8.4" text-anchor="middle">iWAT</text>
<rect x="91.2" y="626.32" width="10.7" height="60.18" fill="#000"/>
<line x1="96.55" y1="626.32" x2="96.55" y2="621.73" stroke="#000" stroke-width="1.1"/>
<line x1="94.05" y1="621.73" x2="99.05" y2="621.73" stroke="#000" stroke-width="1.1"/>
<rect x="106.9" y="619.18" width="10.8" height="67.32" fill="#5757f7"/>
<line x1="112.3" y1="619.18" x2="112.3" y2="614.59" stroke="#5757f7" stroke-width="1.1"/>
<line x1="109.8" y1="614.59" x2="114.8" y2="614.59" stroke="#5757f7" stroke-width="1.1"/>
<line x1="136.7" y1="686.5" x2="136.7" y2="689.8" stroke="#000" stroke-width="1.1"/>
<text x="136.2" y="697.6" font-size="8.4" text-anchor="middle">gWAT</text>
<rect x="123.3" y="618.67" width="10.7" height="67.83" fill="#000"/>
<line x1="128.65" y1="618.67" x2="128.65" y2="612.55" stroke="#000" stroke-width="1.1"/>
<line x1="126.15" y1="612.55" x2="131.15" y2="612.55" stroke="#000" stroke-width="1.1"/>
<rect x="139" y="618.67" width="10.8" height="67.83" fill="#5757f7"/>
<line x1="144.4" y1="618.67" x2="144.4" y2="612.55" stroke="#5757f7" stroke-width="1.1"/>
<line x1="141.9" y1="612.55" x2="146.9" y2="612.55" stroke="#5757f7" stroke-width="1.1"/>
<circle cx="68.1" cy="662.02" r="2.4" fill="#fff" stroke="#000" stroke-width="1.1"/>
<circle cx="65.7" cy="664.06" r="2.4" fill="#fff" stroke="#000" stroke-width="1.1"/>
<circle cx="63.6" cy="668.65" r="2.4" fill="#fff" stroke="#000" stroke-width="1.1"/>
<circle cx="60.5" cy="671.2" r="2.4" fill="#fff" stroke="#000" stroke-width="1.1"/>
<circle cx="64.5" cy="671.2" r="2.4" fill="#fff" stroke="#000" stroke-width="1.1"/>
<circle cx="67.8" cy="671.2" r="2.4" fill="#fff" stroke="#000" stroke-width="1.1"/>
<circle cx="66" cy="665.08" r="2.4" fill="#fff" stroke="#000" stroke-width="1.1"/>
<rect x="78.2" y="659.62" width="4.8" height="4.8" fill="#fff" stroke="#5757f7" stroke-width="1.1"/>
<rect x="75.4" y="662.17" width="4.8" height="4.8" fill="#fff" stroke="#5757f7" stroke-width="1.1"/>
<rect x="80.8" y="662.17" width="4.8" height="4.8" fill="#fff" stroke="#5757f7" stroke-width="1.1"/>
<rect x="75.8" y="666.76" width="4.8" height="4.8" fill="#fff" stroke="#5757f7" stroke-width="1.1"/>
<rect x="80.1" y="668.8" width="4.8" height="4.8" fill="#fff" stroke="#5757f7" stroke-width="1.1"/>
<rect x="74.5" y="672.88" width="4.8" height="4.8" fill="#fff" stroke="#5757f7" stroke-width="1.1"/>
<circle cx="96.2" cy="607.96" r="2.4" fill="#fff" stroke="#000" stroke-width="1.1"/>
<circle cx="96.2" cy="624.28" r="2.4" fill="#fff" stroke="#000" stroke-width="1.1"/>
<circle cx="93.2" cy="628.87" r="2.4" fill="#fff" stroke="#000" stroke-width="1.1"/>
<circle cx="96.4" cy="629.38" r="2.4" fill="#fff" stroke="#000" stroke-width="1.1"/>
<circle cx="99.3" cy="628.87" r="2.4" fill="#fff" stroke="#000" stroke-width="1.1"/>
<circle cx="96.4" cy="637.54" r="2.4" fill="#fff" stroke="#000" stroke-width="1.1"/>
<rect x="106.5" y="609.13" width="4.8" height="4.8" fill="#fff" stroke="#5757f7" stroke-width="1.1"/>
<rect x="113.8" y="605.56" width="4.8" height="4.8" fill="#fff" stroke="#5757f7" stroke-width="1.1"/>
<rect x="106.9" y="618.31" width="4.8" height="4.8" fill="#fff" stroke="#5757f7" stroke-width="1.1"/>
<rect x="110" y="616.78" width="4.8" height="4.8" fill="#fff" stroke="#5757f7" stroke-width="1.1"/>
<rect x="112.9" y="616.27" width="4.8" height="4.8" fill="#fff" stroke="#5757f7" stroke-width="1.1"/>
<rect x="107.2" y="630.04" width="4.8" height="4.8" fill="#fff" stroke="#5757f7" stroke-width="1.1"/>
<rect x="113.9" y="627.49" width="4.8" height="4.8" fill="#fff" stroke="#5757f7" stroke-width="1.1"/>
<circle cx="128.3" cy="591.64" r="2.4" fill="#fff" stroke="#000" stroke-width="1.1"/>
<circle cx="125.2" cy="613.06" r="2.4" fill="#fff" stroke="#000" stroke-width="1.1"/>
<circle cx="128.4" cy="615.61" r="2.4" fill="#fff" stroke="#000" stroke-width="1.1"/>
<circle cx="124.8" cy="631.42" r="2.4" fill="#fff" stroke="#000" stroke-width="1.1"/>
<circle cx="129.2" cy="629.89" r="2.4" fill="#fff" stroke="#000" stroke-width="1.1"/>
<circle cx="132" cy="630.91" r="2.4" fill="#fff" stroke="#000" stroke-width="1.1"/>
<circle cx="126.8" cy="624.79" r="2.4" fill="#fff" stroke="#000" stroke-width="1.1"/>
<rect x="142.3" y="597.91" width="4.8" height="4.8" fill="#fff" stroke="#5757f7" stroke-width="1.1"/>
<rect x="138.7" y="606.58" width="4.8" height="4.8" fill="#fff" stroke="#5757f7" stroke-width="1.1"/>
<rect x="142.4" y="608.11" width="4.8" height="4.8" fill="#fff" stroke="#5757f7" stroke-width="1.1"/>
<rect x="138.5" y="630.04" width="4.8" height="4.8" fill="#fff" stroke="#5757f7" stroke-width="1.1"/>
<rect x="142.4" y="627.49" width="4.8" height="4.8" fill="#fff" stroke="#5757f7" stroke-width="1.1"/>
<rect x="145.8" y="627.49" width="4.8" height="4.8" fill="#fff" stroke="#5757f7" stroke-width="1.1"/>
<text x="56.4" y="654.8" font-size="8.4" textLength="29.9" lengthAdjust="spacingAndGlyphs" fill="#231f20" style="stroke:none"><tspan font-style="italic">p</tspan> = 0.8880</text>
<line x1="64.3" y1="657.9" x2="78" y2="657.9" stroke="#3a2c2c" stroke-width="1.5"/>
<text x="90.9" y="598.8" font-size="8.4" textLength="29.7" lengthAdjust="spacingAndGlyphs" fill="#231f20" style="stroke:none"><tspan font-style="italic">p</tspan> = 0.2918</text>
<line x1="98.2" y1="601.7" x2="112.9" y2="601.7" stroke="#3a2c2c" stroke-width="1.5"/>
<text x="123" y="584.3" font-size="8.4" textLength="29.3" lengthAdjust="spacingAndGlyphs" fill="#231f20" style="stroke:none"><tspan font-style="italic">p</tspan> = 0.9888</text>
<line x1="130.3" y1="587.5" x2="144" y2="587.5" stroke="#3a2c2c" stroke-width="1.5"/>
<text x="168.2" y="571.2" font-size="12.5" font-weight="bold">K</text>
<text x="218.5" y="574" font-size="9.5">Body Composition</text>
<line x1="207" y1="588.8" x2="207" y2="688.5" stroke="#000" stroke-width="1.2"/>
<line x1="206.4" y1="687.8" x2="307.4" y2="687.8" stroke="#000" stroke-width="1.2"/>
<line x1="203.5" y1="687.8" x2="207" y2="687.8" stroke="#000" stroke-width="1.1"/>
<text x="203.8" y="690.8" font-size="8.4" text-anchor="end">0</text>
<line x1="203.5" y1="668.08" x2="207" y2="668.08" stroke="#000" stroke-width="1.1"/>
<text x="203.8" y="671.08" font-size="8.4" text-anchor="end">20</text>
<line x1="203.5" y1="648.36" x2="207" y2="648.36" stroke="#000" stroke-width="1.1"/>
<text x="203.8" y="651.36" font-size="8.4" text-anchor="end">40</text>
<line x1="203.5" y1="628.64" x2="207" y2="628.64" stroke="#000" stroke-width="1.1"/>
<text x="203.8" y="631.64" font-size="8.4" text-anchor="end">60</text>
<line x1="203.5" y1="608.92" x2="207" y2="608.92" stroke="#000" stroke-width="1.1"/>
<text x="203.8" y="611.92" font-size="8.4" text-anchor="end">80</text>
<line x1="203.5" y1="589.2" x2="207" y2="589.2" stroke="#000" stroke-width="1.1"/>
<text x="203.8" y="592.2" font-size="8.4" text-anchor="end">100</text>
<text x="188" y="633.5" font-size="8.6" text-anchor="middle" transform="rotate(-90 188 633.5)">% of Body Weight</text>
<line x1="233" y1="687.8" x2="233" y2="691" stroke="#000" stroke-width="1.1"/>
<text x="233" y="698.2" font-size="8.4" text-anchor="middle">Fat</text>
<line x1="279.7" y1="687.8" x2="279.7" y2="691" stroke="#000" stroke-width="1.1"/>
<text x="279.7" y="698.2" font-size="8.4" text-anchor="middle">Lean</text>
<rect x="214.9" y="683.26" width="15.2" height="4.54" fill="#000"/>
<rect x="236.5" y="683.46" width="16.3" height="4.34" fill="#5757f7"/>
<rect x="260.1" y="599.16" width="16.1" height="88.64" fill="#000"/>
<rect x="283.2" y="598.17" width="15.5" height="89.63" fill="#5757f7"/>
<circle cx="217.6" cy="682.67" r="2.4" fill="#fff" stroke="#000" stroke-width="1.1"/>
<circle cx="221.5" cy="681.39" r="2.4" fill="#fff" stroke="#000" stroke-width="1.1"/>
<circle cx="225.2" cy="682.08" r="2.4" fill="#fff" stroke="#000" stroke-width="1.1"/>
<circle cx="228.2" cy="682.67" r="2.4" fill="#fff" stroke="#000" stroke-width="1.1"/>
<circle cx="223" cy="683.26" r="2.4" fill="#fff" stroke="#000" stroke-width="1.1"/>
<rect x="238.1" y="681.06" width="4.8" height="4.8" fill="#fff" stroke="#5757f7" stroke-width="1.1"/>
<rect x="242.1" y="679.29" width="4.8" height="4.8" fill="#fff" stroke="#5757f7" stroke-width="1.1"/>
<rect x="247.1" y="680.86" width="4.8" height="4.8" fill="#fff" stroke="#5757f7" stroke-width="1.1"/>
<circle cx="262.3" cy="596.89" r="2.4" fill="#fff" stroke="#000" stroke-width="1.1"/>
<circle cx="262.3" cy="600.05" r="2.4" fill="#fff" stroke="#000" stroke-width="1.1"/>
<circle cx="266.4" cy="598.07" r="2.4" fill="#fff" stroke="#000" stroke-width="1.1"/>
<circle cx="270.5" cy="598.96" r="2.4" fill="#fff" stroke="#000" stroke-width="1.1"/>
<circle cx="274.5" cy="599.06" r="2.4" fill="#fff" stroke="#000" stroke-width="1.1"/>
<circle cx="266.7" cy="601.23" r="2.4" fill="#fff" stroke="#000" stroke-width="1.1"/>
<rect x="284.2" y="596.27" width="4.8" height="4.8" fill="#fff" stroke="#5757f7" stroke-width="1.1"/>
<rect x="288.8" y="595.08" width="4.8" height="4.8" fill="#fff" stroke="#5757f7" stroke-width="1.1"/>
<rect x="293.2" y="595.08" width="4.8" height="4.8" fill="#fff" stroke="#5757f7" stroke-width="1.1"/>
<text x="217.5" y="671" font-size="8.4" textLength="30.1" lengthAdjust="spacingAndGlyphs" fill="#231f20" style="stroke:none"><tspan font-style="italic">p</tspan> = 0.8335</text>
<line x1="221.3" y1="674.8" x2="244.7" y2="674.8" stroke="#3a2c2c" stroke-width="1.5"/>
<text x="264.5" y="589.6" font-size="8.4" textLength="31.3" lengthAdjust="spacingAndGlyphs" fill="#231f20" style="stroke:none"><tspan font-style="italic">p</tspan> = 0.6140</text>
<line x1="268" y1="593.1" x2="290" y2="593.1" stroke="#3a2c2c" stroke-width="1.5"/>
<circle cx="311.4" cy="583.8" r="2.8" fill="#fff" stroke="#000" stroke-width="1.2"/>
<text x="315.3" y="587" font-size="9" textLength="13.8" lengthAdjust="spacingAndGlyphs">WT</text>
<rect x="308.4" y="589.6" width="5.6" height="5.2" fill="#fff" stroke="#5757f7" stroke-width="1.1"/>
<text x="315.3" y="595" font-size="9" textLength="18.8" lengthAdjust="spacingAndGlyphs">AKO</text>
<text x="336" y="571.2" font-size="12.5" font-weight="bold">L</text>
<text x="454.8" y="573.1" font-size="9.35" text-anchor="middle">IP-GTT</text>
<line x1="377.4" y1="583.7" x2="377.4" y2="686.5" stroke="#000" stroke-width="1.2"/>
<line x1="376.8" y1="685.8" x2="528.5" y2="685.8" stroke="#000" stroke-width="1.2"/>
<line x1="373.9" y1="685.8" x2="377.4" y2="685.8" stroke="#000" stroke-width="1.1"/>
<text x="373.1" y="688.8" font-size="8.4" text-anchor="end">0</text>
<line x1="373.9" y1="660.38" x2="377.4" y2="660.38" stroke="#000" stroke-width="1.1"/>
<text x="373.1" y="663.38" font-size="8.4" text-anchor="end">100</text>
<line x1="373.9" y1="634.95" x2="377.4" y2="634.95" stroke="#000" stroke-width="1.1"/>
<text x="373.1" y="637.95" font-size="8.4" text-anchor="end">200</text>
<line x1="373.9" y1="609.52" x2="377.4" y2="609.52" stroke="#000" stroke-width="1.1"/>
<text x="373.1" y="612.52" font-size="8.4" text-anchor="end">300</text>
<line x1="373.9" y1="584.1" x2="377.4" y2="584.1" stroke="#000" stroke-width="1.1"/>
<text x="373.1" y="587.1" font-size="8.4" text-anchor="end">400</text>
<text x="353.9" y="635.2" font-size="8.75" text-anchor="middle" transform="rotate(-90 353.9 635.2)">Glucose (mg/dL)</text>
<line x1="388.4" y1="685.8" x2="388.4" y2="689" stroke="#000" stroke-width="1.1"/>
<text x="388.4" y="698.2" font-size="8.4" text-anchor="middle">0</text>
<line x1="421.1" y1="685.8" x2="421.1" y2="689" stroke="#000" stroke-width="1.1"/>
<text x="421.1" y="698.2" font-size="8.4" text-anchor="middle">30</text>
<line x1="453.8" y1="685.8" x2="453.8" y2="689" stroke="#000" stroke-width="1.1"/>
<text x="453.8" y="698.2" font-size="8.4" text-anchor="middle">60</text>
<line x1="486.5" y1="685.8" x2="486.5" y2="689" stroke="#000" stroke-width="1.1"/>
<text x="486.5" y="698.2" font-size="8.4" text-anchor="middle">90</text>
<line x1="519.2" y1="685.8" x2="519.2" y2="689" stroke="#000" stroke-width="1.1"/>
<text x="519.2" y="698.2" font-size="8.4" text-anchor="middle">120</text>
<text x="452.6" y="706.8" font-size="8.4" text-anchor="middle">Time(min)</text>
<path d="M388.40,659.61 L404.75,611.30 L421.10,611.56 L437.45,624.02 L453.80,629.61 L486.50,640.54 L519.20,646.90" stroke="#5757f7" fill="none" stroke-width="1.3"/>
<line x1="388.4" y1="660.88" x2="388.4" y2="658.34" stroke="#5757f7" stroke-width="1.0"/>
<line x1="386.9" y1="660.88" x2="389.9" y2="660.88" stroke="#5757f7" stroke-width="1.0"/>
<rect x="386.2" y="657.41" width="4.4" height="4.4" fill="#5757f7"/>
<line x1="404.75" y1="613.34" x2="404.75" y2="609.27" stroke="#5757f7" stroke-width="1.0"/>
<line x1="403.25" y1="613.34" x2="406.25" y2="613.34" stroke="#5757f7" stroke-width="1.0"/>
<rect x="402.55" y="609.1" width="4.4" height="4.4" fill="#5757f7"/>
<line x1="421.1" y1="612.83" x2="421.1" y2="610.29" stroke="#5757f7" stroke-width="1.0"/>
<line x1="419.6" y1="612.83" x2="422.6" y2="612.83" stroke="#5757f7" stroke-width="1.0"/>
<rect x="418.9" y="609.36" width="4.4" height="4.4" fill="#5757f7"/>
<line x1="437.45" y1="626.56" x2="437.45" y2="621.47" stroke="#5757f7" stroke-width="1.0"/>
<line x1="435.95" y1="626.56" x2="438.95" y2="626.56" stroke="#5757f7" stroke-width="1.0"/>
<rect x="435.25" y="621.82" width="4.4" height="4.4" fill="#5757f7"/>
<line x1="453.8" y1="632.66" x2="453.8" y2="626.56" stroke="#5757f7" stroke-width="1.0"/>
<line x1="452.3" y1="632.66" x2="455.3" y2="632.66" stroke="#5757f7" stroke-width="1.0"/>
<rect x="451.6" y="627.41" width="4.4" height="4.4" fill="#5757f7"/>
<line x1="486.5" y1="644.1" x2="486.5" y2="636.98" stroke="#5757f7" stroke-width="1.0"/>
<line x1="485" y1="644.1" x2="488" y2="644.1" stroke="#5757f7" stroke-width="1.0"/>
<rect x="484.3" y="638.34" width="4.4" height="4.4" fill="#5757f7"/>
<line x1="519.2" y1="648.68" x2="519.2" y2="645.12" stroke="#5757f7" stroke-width="1.0"/>
<line x1="517.7" y1="648.68" x2="520.7" y2="648.68" stroke="#5757f7" stroke-width="1.0"/>
<rect x="517" y="644.7" width="4.4" height="4.4" fill="#5757f7"/>
<path d="M388.40,658.34 L404.75,609.02 L421.10,614.61 L437.45,621.47 L453.80,626.81 L486.50,637.75 L519.20,646.90" stroke="#000" fill="none" stroke-width="1.3"/>
<line x1="388.4" y1="659.87" x2="388.4" y2="656.82" stroke="#000" stroke-width="1.0"/>
<line x1="386.6" y1="659.87" x2="390.2" y2="659.87" stroke="#000" stroke-width="1.0"/>
<line x1="386.6" y1="656.82" x2="390.2" y2="656.82" stroke="#000" stroke-width="1.0"/>
<rect x="385.9" y="655.84" width="5" height="5" fill="#000"/>
<line x1="404.75" y1="611.05" x2="404.75" y2="606.98" stroke="#000" stroke-width="1.0"/>
<line x1="402.95" y1="611.05" x2="406.55" y2="611.05" stroke="#000" stroke-width="1.0"/>
<line x1="402.95" y1="606.98" x2="406.55" y2="606.98" stroke="#000" stroke-width="1.0"/>
<rect x="402.25" y="606.52" width="5" height="5" fill="#000"/>
<line x1="421.1" y1="616.14" x2="421.1" y2="613.08" stroke="#000" stroke-width="1.0"/>
<line x1="419.3" y1="616.14" x2="422.9" y2="616.14" stroke="#000" stroke-width="1.0"/>
<line x1="419.3" y1="613.08" x2="422.9" y2="613.08" stroke="#000" stroke-width="1.0"/>
<rect x="418.6" y="612.11" width="5" height="5" fill="#000"/>
<line x1="437.45" y1="623.51" x2="437.45" y2="619.44" stroke="#000" stroke-width="1.0"/>
<line x1="435.65" y1="623.51" x2="439.25" y2="623.51" stroke="#000" stroke-width="1.0"/>
<line x1="435.65" y1="619.44" x2="439.25" y2="619.44" stroke="#000" stroke-width="1.0"/>
<rect x="434.95" y="618.97" width="5" height="5" fill="#000"/>
<line x1="453.8" y1="629.1" x2="453.8" y2="624.53" stroke="#000" stroke-width="1.0"/>
<line x1="452" y1="629.1" x2="455.6" y2="629.1" stroke="#000" stroke-width="1.0"/>
<line x1="452" y1="624.53" x2="455.6" y2="624.53" stroke="#000" stroke-width="1.0"/>
<rect x="451.3" y="624.31" width="5" height="5" fill="#000"/>
<line x1="486.5" y1="639.78" x2="486.5" y2="635.71" stroke="#000" stroke-width="1.0"/>
<line x1="484.7" y1="639.78" x2="488.3" y2="639.78" stroke="#000" stroke-width="1.0"/>
<line x1="484.7" y1="635.71" x2="488.3" y2="635.71" stroke="#000" stroke-width="1.0"/>
<rect x="484" y="635.25" width="5" height="5" fill="#000"/>
<line x1="519.2" y1="648.93" x2="519.2" y2="644.87" stroke="#000" stroke-width="1.0"/>
<line x1="517.4" y1="648.93" x2="521" y2="648.93" stroke="#000" stroke-width="1.0"/>
<line x1="517.4" y1="644.87" x2="521" y2="644.87" stroke="#000" stroke-width="1.0"/>
<rect x="516.7" y="644.4" width="5" height="5" fill="#000"/>
<line x1="493.5" y1="589.5" x2="505.2" y2="589.5" stroke="#000" stroke-width="1.3"/>
<rect x="497" y="587.2" width="4.6" height="4.6" fill="#000"/>
<text x="509.6" y="592.3" font-size="8.4">WT</text>
<line x1="493.5" y1="601.7" x2="505.2" y2="601.7" stroke="#5757f7" stroke-width="1.3"/>
<rect x="497.3" y="599.7" width="4" height="4" fill="#5757f7"/>
<text x="509.6" y="604.5" font-size="8.4">AKO</text>
<text x="621.9" y="574.2" font-size="9.6" text-anchor="middle">AUC</text>
<line x1="585.4" y1="585.8" x2="585.4" y2="686.8" stroke="#000" stroke-width="1.2"/>
<line x1="584.8" y1="686.1" x2="653.1" y2="686.1" stroke="#000" stroke-width="1.2"/>
<line x1="581.9" y1="686.1" x2="585.4" y2="686.1" stroke="#000" stroke-width="1.1"/>
<text x="579.5" y="689.1" font-size="8.4" text-anchor="end">0</text>
<line x1="581.9" y1="661.12" x2="585.4" y2="661.12" stroke="#000" stroke-width="1.1"/>
<text x="579.5" y="664.12" font-size="8.4" text-anchor="end">10000</text>
<line x1="581.9" y1="636.15" x2="585.4" y2="636.15" stroke="#000" stroke-width="1.1"/>
<text x="579.5" y="639.15" font-size="8.4" text-anchor="end">20000</text>
<line x1="581.9" y1="611.18" x2="585.4" y2="611.18" stroke="#000" stroke-width="1.1"/>
<text x="579.5" y="614.18" font-size="8.4" text-anchor="end">30000</text>
<line x1="581.9" y1="586.2" x2="585.4" y2="586.2" stroke="#000" stroke-width="1.1"/>
<text x="579.5" y="589.2" font-size="8.4" text-anchor="end">40000</text>
<text x="550.6" y="632.7" font-size="8.66" text-anchor="middle" transform="rotate(-90 550.6 632.7)">Arbitrary value</text>
<text x="604.5" y="698.2" font-size="8.4" text-anchor="middle">WT</text>
<text x="633.4" y="698.2" font-size="8.4" text-anchor="middle">AKO</text>
<rect x="595.1" y="619.92" width="19.1" height="66.18" fill="#000"/>
<rect x="623.7" y="621.17" width="19.2" height="64.93" fill="#5757f7"/>
<line x1="604.6" y1="619.92" x2="604.6" y2="617.92" stroke="#000" stroke-width="1.1"/>
<line x1="602" y1="617.92" x2="607.2" y2="617.92" stroke="#000" stroke-width="1.1"/>
<line x1="633.3" y1="621.17" x2="633.3" y2="617.42" stroke="#5757f7" stroke-width="1.1"/>
<line x1="630.7" y1="617.42" x2="635.9" y2="617.42" stroke="#5757f7" stroke-width="1.1"/>
<circle cx="604.5" cy="609.68" r="2.4" fill="#fff" stroke="#000" stroke-width="1.1"/>
<circle cx="601.2" cy="617.17" r="2.4" fill="#fff" stroke="#000" stroke-width="1.1"/>
<circle cx="606.5" cy="618.67" r="2.4" fill="#fff" stroke="#000" stroke-width="1.1"/>
<circle cx="597.4" cy="623.66" r="2.4" fill="#fff" stroke="#000" stroke-width="1.1"/>
<circle cx="601.5" cy="621.91" r="2.4" fill="#fff" stroke="#000" stroke-width="1.1"/>
<circle cx="605.5" cy="622.41" r="2.4" fill="#fff" stroke="#000" stroke-width="1.1"/>
<circle cx="611.8" cy="623.66" r="2.4" fill="#fff" stroke="#000" stroke-width="1.1"/>
<rect x="626.8" y="609.52" width="4.8" height="4.8" fill="#fff" stroke="#5757f7" stroke-width="1.1"/>
<rect x="635.4" y="613.27" width="4.8" height="4.8" fill="#fff" stroke="#5757f7" stroke-width="1.1"/>
<rect x="627.4" y="621.01" width="4.8" height="4.8" fill="#fff" stroke="#5757f7" stroke-width="1.1"/>
<rect x="634.4" y="619.51" width="4.8" height="4.8" fill="#fff" stroke="#5757f7" stroke-width="1.1"/>
<rect x="631.2" y="628.76" width="4.8" height="4.8" fill="#fff" stroke="#5757f7" stroke-width="1.1"/>
<rect x="634.1" y="617.02" width="4.8" height="4.8" fill="#fff" stroke="#5757f7" stroke-width="1.1"/>
<text x="604.5" y="597.2" font-size="8.4" textLength="30.2" lengthAdjust="spacingAndGlyphs" fill="#231f20" style="stroke:none"><tspan font-style="italic">p</tspan> = 0.7028</text>
<line x1="606.6" y1="601.1" x2="630.8" y2="601.1" stroke="#3a2c2c" stroke-width="1.5"/>
</svg>
</body></html>
